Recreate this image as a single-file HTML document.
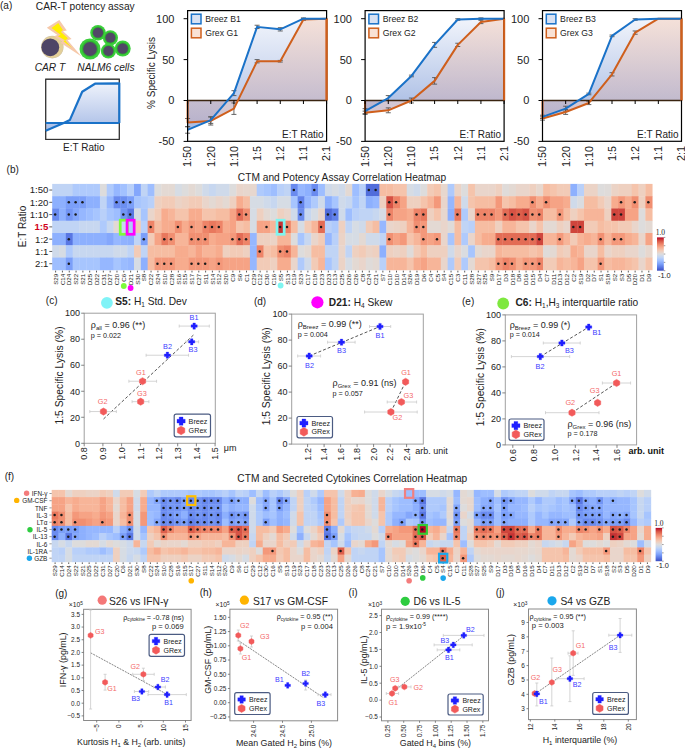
<!DOCTYPE html>
<html><head><meta charset="utf-8"><style>
html,body{margin:0;padding:0;background:#fff;}
svg{display:block;font-family:"Liberation Sans", sans-serif;}
</style></head><body>
<svg width="685" height="748" viewBox="0 0 685 748">
<rect width="685" height="748" fill="#fff"/>
<text x="0" y="9" font-size="10" fill="#222">(a)</text>
<text x="35.8" y="9.8" font-size="10.2" fill="#222">CAR-T potency assay</text>
<circle cx="52.3" cy="47.1" r="11.3" fill="#cfc3a6"/>
<circle cx="52.3" cy="47.1" r="10.8" fill="#e3cf98"/>
<circle cx="50.3" cy="47.3" r="8.9" fill="#4e4566"/>
<polygon points="59.3,20 66.8,30.6 63,31.3 71.6,38.9 67.6,40.2 81.5,56.5 60.5,42.8 62.3,41.6 54,36.3 57.4,35 46.8,27.8" fill="#f6c9aa" stroke="none" stroke-width="1"/>
<polygon points="58.3,23 62.9,29.9 60.9,31.9 67.9,38.3 65.3,40.5 72,47.9 63.5,41.2 65,40.3 58,36.2 60.6,34.8 51.5,27.9" fill="#ffee00" stroke="none" stroke-width="1"/>
<circle cx="90" cy="49" r="10.5" fill="#3ccf3c"/>
<circle cx="90" cy="49" r="8.19" fill="#2fb52f"/>
<circle cx="90" cy="49" r="6.93" fill="#514766"/>
<circle cx="98" cy="32.7" r="7.8" fill="#3ccf3c"/>
<circle cx="98" cy="32.7" r="6.08" fill="#2fb52f"/>
<circle cx="98" cy="32.7" r="5.15" fill="#514766"/>
<circle cx="110.4" cy="37.8" r="7.6" fill="#3ccf3c"/>
<circle cx="110.4" cy="37.8" r="5.93" fill="#2fb52f"/>
<circle cx="110.4" cy="37.8" r="5.02" fill="#514766"/>
<circle cx="108.4" cy="51" r="7.6" fill="#3ccf3c"/>
<circle cx="108.4" cy="51" r="5.93" fill="#2fb52f"/>
<circle cx="108.4" cy="51" r="5.02" fill="#514766"/>
<circle cx="122.7" cy="48.5" r="8" fill="#3ccf3c"/>
<circle cx="122.7" cy="48.5" r="6.24" fill="#2fb52f"/>
<circle cx="122.7" cy="48.5" r="5.28" fill="#514766"/>
<text x="34.7" y="70.8" font-size="10.2" font-style="italic" fill="#222">CAR T</text>
<text x="77.3" y="70.8" font-size="10.2" font-style="italic" fill="#222">NALM6 cells</text>
<defs><linearGradient id="gb" x1="0" y1="0" x2="0" y2="1"><stop offset="0" stop-color="#eef2fb"/><stop offset="1" stop-color="#a9bde6"/></linearGradient><linearGradient id="gB" x1="0" y1="0" x2="0" y2="1"><stop offset="0" stop-color="#f1f4fb"/><stop offset="1" stop-color="#a8bce4"/></linearGradient><linearGradient id="gO" x1="0" y1="0" x2="0" y2="1"><stop offset="0" stop-color="#f6dcd0" stop-opacity="0.8"/><stop offset="1" stop-color="#bdaec2" stop-opacity="0.72"/></linearGradient></defs>
<rect x="45.7" y="79.2" width="73.6" height="60.2" fill="#fff" stroke="#333" stroke-width="1"/>
<polygon points="45.7,130.7 63.7,123 69.8,120.1 82.2,91.7 95,83.7 119.3,83.3 119.3,123 45.7,123" fill="url(#gb)" stroke="none" stroke-width="1"/>
<rect x="45.7" y="79.2" width="73.6" height="60.2" fill="none" stroke="#333" stroke-width="1"/>
<polyline points="45.7,123 119.3,123" fill="none" stroke="#1a72c8" stroke-width="2.2"/>
<polyline points="45.7,130.7 63.7,123 69.8,120.1 82.2,91.7 95,83.7 119.3,83.3 119.3,123" fill="none" stroke="#1a72c8" stroke-width="2.2" stroke-linejoin="round"/>
<text x="83.8" y="150.6" font-size="10" text-anchor="middle" fill="#222">E:T Ratio</text>
<rect x="187.6" y="10.6" width="139" height="130.7" fill="#fff" stroke="none" stroke-width="1"/>
<polygon points="187.6,100.5 187.6,129.95 210.77,120.13 233.93,93.14 257.1,26.88 280.27,29.33 303.43,18.7 326.6,18.7 326.6,100.5" fill="url(#gB)" stroke="none" stroke-width="1"/>
<polygon points="187.6,100.5 187.6,122.59 210.77,120.95 233.93,108.68 257.1,61.24 280.27,61.24 303.43,19.52 326.6,18.7 326.6,100.5" fill="url(#gO)" stroke="none" stroke-width="1"/>
<line x1="187.6" y1="126.68" x2="187.6" y2="133.22" stroke="#555" stroke-width="0.9"/>
<line x1="185.1" y1="126.68" x2="190.1" y2="126.68" stroke="#555" stroke-width="0.9"/>
<line x1="185.1" y1="133.22" x2="190.1" y2="133.22" stroke="#555" stroke-width="0.9"/>
<line x1="210.77" y1="116.86" x2="210.77" y2="123.4" stroke="#555" stroke-width="0.9"/>
<line x1="208.27" y1="116.86" x2="213.27" y2="116.86" stroke="#555" stroke-width="0.9"/>
<line x1="208.27" y1="123.4" x2="213.27" y2="123.4" stroke="#555" stroke-width="0.9"/>
<line x1="233.93" y1="90.68" x2="233.93" y2="95.59" stroke="#555" stroke-width="0.9"/>
<line x1="231.43" y1="90.68" x2="236.43" y2="90.68" stroke="#555" stroke-width="0.9"/>
<line x1="231.43" y1="95.59" x2="236.43" y2="95.59" stroke="#555" stroke-width="0.9"/>
<line x1="257.1" y1="25.24" x2="257.1" y2="28.52" stroke="#555" stroke-width="0.9"/>
<line x1="254.6" y1="25.24" x2="259.6" y2="25.24" stroke="#555" stroke-width="0.9"/>
<line x1="254.6" y1="28.52" x2="259.6" y2="28.52" stroke="#555" stroke-width="0.9"/>
<line x1="280.27" y1="27.7" x2="280.27" y2="30.97" stroke="#555" stroke-width="0.9"/>
<line x1="277.77" y1="27.7" x2="282.77" y2="27.7" stroke="#555" stroke-width="0.9"/>
<line x1="277.77" y1="30.97" x2="282.77" y2="30.97" stroke="#555" stroke-width="0.9"/>
<line x1="303.43" y1="17.88" x2="303.43" y2="19.52" stroke="#555" stroke-width="0.9"/>
<line x1="300.93" y1="17.88" x2="305.93" y2="17.88" stroke="#555" stroke-width="0.9"/>
<line x1="300.93" y1="19.52" x2="305.93" y2="19.52" stroke="#555" stroke-width="0.9"/>
<line x1="187.6" y1="118.5" x2="187.6" y2="126.68" stroke="#555" stroke-width="0.9"/>
<line x1="185.1" y1="118.5" x2="190.1" y2="118.5" stroke="#555" stroke-width="0.9"/>
<line x1="185.1" y1="126.68" x2="190.1" y2="126.68" stroke="#555" stroke-width="0.9"/>
<line x1="210.77" y1="116.86" x2="210.77" y2="125.04" stroke="#555" stroke-width="0.9"/>
<line x1="208.27" y1="116.86" x2="213.27" y2="116.86" stroke="#555" stroke-width="0.9"/>
<line x1="208.27" y1="125.04" x2="213.27" y2="125.04" stroke="#555" stroke-width="0.9"/>
<line x1="233.93" y1="102.95" x2="233.93" y2="114.41" stroke="#555" stroke-width="0.9"/>
<line x1="231.43" y1="102.95" x2="236.43" y2="102.95" stroke="#555" stroke-width="0.9"/>
<line x1="231.43" y1="114.41" x2="236.43" y2="114.41" stroke="#555" stroke-width="0.9"/>
<line x1="257.1" y1="59.6" x2="257.1" y2="62.87" stroke="#555" stroke-width="0.9"/>
<line x1="254.6" y1="59.6" x2="259.6" y2="59.6" stroke="#555" stroke-width="0.9"/>
<line x1="254.6" y1="62.87" x2="259.6" y2="62.87" stroke="#555" stroke-width="0.9"/>
<line x1="280.27" y1="60.42" x2="280.27" y2="62.05" stroke="#555" stroke-width="0.9"/>
<line x1="277.77" y1="60.42" x2="282.77" y2="60.42" stroke="#555" stroke-width="0.9"/>
<line x1="277.77" y1="62.05" x2="282.77" y2="62.05" stroke="#555" stroke-width="0.9"/>
<line x1="303.43" y1="18.7" x2="303.43" y2="20.34" stroke="#555" stroke-width="0.9"/>
<line x1="300.93" y1="18.7" x2="305.93" y2="18.7" stroke="#555" stroke-width="0.9"/>
<line x1="300.93" y1="20.34" x2="305.93" y2="20.34" stroke="#555" stroke-width="0.9"/>
<line x1="187.6" y1="100.5" x2="326.6" y2="100.5" stroke="#3a2410" stroke-width="1.4"/>
<polyline points="187.6,100.5 187.6,122.59 210.77,120.95 233.93,108.68 257.1,61.24 280.27,61.24 303.43,19.52 326.6,18.7 326.6,100.5" fill="none" stroke="#cf5f1c" stroke-width="2" stroke-linejoin="round"/>
<polyline points="187.6,129.95 210.77,120.13 233.93,93.14 257.1,26.88 280.27,29.33 303.43,18.7 326.6,18.7" fill="none" stroke="#1a72c8" stroke-width="2" stroke-linejoin="round"/>
<rect x="187.6" y="10.6" width="139" height="130.7" fill="none" stroke="#000" stroke-width="1.2"/>
<line x1="326.6" y1="18.7" x2="326.6" y2="100.5" stroke="#cf5f1c" stroke-width="2"/>
<line x1="183.6" y1="18.7" x2="187.6" y2="18.7" stroke="#000" stroke-width="1"/>
<text x="174.4" y="22.6" font-size="11" text-anchor="end" fill="#222">100</text>
<line x1="183.6" y1="59.6" x2="187.6" y2="59.6" stroke="#000" stroke-width="1"/>
<text x="174.4" y="63.5" font-size="11" text-anchor="end" fill="#222">50</text>
<line x1="183.6" y1="100.5" x2="187.6" y2="100.5" stroke="#000" stroke-width="1"/>
<text x="174.4" y="104.4" font-size="11" text-anchor="end" fill="#222">0</text>
<line x1="183.6" y1="141.4" x2="187.6" y2="141.4" stroke="#000" stroke-width="1"/>
<text x="174.4" y="145.3" font-size="11" text-anchor="end" fill="#222">-50</text>
<line x1="187.6" y1="100.5" x2="187.6" y2="104" stroke="#000" stroke-width="1"/>
<text x="191.5" y="145.9" font-size="10.8" text-anchor="end" fill="#222" transform="rotate(-90 191.5 145.9)">1:50</text>
<line x1="210.77" y1="100.5" x2="210.77" y2="104" stroke="#000" stroke-width="1"/>
<text x="214.67" y="145.9" font-size="10.8" text-anchor="end" fill="#222" transform="rotate(-90 214.67 145.9)">1:20</text>
<line x1="233.93" y1="100.5" x2="233.93" y2="104" stroke="#000" stroke-width="1"/>
<text x="237.83" y="145.9" font-size="10.8" text-anchor="end" fill="#222" transform="rotate(-90 237.83 145.9)">1:10</text>
<line x1="257.1" y1="100.5" x2="257.1" y2="104" stroke="#000" stroke-width="1"/>
<text x="261" y="145.9" font-size="10.8" text-anchor="end" fill="#222" transform="rotate(-90 261 145.9)">1:5</text>
<line x1="280.27" y1="100.5" x2="280.27" y2="104" stroke="#000" stroke-width="1"/>
<text x="284.17" y="145.9" font-size="10.8" text-anchor="end" fill="#222" transform="rotate(-90 284.17 145.9)">1:2</text>
<line x1="303.43" y1="100.5" x2="303.43" y2="104" stroke="#000" stroke-width="1"/>
<text x="307.33" y="145.9" font-size="10.8" text-anchor="end" fill="#222" transform="rotate(-90 307.33 145.9)">1:1</text>
<line x1="326.6" y1="100.5" x2="326.6" y2="104" stroke="#000" stroke-width="1"/>
<text x="330.5" y="145.9" font-size="10.8" text-anchor="end" fill="#222" transform="rotate(-90 330.5 145.9)">2:1</text>
<text x="323.6" y="137.5" font-size="10" text-anchor="end" fill="#222">E:T Ratio</text>
<rect x="191.4" y="14.2" width="9.6" height="9.6" fill="#d7e1f3" stroke="#1a72c8" stroke-width="1.5"/>
<rect x="191.4" y="28.2" width="9.6" height="9.6" fill="#f9e1d4" stroke="#cf5f1c" stroke-width="1.5"/>
<text x="205.2" y="22.2" font-size="8.7" fill="#222">Breez B1</text>
<text x="205.2" y="36.3" font-size="8.7" fill="#222">Grex G1</text>
<rect x="365.1" y="10.6" width="139" height="130.7" fill="#fff" stroke="none" stroke-width="1"/>
<polygon points="365.1,100.5 365.1,111.13 388.27,98.05 411.43,75.96 434.6,44.88 457.77,19.52 480.93,18.7 504.1,18.7 504.1,100.5" fill="url(#gB)" stroke="none" stroke-width="1"/>
<polygon points="365.1,100.5 365.1,112.77 388.27,110.32 411.43,100.5 434.6,80.87 457.77,44.88 480.93,21.97 504.1,18.7 504.1,100.5" fill="url(#gO)" stroke="none" stroke-width="1"/>
<line x1="365.1" y1="108.68" x2="365.1" y2="113.59" stroke="#555" stroke-width="0.9"/>
<line x1="362.6" y1="108.68" x2="367.6" y2="108.68" stroke="#555" stroke-width="0.9"/>
<line x1="362.6" y1="113.59" x2="367.6" y2="113.59" stroke="#555" stroke-width="0.9"/>
<line x1="388.27" y1="95.59" x2="388.27" y2="100.5" stroke="#555" stroke-width="0.9"/>
<line x1="385.77" y1="95.59" x2="390.77" y2="95.59" stroke="#555" stroke-width="0.9"/>
<line x1="385.77" y1="100.5" x2="390.77" y2="100.5" stroke="#555" stroke-width="0.9"/>
<line x1="411.43" y1="75.14" x2="411.43" y2="76.78" stroke="#555" stroke-width="0.9"/>
<line x1="408.93" y1="75.14" x2="413.93" y2="75.14" stroke="#555" stroke-width="0.9"/>
<line x1="408.93" y1="76.78" x2="413.93" y2="76.78" stroke="#555" stroke-width="0.9"/>
<line x1="434.6" y1="42.42" x2="434.6" y2="47.33" stroke="#555" stroke-width="0.9"/>
<line x1="432.1" y1="42.42" x2="437.1" y2="42.42" stroke="#555" stroke-width="0.9"/>
<line x1="432.1" y1="47.33" x2="437.1" y2="47.33" stroke="#555" stroke-width="0.9"/>
<line x1="457.77" y1="18.7" x2="457.77" y2="20.34" stroke="#555" stroke-width="0.9"/>
<line x1="455.27" y1="18.7" x2="460.27" y2="18.7" stroke="#555" stroke-width="0.9"/>
<line x1="455.27" y1="20.34" x2="460.27" y2="20.34" stroke="#555" stroke-width="0.9"/>
<line x1="480.93" y1="17.88" x2="480.93" y2="19.52" stroke="#555" stroke-width="0.9"/>
<line x1="478.43" y1="17.88" x2="483.43" y2="17.88" stroke="#555" stroke-width="0.9"/>
<line x1="478.43" y1="19.52" x2="483.43" y2="19.52" stroke="#555" stroke-width="0.9"/>
<line x1="365.1" y1="111.13" x2="365.1" y2="114.41" stroke="#555" stroke-width="0.9"/>
<line x1="362.6" y1="111.13" x2="367.6" y2="111.13" stroke="#555" stroke-width="0.9"/>
<line x1="362.6" y1="114.41" x2="367.6" y2="114.41" stroke="#555" stroke-width="0.9"/>
<line x1="388.27" y1="107.86" x2="388.27" y2="112.77" stroke="#555" stroke-width="0.9"/>
<line x1="385.77" y1="107.86" x2="390.77" y2="107.86" stroke="#555" stroke-width="0.9"/>
<line x1="385.77" y1="112.77" x2="390.77" y2="112.77" stroke="#555" stroke-width="0.9"/>
<line x1="411.43" y1="98.05" x2="411.43" y2="102.95" stroke="#555" stroke-width="0.9"/>
<line x1="408.93" y1="98.05" x2="413.93" y2="98.05" stroke="#555" stroke-width="0.9"/>
<line x1="408.93" y1="102.95" x2="413.93" y2="102.95" stroke="#555" stroke-width="0.9"/>
<line x1="434.6" y1="77.6" x2="434.6" y2="84.14" stroke="#555" stroke-width="0.9"/>
<line x1="432.1" y1="77.6" x2="437.1" y2="77.6" stroke="#555" stroke-width="0.9"/>
<line x1="432.1" y1="84.14" x2="437.1" y2="84.14" stroke="#555" stroke-width="0.9"/>
<line x1="457.77" y1="43.24" x2="457.77" y2="46.51" stroke="#555" stroke-width="0.9"/>
<line x1="455.27" y1="43.24" x2="460.27" y2="43.24" stroke="#555" stroke-width="0.9"/>
<line x1="455.27" y1="46.51" x2="460.27" y2="46.51" stroke="#555" stroke-width="0.9"/>
<line x1="480.93" y1="20.34" x2="480.93" y2="23.61" stroke="#555" stroke-width="0.9"/>
<line x1="478.43" y1="20.34" x2="483.43" y2="20.34" stroke="#555" stroke-width="0.9"/>
<line x1="478.43" y1="23.61" x2="483.43" y2="23.61" stroke="#555" stroke-width="0.9"/>
<line x1="365.1" y1="100.5" x2="504.1" y2="100.5" stroke="#3a2410" stroke-width="1.4"/>
<polyline points="365.1,100.5 365.1,112.77 388.27,110.32 411.43,100.5 434.6,80.87 457.77,44.88 480.93,21.97 504.1,18.7 504.1,100.5" fill="none" stroke="#cf5f1c" stroke-width="2" stroke-linejoin="round"/>
<polyline points="365.1,111.13 388.27,98.05 411.43,75.96 434.6,44.88 457.77,19.52 480.93,18.7 504.1,18.7" fill="none" stroke="#1a72c8" stroke-width="2" stroke-linejoin="round"/>
<rect x="365.1" y="10.6" width="139" height="130.7" fill="none" stroke="#000" stroke-width="1.2"/>
<line x1="504.1" y1="18.7" x2="504.1" y2="100.5" stroke="#cf5f1c" stroke-width="2"/>
<line x1="361.1" y1="18.7" x2="365.1" y2="18.7" stroke="#000" stroke-width="1"/>
<text x="351.9" y="22.6" font-size="11" text-anchor="end" fill="#222">100</text>
<line x1="361.1" y1="59.6" x2="365.1" y2="59.6" stroke="#000" stroke-width="1"/>
<text x="351.9" y="63.5" font-size="11" text-anchor="end" fill="#222">50</text>
<line x1="361.1" y1="100.5" x2="365.1" y2="100.5" stroke="#000" stroke-width="1"/>
<text x="351.9" y="104.4" font-size="11" text-anchor="end" fill="#222">0</text>
<line x1="361.1" y1="141.4" x2="365.1" y2="141.4" stroke="#000" stroke-width="1"/>
<text x="351.9" y="145.3" font-size="11" text-anchor="end" fill="#222">-50</text>
<line x1="365.1" y1="100.5" x2="365.1" y2="104" stroke="#000" stroke-width="1"/>
<text x="369" y="145.9" font-size="10.8" text-anchor="end" fill="#222" transform="rotate(-90 369 145.9)">1:50</text>
<line x1="388.27" y1="100.5" x2="388.27" y2="104" stroke="#000" stroke-width="1"/>
<text x="392.17" y="145.9" font-size="10.8" text-anchor="end" fill="#222" transform="rotate(-90 392.17 145.9)">1:20</text>
<line x1="411.43" y1="100.5" x2="411.43" y2="104" stroke="#000" stroke-width="1"/>
<text x="415.33" y="145.9" font-size="10.8" text-anchor="end" fill="#222" transform="rotate(-90 415.33 145.9)">1:10</text>
<line x1="434.6" y1="100.5" x2="434.6" y2="104" stroke="#000" stroke-width="1"/>
<text x="438.5" y="145.9" font-size="10.8" text-anchor="end" fill="#222" transform="rotate(-90 438.5 145.9)">1:5</text>
<line x1="457.77" y1="100.5" x2="457.77" y2="104" stroke="#000" stroke-width="1"/>
<text x="461.67" y="145.9" font-size="10.8" text-anchor="end" fill="#222" transform="rotate(-90 461.67 145.9)">1:2</text>
<line x1="480.93" y1="100.5" x2="480.93" y2="104" stroke="#000" stroke-width="1"/>
<text x="484.83" y="145.9" font-size="10.8" text-anchor="end" fill="#222" transform="rotate(-90 484.83 145.9)">1:1</text>
<line x1="504.1" y1="100.5" x2="504.1" y2="104" stroke="#000" stroke-width="1"/>
<text x="508" y="145.9" font-size="10.8" text-anchor="end" fill="#222" transform="rotate(-90 508 145.9)">2:1</text>
<text x="501.1" y="137.5" font-size="10" text-anchor="end" fill="#222">E:T Ratio</text>
<rect x="368.9" y="14.2" width="9.6" height="9.6" fill="#d7e1f3" stroke="#1a72c8" stroke-width="1.5"/>
<rect x="368.9" y="28.2" width="9.6" height="9.6" fill="#f9e1d4" stroke="#cf5f1c" stroke-width="1.5"/>
<text x="382.7" y="22.2" font-size="8.7" fill="#222">Breez B2</text>
<text x="382.7" y="36.3" font-size="8.7" fill="#222">Grex G2</text>
<rect x="542.5" y="10.6" width="139" height="130.7" fill="#fff" stroke="none" stroke-width="1"/>
<polygon points="542.5,100.5 542.5,116.86 565.67,108.68 588.83,93.96 612,35.88 635.17,19.52 658.33,18.7 681.5,18.7 681.5,100.5" fill="url(#gB)" stroke="none" stroke-width="1"/>
<polygon points="542.5,100.5 542.5,118.5 565.67,111.95 588.83,102.95 612,74.32 635.17,32.61 658.33,18.7 681.5,18.7 681.5,100.5" fill="url(#gO)" stroke="none" stroke-width="1"/>
<line x1="542.5" y1="115.22" x2="542.5" y2="118.5" stroke="#555" stroke-width="0.9"/>
<line x1="540" y1="115.22" x2="545" y2="115.22" stroke="#555" stroke-width="0.9"/>
<line x1="540" y1="118.5" x2="545" y2="118.5" stroke="#555" stroke-width="0.9"/>
<line x1="565.67" y1="106.23" x2="565.67" y2="111.13" stroke="#555" stroke-width="0.9"/>
<line x1="563.17" y1="106.23" x2="568.17" y2="106.23" stroke="#555" stroke-width="0.9"/>
<line x1="563.17" y1="111.13" x2="568.17" y2="111.13" stroke="#555" stroke-width="0.9"/>
<line x1="588.83" y1="93.14" x2="588.83" y2="94.77" stroke="#555" stroke-width="0.9"/>
<line x1="586.33" y1="93.14" x2="591.33" y2="93.14" stroke="#555" stroke-width="0.9"/>
<line x1="586.33" y1="94.77" x2="591.33" y2="94.77" stroke="#555" stroke-width="0.9"/>
<line x1="612" y1="35.06" x2="612" y2="36.7" stroke="#555" stroke-width="0.9"/>
<line x1="609.5" y1="35.06" x2="614.5" y2="35.06" stroke="#555" stroke-width="0.9"/>
<line x1="609.5" y1="36.7" x2="614.5" y2="36.7" stroke="#555" stroke-width="0.9"/>
<line x1="635.17" y1="18.7" x2="635.17" y2="20.34" stroke="#555" stroke-width="0.9"/>
<line x1="632.67" y1="18.7" x2="637.67" y2="18.7" stroke="#555" stroke-width="0.9"/>
<line x1="632.67" y1="20.34" x2="637.67" y2="20.34" stroke="#555" stroke-width="0.9"/>
<line x1="542.5" y1="116.86" x2="542.5" y2="120.13" stroke="#555" stroke-width="0.9"/>
<line x1="540" y1="116.86" x2="545" y2="116.86" stroke="#555" stroke-width="0.9"/>
<line x1="540" y1="120.13" x2="545" y2="120.13" stroke="#555" stroke-width="0.9"/>
<line x1="565.67" y1="109.5" x2="565.67" y2="114.41" stroke="#555" stroke-width="0.9"/>
<line x1="563.17" y1="109.5" x2="568.17" y2="109.5" stroke="#555" stroke-width="0.9"/>
<line x1="563.17" y1="114.41" x2="568.17" y2="114.41" stroke="#555" stroke-width="0.9"/>
<line x1="588.83" y1="101.32" x2="588.83" y2="104.59" stroke="#555" stroke-width="0.9"/>
<line x1="586.33" y1="101.32" x2="591.33" y2="101.32" stroke="#555" stroke-width="0.9"/>
<line x1="586.33" y1="104.59" x2="591.33" y2="104.59" stroke="#555" stroke-width="0.9"/>
<line x1="612" y1="72.69" x2="612" y2="75.96" stroke="#555" stroke-width="0.9"/>
<line x1="609.5" y1="72.69" x2="614.5" y2="72.69" stroke="#555" stroke-width="0.9"/>
<line x1="609.5" y1="75.96" x2="614.5" y2="75.96" stroke="#555" stroke-width="0.9"/>
<line x1="635.17" y1="30.97" x2="635.17" y2="34.24" stroke="#555" stroke-width="0.9"/>
<line x1="632.67" y1="30.97" x2="637.67" y2="30.97" stroke="#555" stroke-width="0.9"/>
<line x1="632.67" y1="34.24" x2="637.67" y2="34.24" stroke="#555" stroke-width="0.9"/>
<line x1="542.5" y1="100.5" x2="681.5" y2="100.5" stroke="#3a2410" stroke-width="1.4"/>
<polyline points="542.5,100.5 542.5,118.5 565.67,111.95 588.83,102.95 612,74.32 635.17,32.61 658.33,18.7 681.5,18.7 681.5,100.5" fill="none" stroke="#cf5f1c" stroke-width="2" stroke-linejoin="round"/>
<polyline points="542.5,116.86 565.67,108.68 588.83,93.96 612,35.88 635.17,19.52 658.33,18.7 681.5,18.7" fill="none" stroke="#1a72c8" stroke-width="2" stroke-linejoin="round"/>
<rect x="542.5" y="10.6" width="139" height="130.7" fill="none" stroke="#000" stroke-width="1.2"/>
<line x1="681.5" y1="18.7" x2="681.5" y2="100.5" stroke="#cf5f1c" stroke-width="2"/>
<line x1="538.5" y1="18.7" x2="542.5" y2="18.7" stroke="#000" stroke-width="1"/>
<text x="529.3" y="22.6" font-size="11" text-anchor="end" fill="#222">100</text>
<line x1="538.5" y1="59.6" x2="542.5" y2="59.6" stroke="#000" stroke-width="1"/>
<text x="529.3" y="63.5" font-size="11" text-anchor="end" fill="#222">50</text>
<line x1="538.5" y1="100.5" x2="542.5" y2="100.5" stroke="#000" stroke-width="1"/>
<text x="529.3" y="104.4" font-size="11" text-anchor="end" fill="#222">0</text>
<line x1="538.5" y1="141.4" x2="542.5" y2="141.4" stroke="#000" stroke-width="1"/>
<text x="529.3" y="145.3" font-size="11" text-anchor="end" fill="#222">-50</text>
<line x1="542.5" y1="100.5" x2="542.5" y2="104" stroke="#000" stroke-width="1"/>
<text x="546.4" y="145.9" font-size="10.8" text-anchor="end" fill="#222" transform="rotate(-90 546.4 145.9)">1:50</text>
<line x1="565.67" y1="100.5" x2="565.67" y2="104" stroke="#000" stroke-width="1"/>
<text x="569.57" y="145.9" font-size="10.8" text-anchor="end" fill="#222" transform="rotate(-90 569.57 145.9)">1:20</text>
<line x1="588.83" y1="100.5" x2="588.83" y2="104" stroke="#000" stroke-width="1"/>
<text x="592.73" y="145.9" font-size="10.8" text-anchor="end" fill="#222" transform="rotate(-90 592.73 145.9)">1:10</text>
<line x1="612" y1="100.5" x2="612" y2="104" stroke="#000" stroke-width="1"/>
<text x="615.9" y="145.9" font-size="10.8" text-anchor="end" fill="#222" transform="rotate(-90 615.9 145.9)">1:5</text>
<line x1="635.17" y1="100.5" x2="635.17" y2="104" stroke="#000" stroke-width="1"/>
<text x="639.07" y="145.9" font-size="10.8" text-anchor="end" fill="#222" transform="rotate(-90 639.07 145.9)">1:2</text>
<line x1="658.33" y1="100.5" x2="658.33" y2="104" stroke="#000" stroke-width="1"/>
<text x="662.23" y="145.9" font-size="10.8" text-anchor="end" fill="#222" transform="rotate(-90 662.23 145.9)">1:1</text>
<line x1="681.5" y1="100.5" x2="681.5" y2="104" stroke="#000" stroke-width="1"/>
<text x="685.4" y="145.9" font-size="10.8" text-anchor="end" fill="#222" transform="rotate(-90 685.4 145.9)">2:1</text>
<text x="678.5" y="137.5" font-size="10" text-anchor="end" fill="#222">E:T Ratio</text>
<rect x="546.3" y="14.2" width="9.6" height="9.6" fill="#d7e1f3" stroke="#1a72c8" stroke-width="1.5"/>
<rect x="546.3" y="28.2" width="9.6" height="9.6" fill="#f9e1d4" stroke="#cf5f1c" stroke-width="1.5"/>
<text x="560.1" y="22.2" font-size="8.7" fill="#222">Breez B3</text>
<text x="560.1" y="36.3" font-size="8.7" fill="#222">Grex G3</text>
<text x="155.3" y="73" font-size="10" text-anchor="middle" fill="#222" transform="rotate(-90 155.3 73)">% Specific Lysis</text>
<rect x="52.2" y="183.9" width="7.17" height="12.63" fill="#c0d4f5" stroke="none" stroke-width="1"/>
<rect x="59.02" y="183.9" width="7.17" height="12.63" fill="#c0d4f5" stroke="none" stroke-width="1"/>
<rect x="65.84" y="183.9" width="7.17" height="12.63" fill="#c0d4f5" stroke="none" stroke-width="1"/>
<rect x="72.65" y="183.9" width="7.17" height="12.63" fill="#afcafc" stroke="none" stroke-width="1"/>
<rect x="79.47" y="183.9" width="7.17" height="12.63" fill="#afcafc" stroke="none" stroke-width="1"/>
<rect x="86.29" y="183.9" width="7.17" height="12.63" fill="#afcafc" stroke="none" stroke-width="1"/>
<rect x="93.11" y="183.9" width="7.17" height="12.63" fill="#afcafc" stroke="none" stroke-width="1"/>
<rect x="99.93" y="183.9" width="7.17" height="12.63" fill="#dddcdc" stroke="none" stroke-width="1"/>
<rect x="106.74" y="183.9" width="7.17" height="12.63" fill="#afcafc" stroke="none" stroke-width="1"/>
<rect x="113.56" y="183.9" width="7.17" height="12.63" fill="#96b7ff" stroke="none" stroke-width="1"/>
<rect x="120.38" y="183.9" width="7.17" height="12.63" fill="#a2c1ff" stroke="none" stroke-width="1"/>
<rect x="127.2" y="183.9" width="7.17" height="12.63" fill="#b9d0f9" stroke="none" stroke-width="1"/>
<rect x="134.02" y="183.9" width="7.17" height="12.63" fill="#84a7fc" stroke="none" stroke-width="1"/>
<rect x="140.83" y="183.9" width="7.17" height="12.63" fill="#c0d4f5" stroke="none" stroke-width="1"/>
<rect x="147.65" y="183.9" width="7.17" height="12.63" fill="#9ebeff" stroke="none" stroke-width="1"/>
<rect x="154.47" y="183.9" width="7.17" height="12.63" fill="#dddcdc" stroke="none" stroke-width="1"/>
<rect x="161.29" y="183.9" width="7.17" height="12.63" fill="#e3d9d3" stroke="none" stroke-width="1"/>
<rect x="168.11" y="183.9" width="7.17" height="12.63" fill="#e3d9d3" stroke="none" stroke-width="1"/>
<rect x="174.92" y="183.9" width="7.17" height="12.63" fill="#d6dce4" stroke="none" stroke-width="1"/>
<rect x="181.74" y="183.9" width="7.17" height="12.63" fill="#dddcdc" stroke="none" stroke-width="1"/>
<rect x="188.56" y="183.9" width="7.17" height="12.63" fill="#e3d9d3" stroke="none" stroke-width="1"/>
<rect x="195.38" y="183.9" width="7.17" height="12.63" fill="#dddcdc" stroke="none" stroke-width="1"/>
<rect x="202.2" y="183.9" width="7.17" height="12.63" fill="#cfdaea" stroke="none" stroke-width="1"/>
<rect x="209.01" y="183.9" width="7.17" height="12.63" fill="#c7d7f0" stroke="none" stroke-width="1"/>
<rect x="215.83" y="183.9" width="7.17" height="12.63" fill="#cfdaea" stroke="none" stroke-width="1"/>
<rect x="222.65" y="183.9" width="7.17" height="12.63" fill="#cfdaea" stroke="none" stroke-width="1"/>
<rect x="229.47" y="183.9" width="7.17" height="12.63" fill="#dddcdc" stroke="none" stroke-width="1"/>
<rect x="236.29" y="183.9" width="7.17" height="12.63" fill="#e9d5cb" stroke="none" stroke-width="1"/>
<rect x="243.1" y="183.9" width="7.17" height="12.63" fill="#e7d7ce" stroke="none" stroke-width="1"/>
<rect x="249.92" y="183.9" width="7.17" height="12.63" fill="#e7d7ce" stroke="none" stroke-width="1"/>
<rect x="256.74" y="183.9" width="7.17" height="12.63" fill="#afcafc" stroke="none" stroke-width="1"/>
<rect x="263.56" y="183.9" width="7.17" height="12.63" fill="#a7c5fe" stroke="none" stroke-width="1"/>
<rect x="270.38" y="183.9" width="7.17" height="12.63" fill="#9ebeff" stroke="none" stroke-width="1"/>
<rect x="277.19" y="183.9" width="7.17" height="12.63" fill="#b9d0f9" stroke="none" stroke-width="1"/>
<rect x="284.01" y="183.9" width="7.17" height="12.63" fill="#c0d4f5" stroke="none" stroke-width="1"/>
<rect x="290.83" y="183.9" width="7.17" height="12.63" fill="#6a8bef" stroke="none" stroke-width="1"/>
<rect x="297.65" y="183.9" width="7.17" height="12.63" fill="#96b7ff" stroke="none" stroke-width="1"/>
<rect x="304.47" y="183.9" width="7.17" height="12.63" fill="#8db0fe" stroke="none" stroke-width="1"/>
<rect x="311.28" y="183.9" width="7.17" height="12.63" fill="#6a8bef" stroke="none" stroke-width="1"/>
<rect x="318.1" y="183.9" width="7.17" height="12.63" fill="#9ebeff" stroke="none" stroke-width="1"/>
<rect x="324.92" y="183.9" width="7.17" height="12.63" fill="#cfdaea" stroke="none" stroke-width="1"/>
<rect x="331.74" y="183.9" width="7.17" height="12.63" fill="#d6dce4" stroke="none" stroke-width="1"/>
<rect x="338.56" y="183.9" width="7.17" height="12.63" fill="#cfdaea" stroke="none" stroke-width="1"/>
<rect x="345.37" y="183.9" width="7.17" height="12.63" fill="#e3d9d3" stroke="none" stroke-width="1"/>
<rect x="352.19" y="183.9" width="7.17" height="12.63" fill="#9ebeff" stroke="none" stroke-width="1"/>
<rect x="359.01" y="183.9" width="7.17" height="12.63" fill="#b9d0f9" stroke="none" stroke-width="1"/>
<rect x="365.83" y="183.9" width="7.17" height="12.63" fill="#516ddb" stroke="none" stroke-width="1"/>
<rect x="372.65" y="183.9" width="7.17" height="12.63" fill="#516ddb" stroke="none" stroke-width="1"/>
<rect x="379.46" y="183.9" width="7.17" height="12.63" fill="#f6bda2" stroke="none" stroke-width="1"/>
<rect x="386.28" y="183.9" width="7.17" height="12.63" fill="#f6bda2" stroke="none" stroke-width="1"/>
<rect x="393.1" y="183.9" width="7.17" height="12.63" fill="#f5c4ac" stroke="none" stroke-width="1"/>
<rect x="399.92" y="183.9" width="7.17" height="12.63" fill="#f5c4ac" stroke="none" stroke-width="1"/>
<rect x="406.74" y="183.9" width="7.17" height="12.63" fill="#d6dce4" stroke="none" stroke-width="1"/>
<rect x="413.55" y="183.9" width="7.17" height="12.63" fill="#cfdaea" stroke="none" stroke-width="1"/>
<rect x="420.37" y="183.9" width="7.17" height="12.63" fill="#dddcdc" stroke="none" stroke-width="1"/>
<rect x="427.19" y="183.9" width="7.17" height="12.63" fill="#f2cbb7" stroke="none" stroke-width="1"/>
<rect x="434.01" y="183.9" width="7.17" height="12.63" fill="#f5c4ac" stroke="none" stroke-width="1"/>
<rect x="440.83" y="183.9" width="7.17" height="12.63" fill="#e7d7ce" stroke="none" stroke-width="1"/>
<rect x="447.64" y="183.9" width="7.17" height="12.63" fill="#afcafc" stroke="none" stroke-width="1"/>
<rect x="454.46" y="183.9" width="7.17" height="12.63" fill="#ebd3c6" stroke="none" stroke-width="1"/>
<rect x="461.28" y="183.9" width="7.17" height="12.63" fill="#dddcdc" stroke="none" stroke-width="1"/>
<rect x="468.1" y="183.9" width="7.17" height="12.63" fill="#f5c4ac" stroke="none" stroke-width="1"/>
<rect x="474.92" y="183.9" width="7.17" height="12.63" fill="#e9d5cb" stroke="none" stroke-width="1"/>
<rect x="481.73" y="183.9" width="7.17" height="12.63" fill="#e9d5cb" stroke="none" stroke-width="1"/>
<rect x="488.55" y="183.9" width="7.17" height="12.63" fill="#e9d5cb" stroke="none" stroke-width="1"/>
<rect x="495.37" y="183.9" width="7.17" height="12.63" fill="#eed0c0" stroke="none" stroke-width="1"/>
<rect x="502.19" y="183.9" width="7.17" height="12.63" fill="#dfdbd9" stroke="none" stroke-width="1"/>
<rect x="509.01" y="183.9" width="7.17" height="12.63" fill="#e3d9d3" stroke="none" stroke-width="1"/>
<rect x="515.82" y="183.9" width="7.17" height="12.63" fill="#e9d5cb" stroke="none" stroke-width="1"/>
<rect x="522.64" y="183.9" width="7.17" height="12.63" fill="#e9d5cb" stroke="none" stroke-width="1"/>
<rect x="529.46" y="183.9" width="7.17" height="12.63" fill="#eed0c0" stroke="none" stroke-width="1"/>
<rect x="536.28" y="183.9" width="7.17" height="12.63" fill="#e7d7ce" stroke="none" stroke-width="1"/>
<rect x="543.1" y="183.9" width="7.17" height="12.63" fill="#f6bda2" stroke="none" stroke-width="1"/>
<rect x="549.91" y="183.9" width="7.17" height="12.63" fill="#f5c4ac" stroke="none" stroke-width="1"/>
<rect x="556.73" y="183.9" width="7.17" height="12.63" fill="#f2cbb7" stroke="none" stroke-width="1"/>
<rect x="563.55" y="183.9" width="7.17" height="12.63" fill="#f2cbb7" stroke="none" stroke-width="1"/>
<rect x="570.37" y="183.9" width="7.17" height="12.63" fill="#8db0fe" stroke="none" stroke-width="1"/>
<rect x="577.19" y="183.9" width="7.17" height="12.63" fill="#b9d0f9" stroke="none" stroke-width="1"/>
<rect x="584" y="183.9" width="7.17" height="12.63" fill="#ebd3c6" stroke="none" stroke-width="1"/>
<rect x="590.82" y="183.9" width="7.17" height="12.63" fill="#ebd3c6" stroke="none" stroke-width="1"/>
<rect x="597.64" y="183.9" width="7.17" height="12.63" fill="#dddcdc" stroke="none" stroke-width="1"/>
<rect x="604.46" y="183.9" width="7.17" height="12.63" fill="#dfdbd9" stroke="none" stroke-width="1"/>
<rect x="611.28" y="183.9" width="7.17" height="12.63" fill="#ebd3c6" stroke="none" stroke-width="1"/>
<rect x="618.09" y="183.9" width="7.17" height="12.63" fill="#eed0c0" stroke="none" stroke-width="1"/>
<rect x="624.91" y="183.9" width="7.17" height="12.63" fill="#eed0c0" stroke="none" stroke-width="1"/>
<rect x="631.73" y="183.9" width="7.17" height="12.63" fill="#f5c4ac" stroke="none" stroke-width="1"/>
<rect x="638.55" y="183.9" width="7.17" height="12.63" fill="#eed0c0" stroke="none" stroke-width="1"/>
<rect x="645.37" y="183.9" width="7.17" height="12.63" fill="#f6bda2" stroke="none" stroke-width="1"/>
<rect x="52.2" y="196.18" width="7.17" height="12.63" fill="#8db0fe" stroke="none" stroke-width="1"/>
<rect x="59.02" y="196.18" width="7.17" height="12.63" fill="#8db0fe" stroke="none" stroke-width="1"/>
<rect x="65.84" y="196.18" width="7.17" height="12.63" fill="#7b9ff9" stroke="none" stroke-width="1"/>
<rect x="72.65" y="196.18" width="7.17" height="12.63" fill="#7b9ff9" stroke="none" stroke-width="1"/>
<rect x="79.47" y="196.18" width="7.17" height="12.63" fill="#7b9ff9" stroke="none" stroke-width="1"/>
<rect x="86.29" y="196.18" width="7.17" height="12.63" fill="#8db0fe" stroke="none" stroke-width="1"/>
<rect x="93.11" y="196.18" width="7.17" height="12.63" fill="#8db0fe" stroke="none" stroke-width="1"/>
<rect x="99.93" y="196.18" width="7.17" height="12.63" fill="#c0d4f5" stroke="none" stroke-width="1"/>
<rect x="106.74" y="196.18" width="7.17" height="12.63" fill="#96b7ff" stroke="none" stroke-width="1"/>
<rect x="113.56" y="196.18" width="7.17" height="12.63" fill="#6a8bef" stroke="none" stroke-width="1"/>
<rect x="120.38" y="196.18" width="7.17" height="12.63" fill="#6c8ff1" stroke="none" stroke-width="1"/>
<rect x="127.2" y="196.18" width="7.17" height="12.63" fill="#7b9ff9" stroke="none" stroke-width="1"/>
<rect x="134.02" y="196.18" width="7.17" height="12.63" fill="#a7c5fe" stroke="none" stroke-width="1"/>
<rect x="140.83" y="196.18" width="7.17" height="12.63" fill="#afcafc" stroke="none" stroke-width="1"/>
<rect x="147.65" y="196.18" width="7.17" height="12.63" fill="#b9d0f9" stroke="none" stroke-width="1"/>
<rect x="154.47" y="196.18" width="7.17" height="12.63" fill="#eed0c0" stroke="none" stroke-width="1"/>
<rect x="161.29" y="196.18" width="7.17" height="12.63" fill="#f2cbb7" stroke="none" stroke-width="1"/>
<rect x="168.11" y="196.18" width="7.17" height="12.63" fill="#f2cbb7" stroke="none" stroke-width="1"/>
<rect x="174.92" y="196.18" width="7.17" height="12.63" fill="#ebd3c6" stroke="none" stroke-width="1"/>
<rect x="181.74" y="196.18" width="7.17" height="12.63" fill="#eed0c0" stroke="none" stroke-width="1"/>
<rect x="188.56" y="196.18" width="7.17" height="12.63" fill="#f2cbb7" stroke="none" stroke-width="1"/>
<rect x="195.38" y="196.18" width="7.17" height="12.63" fill="#f2cbb7" stroke="none" stroke-width="1"/>
<rect x="202.2" y="196.18" width="7.17" height="12.63" fill="#e9d5cb" stroke="none" stroke-width="1"/>
<rect x="209.01" y="196.18" width="7.17" height="12.63" fill="#e3d9d3" stroke="none" stroke-width="1"/>
<rect x="215.83" y="196.18" width="7.17" height="12.63" fill="#e9d5cb" stroke="none" stroke-width="1"/>
<rect x="222.65" y="196.18" width="7.17" height="12.63" fill="#e3d9d3" stroke="none" stroke-width="1"/>
<rect x="229.47" y="196.18" width="7.17" height="12.63" fill="#eed0c0" stroke="none" stroke-width="1"/>
<rect x="236.29" y="196.18" width="7.17" height="12.63" fill="#f7ac8e" stroke="none" stroke-width="1"/>
<rect x="243.1" y="196.18" width="7.17" height="12.63" fill="#f6bda2" stroke="none" stroke-width="1"/>
<rect x="249.92" y="196.18" width="7.17" height="12.63" fill="#d6dce4" stroke="none" stroke-width="1"/>
<rect x="256.74" y="196.18" width="7.17" height="12.63" fill="#d6dce4" stroke="none" stroke-width="1"/>
<rect x="263.56" y="196.18" width="7.17" height="12.63" fill="#cfdaea" stroke="none" stroke-width="1"/>
<rect x="270.38" y="196.18" width="7.17" height="12.63" fill="#c7d7f0" stroke="none" stroke-width="1"/>
<rect x="277.19" y="196.18" width="7.17" height="12.63" fill="#d6dce4" stroke="none" stroke-width="1"/>
<rect x="284.01" y="196.18" width="7.17" height="12.63" fill="#d6dce4" stroke="none" stroke-width="1"/>
<rect x="290.83" y="196.18" width="7.17" height="12.63" fill="#a7c5fe" stroke="none" stroke-width="1"/>
<rect x="297.65" y="196.18" width="7.17" height="12.63" fill="#6282ea" stroke="none" stroke-width="1"/>
<rect x="304.47" y="196.18" width="7.17" height="12.63" fill="#96b7ff" stroke="none" stroke-width="1"/>
<rect x="311.28" y="196.18" width="7.17" height="12.63" fill="#afcafc" stroke="none" stroke-width="1"/>
<rect x="318.1" y="196.18" width="7.17" height="12.63" fill="#cfdaea" stroke="none" stroke-width="1"/>
<rect x="324.92" y="196.18" width="7.17" height="12.63" fill="#8db0fe" stroke="none" stroke-width="1"/>
<rect x="331.74" y="196.18" width="7.17" height="12.63" fill="#a7c5fe" stroke="none" stroke-width="1"/>
<rect x="338.56" y="196.18" width="7.17" height="12.63" fill="#cfdaea" stroke="none" stroke-width="1"/>
<rect x="345.37" y="196.18" width="7.17" height="12.63" fill="#c7d7f0" stroke="none" stroke-width="1"/>
<rect x="352.19" y="196.18" width="7.17" height="12.63" fill="#a7c5fe" stroke="none" stroke-width="1"/>
<rect x="359.01" y="196.18" width="7.17" height="12.63" fill="#c0d4f5" stroke="none" stroke-width="1"/>
<rect x="365.83" y="196.18" width="7.17" height="12.63" fill="#8db0fe" stroke="none" stroke-width="1"/>
<rect x="372.65" y="196.18" width="7.17" height="12.63" fill="#96b7ff" stroke="none" stroke-width="1"/>
<rect x="379.46" y="196.18" width="7.17" height="12.63" fill="#eed0c0" stroke="none" stroke-width="1"/>
<rect x="386.28" y="196.18" width="7.17" height="12.63" fill="#d65244" stroke="none" stroke-width="1"/>
<rect x="393.1" y="196.18" width="7.17" height="12.63" fill="#ee8468" stroke="none" stroke-width="1"/>
<rect x="399.92" y="196.18" width="7.17" height="12.63" fill="#f6a385" stroke="none" stroke-width="1"/>
<rect x="406.74" y="196.18" width="7.17" height="12.63" fill="#eed0c0" stroke="none" stroke-width="1"/>
<rect x="413.55" y="196.18" width="7.17" height="12.63" fill="#eed0c0" stroke="none" stroke-width="1"/>
<rect x="420.37" y="196.18" width="7.17" height="12.63" fill="#f5c4ac" stroke="none" stroke-width="1"/>
<rect x="427.19" y="196.18" width="7.17" height="12.63" fill="#f7b599" stroke="none" stroke-width="1"/>
<rect x="434.01" y="196.18" width="7.17" height="12.63" fill="#f4987a" stroke="none" stroke-width="1"/>
<rect x="440.83" y="196.18" width="7.17" height="12.63" fill="#e9d5cb" stroke="none" stroke-width="1"/>
<rect x="447.64" y="196.18" width="7.17" height="12.63" fill="#96b7ff" stroke="none" stroke-width="1"/>
<rect x="454.46" y="196.18" width="7.17" height="12.63" fill="#f7b599" stroke="none" stroke-width="1"/>
<rect x="461.28" y="196.18" width="7.17" height="12.63" fill="#cfdaea" stroke="none" stroke-width="1"/>
<rect x="468.1" y="196.18" width="7.17" height="12.63" fill="#f5c4ac" stroke="none" stroke-width="1"/>
<rect x="474.92" y="196.18" width="7.17" height="12.63" fill="#f6bda2" stroke="none" stroke-width="1"/>
<rect x="481.73" y="196.18" width="7.17" height="12.63" fill="#f6bda2" stroke="none" stroke-width="1"/>
<rect x="488.55" y="196.18" width="7.17" height="12.63" fill="#f6bda2" stroke="none" stroke-width="1"/>
<rect x="495.37" y="196.18" width="7.17" height="12.63" fill="#f4987a" stroke="none" stroke-width="1"/>
<rect x="502.19" y="196.18" width="7.17" height="12.63" fill="#f5c4ac" stroke="none" stroke-width="1"/>
<rect x="509.01" y="196.18" width="7.17" height="12.63" fill="#f6bda2" stroke="none" stroke-width="1"/>
<rect x="515.82" y="196.18" width="7.17" height="12.63" fill="#f7ac8e" stroke="none" stroke-width="1"/>
<rect x="522.64" y="196.18" width="7.17" height="12.63" fill="#f7ac8e" stroke="none" stroke-width="1"/>
<rect x="529.46" y="196.18" width="7.17" height="12.63" fill="#f18f71" stroke="none" stroke-width="1"/>
<rect x="536.28" y="196.18" width="7.17" height="12.63" fill="#f7ac8e" stroke="none" stroke-width="1"/>
<rect x="543.1" y="196.18" width="7.17" height="12.63" fill="#f18f71" stroke="none" stroke-width="1"/>
<rect x="549.91" y="196.18" width="7.17" height="12.63" fill="#f6a385" stroke="none" stroke-width="1"/>
<rect x="556.73" y="196.18" width="7.17" height="12.63" fill="#f6a385" stroke="none" stroke-width="1"/>
<rect x="563.55" y="196.18" width="7.17" height="12.63" fill="#f7ac8e" stroke="none" stroke-width="1"/>
<rect x="570.37" y="196.18" width="7.17" height="12.63" fill="#cfdaea" stroke="none" stroke-width="1"/>
<rect x="577.19" y="196.18" width="7.17" height="12.63" fill="#dadce0" stroke="none" stroke-width="1"/>
<rect x="584" y="196.18" width="7.17" height="12.63" fill="#f6bda2" stroke="none" stroke-width="1"/>
<rect x="590.82" y="196.18" width="7.17" height="12.63" fill="#f6bda2" stroke="none" stroke-width="1"/>
<rect x="597.64" y="196.18" width="7.17" height="12.63" fill="#f2cbb7" stroke="none" stroke-width="1"/>
<rect x="604.46" y="196.18" width="7.17" height="12.63" fill="#e9d5cb" stroke="none" stroke-width="1"/>
<rect x="611.28" y="196.18" width="7.17" height="12.63" fill="#f7ac8e" stroke="none" stroke-width="1"/>
<rect x="618.09" y="196.18" width="7.17" height="12.63" fill="#f4987a" stroke="none" stroke-width="1"/>
<rect x="624.91" y="196.18" width="7.17" height="12.63" fill="#f7ac8e" stroke="none" stroke-width="1"/>
<rect x="631.73" y="196.18" width="7.17" height="12.63" fill="#f18f71" stroke="none" stroke-width="1"/>
<rect x="638.55" y="196.18" width="7.17" height="12.63" fill="#eed0c0" stroke="none" stroke-width="1"/>
<rect x="645.37" y="196.18" width="7.17" height="12.63" fill="#f18f71" stroke="none" stroke-width="1"/>
<rect x="52.2" y="208.46" width="7.17" height="12.63" fill="#6a8bef" stroke="none" stroke-width="1"/>
<rect x="59.02" y="208.46" width="7.17" height="12.63" fill="#8db0fe" stroke="none" stroke-width="1"/>
<rect x="65.84" y="208.46" width="7.17" height="12.63" fill="#7295f4" stroke="none" stroke-width="1"/>
<rect x="72.65" y="208.46" width="7.17" height="12.63" fill="#84a7fc" stroke="none" stroke-width="1"/>
<rect x="79.47" y="208.46" width="7.17" height="12.63" fill="#96b7ff" stroke="none" stroke-width="1"/>
<rect x="86.29" y="208.46" width="7.17" height="12.63" fill="#9ebeff" stroke="none" stroke-width="1"/>
<rect x="93.11" y="208.46" width="7.17" height="12.63" fill="#a7c5fe" stroke="none" stroke-width="1"/>
<rect x="99.93" y="208.46" width="7.17" height="12.63" fill="#b9d0f9" stroke="none" stroke-width="1"/>
<rect x="106.74" y="208.46" width="7.17" height="12.63" fill="#a7c5fe" stroke="none" stroke-width="1"/>
<rect x="113.56" y="208.46" width="7.17" height="12.63" fill="#9ebeff" stroke="none" stroke-width="1"/>
<rect x="120.38" y="208.46" width="7.17" height="12.63" fill="#7295f4" stroke="none" stroke-width="1"/>
<rect x="127.2" y="208.46" width="7.17" height="12.63" fill="#5977e3" stroke="none" stroke-width="1"/>
<rect x="134.02" y="208.46" width="7.17" height="12.63" fill="#d6dce4" stroke="none" stroke-width="1"/>
<rect x="140.83" y="208.46" width="7.17" height="12.63" fill="#a7c5fe" stroke="none" stroke-width="1"/>
<rect x="147.65" y="208.46" width="7.17" height="12.63" fill="#e9d5cb" stroke="none" stroke-width="1"/>
<rect x="154.47" y="208.46" width="7.17" height="12.63" fill="#f2cbb7" stroke="none" stroke-width="1"/>
<rect x="161.29" y="208.46" width="7.17" height="12.63" fill="#f7ac8e" stroke="none" stroke-width="1"/>
<rect x="168.11" y="208.46" width="7.17" height="12.63" fill="#f7b599" stroke="none" stroke-width="1"/>
<rect x="174.92" y="208.46" width="7.17" height="12.63" fill="#f5c4ac" stroke="none" stroke-width="1"/>
<rect x="181.74" y="208.46" width="7.17" height="12.63" fill="#f5c4ac" stroke="none" stroke-width="1"/>
<rect x="188.56" y="208.46" width="7.17" height="12.63" fill="#f7ac8e" stroke="none" stroke-width="1"/>
<rect x="195.38" y="208.46" width="7.17" height="12.63" fill="#f7ac8e" stroke="none" stroke-width="1"/>
<rect x="202.2" y="208.46" width="7.17" height="12.63" fill="#f5c4ac" stroke="none" stroke-width="1"/>
<rect x="209.01" y="208.46" width="7.17" height="12.63" fill="#f5c4ac" stroke="none" stroke-width="1"/>
<rect x="215.83" y="208.46" width="7.17" height="12.63" fill="#f6bda2" stroke="none" stroke-width="1"/>
<rect x="222.65" y="208.46" width="7.17" height="12.63" fill="#f6bda2" stroke="none" stroke-width="1"/>
<rect x="229.47" y="208.46" width="7.17" height="12.63" fill="#f6a385" stroke="none" stroke-width="1"/>
<rect x="236.29" y="208.46" width="7.17" height="12.63" fill="#e36c55" stroke="none" stroke-width="1"/>
<rect x="243.1" y="208.46" width="7.17" height="12.63" fill="#f18f71" stroke="none" stroke-width="1"/>
<rect x="249.92" y="208.46" width="7.17" height="12.63" fill="#d6dce4" stroke="none" stroke-width="1"/>
<rect x="256.74" y="208.46" width="7.17" height="12.63" fill="#eed0c0" stroke="none" stroke-width="1"/>
<rect x="263.56" y="208.46" width="7.17" height="12.63" fill="#e3d9d3" stroke="none" stroke-width="1"/>
<rect x="270.38" y="208.46" width="7.17" height="12.63" fill="#dddcdc" stroke="none" stroke-width="1"/>
<rect x="277.19" y="208.46" width="7.17" height="12.63" fill="#eed0c0" stroke="none" stroke-width="1"/>
<rect x="284.01" y="208.46" width="7.17" height="12.63" fill="#e9d5cb" stroke="none" stroke-width="1"/>
<rect x="290.83" y="208.46" width="7.17" height="12.63" fill="#cfdaea" stroke="none" stroke-width="1"/>
<rect x="297.65" y="208.46" width="7.17" height="12.63" fill="#6a8bef" stroke="none" stroke-width="1"/>
<rect x="304.47" y="208.46" width="7.17" height="12.63" fill="#c7d7f0" stroke="none" stroke-width="1"/>
<rect x="311.28" y="208.46" width="7.17" height="12.63" fill="#d6dce4" stroke="none" stroke-width="1"/>
<rect x="318.1" y="208.46" width="7.17" height="12.63" fill="#e9d5cb" stroke="none" stroke-width="1"/>
<rect x="324.92" y="208.46" width="7.17" height="12.63" fill="#516ddb" stroke="none" stroke-width="1"/>
<rect x="331.74" y="208.46" width="7.17" height="12.63" fill="#6282ea" stroke="none" stroke-width="1"/>
<rect x="338.56" y="208.46" width="7.17" height="12.63" fill="#cfdaea" stroke="none" stroke-width="1"/>
<rect x="345.37" y="208.46" width="7.17" height="12.63" fill="#9ebeff" stroke="none" stroke-width="1"/>
<rect x="352.19" y="208.46" width="7.17" height="12.63" fill="#b9d0f9" stroke="none" stroke-width="1"/>
<rect x="359.01" y="208.46" width="7.17" height="12.63" fill="#c0d4f5" stroke="none" stroke-width="1"/>
<rect x="365.83" y="208.46" width="7.17" height="12.63" fill="#c0d4f5" stroke="none" stroke-width="1"/>
<rect x="372.65" y="208.46" width="7.17" height="12.63" fill="#c7d7f0" stroke="none" stroke-width="1"/>
<rect x="379.46" y="208.46" width="7.17" height="12.63" fill="#d6dce4" stroke="none" stroke-width="1"/>
<rect x="386.28" y="208.46" width="7.17" height="12.63" fill="#ee8468" stroke="none" stroke-width="1"/>
<rect x="393.1" y="208.46" width="7.17" height="12.63" fill="#f6a385" stroke="none" stroke-width="1"/>
<rect x="399.92" y="208.46" width="7.17" height="12.63" fill="#f6a385" stroke="none" stroke-width="1"/>
<rect x="406.74" y="208.46" width="7.17" height="12.63" fill="#f7ac8e" stroke="none" stroke-width="1"/>
<rect x="413.55" y="208.46" width="7.17" height="12.63" fill="#ee8468" stroke="none" stroke-width="1"/>
<rect x="420.37" y="208.46" width="7.17" height="12.63" fill="#e9785d" stroke="none" stroke-width="1"/>
<rect x="427.19" y="208.46" width="7.17" height="12.63" fill="#eed0c0" stroke="none" stroke-width="1"/>
<rect x="434.01" y="208.46" width="7.17" height="12.63" fill="#f5c4ac" stroke="none" stroke-width="1"/>
<rect x="440.83" y="208.46" width="7.17" height="12.63" fill="#e7d7ce" stroke="none" stroke-width="1"/>
<rect x="447.64" y="208.46" width="7.17" height="12.63" fill="#8db0fe" stroke="none" stroke-width="1"/>
<rect x="454.46" y="208.46" width="7.17" height="12.63" fill="#e9785d" stroke="none" stroke-width="1"/>
<rect x="461.28" y="208.46" width="7.17" height="12.63" fill="#afcafc" stroke="none" stroke-width="1"/>
<rect x="468.1" y="208.46" width="7.17" height="12.63" fill="#e9d5cb" stroke="none" stroke-width="1"/>
<rect x="474.92" y="208.46" width="7.17" height="12.63" fill="#ee8468" stroke="none" stroke-width="1"/>
<rect x="481.73" y="208.46" width="7.17" height="12.63" fill="#ee8468" stroke="none" stroke-width="1"/>
<rect x="488.55" y="208.46" width="7.17" height="12.63" fill="#ee8468" stroke="none" stroke-width="1"/>
<rect x="495.37" y="208.46" width="7.17" height="12.63" fill="#f4987a" stroke="none" stroke-width="1"/>
<rect x="502.19" y="208.46" width="7.17" height="12.63" fill="#e36c55" stroke="none" stroke-width="1"/>
<rect x="509.01" y="208.46" width="7.17" height="12.63" fill="#d65244" stroke="none" stroke-width="1"/>
<rect x="515.82" y="208.46" width="7.17" height="12.63" fill="#dd5f4b" stroke="none" stroke-width="1"/>
<rect x="522.64" y="208.46" width="7.17" height="12.63" fill="#d65244" stroke="none" stroke-width="1"/>
<rect x="529.46" y="208.46" width="7.17" height="12.63" fill="#f18f71" stroke="none" stroke-width="1"/>
<rect x="536.28" y="208.46" width="7.17" height="12.63" fill="#ee8468" stroke="none" stroke-width="1"/>
<rect x="543.1" y="208.46" width="7.17" height="12.63" fill="#f6bda2" stroke="none" stroke-width="1"/>
<rect x="549.91" y="208.46" width="7.17" height="12.63" fill="#f6bda2" stroke="none" stroke-width="1"/>
<rect x="556.73" y="208.46" width="7.17" height="12.63" fill="#f4987a" stroke="none" stroke-width="1"/>
<rect x="563.55" y="208.46" width="7.17" height="12.63" fill="#f6bda2" stroke="none" stroke-width="1"/>
<rect x="570.37" y="208.46" width="7.17" height="12.63" fill="#eed0c0" stroke="none" stroke-width="1"/>
<rect x="577.19" y="208.46" width="7.17" height="12.63" fill="#f5c4ac" stroke="none" stroke-width="1"/>
<rect x="584" y="208.46" width="7.17" height="12.63" fill="#f7b599" stroke="none" stroke-width="1"/>
<rect x="590.82" y="208.46" width="7.17" height="12.63" fill="#f7b599" stroke="none" stroke-width="1"/>
<rect x="597.64" y="208.46" width="7.17" height="12.63" fill="#f7b599" stroke="none" stroke-width="1"/>
<rect x="604.46" y="208.46" width="7.17" height="12.63" fill="#eed0c0" stroke="none" stroke-width="1"/>
<rect x="611.28" y="208.46" width="7.17" height="12.63" fill="#cf453c" stroke="none" stroke-width="1"/>
<rect x="618.09" y="208.46" width="7.17" height="12.63" fill="#cf453c" stroke="none" stroke-width="1"/>
<rect x="624.91" y="208.46" width="7.17" height="12.63" fill="#f6a385" stroke="none" stroke-width="1"/>
<rect x="631.73" y="208.46" width="7.17" height="12.63" fill="#f6a385" stroke="none" stroke-width="1"/>
<rect x="638.55" y="208.46" width="7.17" height="12.63" fill="#dddcdc" stroke="none" stroke-width="1"/>
<rect x="645.37" y="208.46" width="7.17" height="12.63" fill="#f6bda2" stroke="none" stroke-width="1"/>
<rect x="52.2" y="220.74" width="7.17" height="12.63" fill="#c0d4f5" stroke="none" stroke-width="1"/>
<rect x="59.02" y="220.74" width="7.17" height="12.63" fill="#c0d4f5" stroke="none" stroke-width="1"/>
<rect x="65.84" y="220.74" width="7.17" height="12.63" fill="#c0d4f5" stroke="none" stroke-width="1"/>
<rect x="72.65" y="220.74" width="7.17" height="12.63" fill="#c0d4f5" stroke="none" stroke-width="1"/>
<rect x="79.47" y="220.74" width="7.17" height="12.63" fill="#c7d7f0" stroke="none" stroke-width="1"/>
<rect x="86.29" y="220.74" width="7.17" height="12.63" fill="#c7d7f0" stroke="none" stroke-width="1"/>
<rect x="93.11" y="220.74" width="7.17" height="12.63" fill="#c7d7f0" stroke="none" stroke-width="1"/>
<rect x="99.93" y="220.74" width="7.17" height="12.63" fill="#afcafc" stroke="none" stroke-width="1"/>
<rect x="106.74" y="220.74" width="7.17" height="12.63" fill="#c7d7f0" stroke="none" stroke-width="1"/>
<rect x="113.56" y="220.74" width="7.17" height="12.63" fill="#e3d9d3" stroke="none" stroke-width="1"/>
<rect x="120.38" y="220.74" width="7.17" height="12.63" fill="#c7d7f0" stroke="none" stroke-width="1"/>
<rect x="127.2" y="220.74" width="7.17" height="12.63" fill="#afcafc" stroke="none" stroke-width="1"/>
<rect x="134.02" y="220.74" width="7.17" height="12.63" fill="#f2cbb7" stroke="none" stroke-width="1"/>
<rect x="140.83" y="220.74" width="7.17" height="12.63" fill="#b9d0f9" stroke="none" stroke-width="1"/>
<rect x="147.65" y="220.74" width="7.17" height="12.63" fill="#ee8468" stroke="none" stroke-width="1"/>
<rect x="154.47" y="220.74" width="7.17" height="12.63" fill="#f6bda2" stroke="none" stroke-width="1"/>
<rect x="161.29" y="220.74" width="7.17" height="12.63" fill="#f7ac8e" stroke="none" stroke-width="1"/>
<rect x="168.11" y="220.74" width="7.17" height="12.63" fill="#f7ac8e" stroke="none" stroke-width="1"/>
<rect x="174.92" y="220.74" width="7.17" height="12.63" fill="#f18f71" stroke="none" stroke-width="1"/>
<rect x="181.74" y="220.74" width="7.17" height="12.63" fill="#f7ac8e" stroke="none" stroke-width="1"/>
<rect x="188.56" y="220.74" width="7.17" height="12.63" fill="#f4987a" stroke="none" stroke-width="1"/>
<rect x="195.38" y="220.74" width="7.17" height="12.63" fill="#f6a385" stroke="none" stroke-width="1"/>
<rect x="202.2" y="220.74" width="7.17" height="12.63" fill="#ee8468" stroke="none" stroke-width="1"/>
<rect x="209.01" y="220.74" width="7.17" height="12.63" fill="#e9785d" stroke="none" stroke-width="1"/>
<rect x="215.83" y="220.74" width="7.17" height="12.63" fill="#ee8468" stroke="none" stroke-width="1"/>
<rect x="222.65" y="220.74" width="7.17" height="12.63" fill="#f7ac8e" stroke="none" stroke-width="1"/>
<rect x="229.47" y="220.74" width="7.17" height="12.63" fill="#f6a385" stroke="none" stroke-width="1"/>
<rect x="236.29" y="220.74" width="7.17" height="12.63" fill="#f5c4ac" stroke="none" stroke-width="1"/>
<rect x="243.1" y="220.74" width="7.17" height="12.63" fill="#f6bda2" stroke="none" stroke-width="1"/>
<rect x="249.92" y="220.74" width="7.17" height="12.63" fill="#d6dce4" stroke="none" stroke-width="1"/>
<rect x="256.74" y="220.74" width="7.17" height="12.63" fill="#f6a385" stroke="none" stroke-width="1"/>
<rect x="263.56" y="220.74" width="7.17" height="12.63" fill="#f6a385" stroke="none" stroke-width="1"/>
<rect x="270.38" y="220.74" width="7.17" height="12.63" fill="#f7b599" stroke="none" stroke-width="1"/>
<rect x="277.19" y="220.74" width="7.17" height="12.63" fill="#c53334" stroke="none" stroke-width="1"/>
<rect x="284.01" y="220.74" width="7.17" height="12.63" fill="#ee8468" stroke="none" stroke-width="1"/>
<rect x="290.83" y="220.74" width="7.17" height="12.63" fill="#f6bda2" stroke="none" stroke-width="1"/>
<rect x="297.65" y="220.74" width="7.17" height="12.63" fill="#d6dce4" stroke="none" stroke-width="1"/>
<rect x="304.47" y="220.74" width="7.17" height="12.63" fill="#f2cbb7" stroke="none" stroke-width="1"/>
<rect x="311.28" y="220.74" width="7.17" height="12.63" fill="#f7b599" stroke="none" stroke-width="1"/>
<rect x="318.1" y="220.74" width="7.17" height="12.63" fill="#e36c55" stroke="none" stroke-width="1"/>
<rect x="324.92" y="220.74" width="7.17" height="12.63" fill="#b9d0f9" stroke="none" stroke-width="1"/>
<rect x="331.74" y="220.74" width="7.17" height="12.63" fill="#afcafc" stroke="none" stroke-width="1"/>
<rect x="338.56" y="220.74" width="7.17" height="12.63" fill="#eed0c0" stroke="none" stroke-width="1"/>
<rect x="345.37" y="220.74" width="7.17" height="12.63" fill="#c0d4f5" stroke="none" stroke-width="1"/>
<rect x="352.19" y="220.74" width="7.17" height="12.63" fill="#d6dce4" stroke="none" stroke-width="1"/>
<rect x="359.01" y="220.74" width="7.17" height="12.63" fill="#cfdaea" stroke="none" stroke-width="1"/>
<rect x="365.83" y="220.74" width="7.17" height="12.63" fill="#f2cbb7" stroke="none" stroke-width="1"/>
<rect x="372.65" y="220.74" width="7.17" height="12.63" fill="#f6bda2" stroke="none" stroke-width="1"/>
<rect x="379.46" y="220.74" width="7.17" height="12.63" fill="#96b7ff" stroke="none" stroke-width="1"/>
<rect x="386.28" y="220.74" width="7.17" height="12.63" fill="#e9d5cb" stroke="none" stroke-width="1"/>
<rect x="393.1" y="220.74" width="7.17" height="12.63" fill="#ebd3c6" stroke="none" stroke-width="1"/>
<rect x="399.92" y="220.74" width="7.17" height="12.63" fill="#eed0c0" stroke="none" stroke-width="1"/>
<rect x="406.74" y="220.74" width="7.17" height="12.63" fill="#f7b599" stroke="none" stroke-width="1"/>
<rect x="413.55" y="220.74" width="7.17" height="12.63" fill="#f18f71" stroke="none" stroke-width="1"/>
<rect x="420.37" y="220.74" width="7.17" height="12.63" fill="#f4987a" stroke="none" stroke-width="1"/>
<rect x="427.19" y="220.74" width="7.17" height="12.63" fill="#e3d9d3" stroke="none" stroke-width="1"/>
<rect x="434.01" y="220.74" width="7.17" height="12.63" fill="#e3d9d3" stroke="none" stroke-width="1"/>
<rect x="440.83" y="220.74" width="7.17" height="12.63" fill="#e9d5cb" stroke="none" stroke-width="1"/>
<rect x="447.64" y="220.74" width="7.17" height="12.63" fill="#dfdbd9" stroke="none" stroke-width="1"/>
<rect x="454.46" y="220.74" width="7.17" height="12.63" fill="#f6bda2" stroke="none" stroke-width="1"/>
<rect x="461.28" y="220.74" width="7.17" height="12.63" fill="#c0d4f5" stroke="none" stroke-width="1"/>
<rect x="468.1" y="220.74" width="7.17" height="12.63" fill="#b9d0f9" stroke="none" stroke-width="1"/>
<rect x="474.92" y="220.74" width="7.17" height="12.63" fill="#f6bda2" stroke="none" stroke-width="1"/>
<rect x="481.73" y="220.74" width="7.17" height="12.63" fill="#f6bda2" stroke="none" stroke-width="1"/>
<rect x="488.55" y="220.74" width="7.17" height="12.63" fill="#f6bda2" stroke="none" stroke-width="1"/>
<rect x="495.37" y="220.74" width="7.17" height="12.63" fill="#eed0c0" stroke="none" stroke-width="1"/>
<rect x="502.19" y="220.74" width="7.17" height="12.63" fill="#f7b599" stroke="none" stroke-width="1"/>
<rect x="509.01" y="220.74" width="7.17" height="12.63" fill="#f7b599" stroke="none" stroke-width="1"/>
<rect x="515.82" y="220.74" width="7.17" height="12.63" fill="#f5c4ac" stroke="none" stroke-width="1"/>
<rect x="522.64" y="220.74" width="7.17" height="12.63" fill="#f5c4ac" stroke="none" stroke-width="1"/>
<rect x="529.46" y="220.74" width="7.17" height="12.63" fill="#e9d5cb" stroke="none" stroke-width="1"/>
<rect x="536.28" y="220.74" width="7.17" height="12.63" fill="#f5c4ac" stroke="none" stroke-width="1"/>
<rect x="543.1" y="220.74" width="7.17" height="12.63" fill="#e3d9d3" stroke="none" stroke-width="1"/>
<rect x="549.91" y="220.74" width="7.17" height="12.63" fill="#e3d9d3" stroke="none" stroke-width="1"/>
<rect x="556.73" y="220.74" width="7.17" height="12.63" fill="#eed0c0" stroke="none" stroke-width="1"/>
<rect x="563.55" y="220.74" width="7.17" height="12.63" fill="#e9d5cb" stroke="none" stroke-width="1"/>
<rect x="570.37" y="220.74" width="7.17" height="12.63" fill="#cf453c" stroke="none" stroke-width="1"/>
<rect x="577.19" y="220.74" width="7.17" height="12.63" fill="#cf453c" stroke="none" stroke-width="1"/>
<rect x="584" y="220.74" width="7.17" height="12.63" fill="#f2cbb7" stroke="none" stroke-width="1"/>
<rect x="590.82" y="220.74" width="7.17" height="12.63" fill="#f2cbb7" stroke="none" stroke-width="1"/>
<rect x="597.64" y="220.74" width="7.17" height="12.63" fill="#f6bda2" stroke="none" stroke-width="1"/>
<rect x="604.46" y="220.74" width="7.17" height="12.63" fill="#f5c4ac" stroke="none" stroke-width="1"/>
<rect x="611.28" y="220.74" width="7.17" height="12.63" fill="#f5c4ac" stroke="none" stroke-width="1"/>
<rect x="618.09" y="220.74" width="7.17" height="12.63" fill="#f2cbb7" stroke="none" stroke-width="1"/>
<rect x="624.91" y="220.74" width="7.17" height="12.63" fill="#f2cbb7" stroke="none" stroke-width="1"/>
<rect x="631.73" y="220.74" width="7.17" height="12.63" fill="#e9d5cb" stroke="none" stroke-width="1"/>
<rect x="638.55" y="220.74" width="7.17" height="12.63" fill="#dddcdc" stroke="none" stroke-width="1"/>
<rect x="645.37" y="220.74" width="7.17" height="12.63" fill="#e3d9d3" stroke="none" stroke-width="1"/>
<rect x="52.2" y="233.02" width="7.17" height="12.63" fill="#8db0fe" stroke="none" stroke-width="1"/>
<rect x="59.02" y="233.02" width="7.17" height="12.63" fill="#8db0fe" stroke="none" stroke-width="1"/>
<rect x="65.84" y="233.02" width="7.17" height="12.63" fill="#5977e3" stroke="none" stroke-width="1"/>
<rect x="72.65" y="233.02" width="7.17" height="12.63" fill="#8db0fe" stroke="none" stroke-width="1"/>
<rect x="79.47" y="233.02" width="7.17" height="12.63" fill="#8db0fe" stroke="none" stroke-width="1"/>
<rect x="86.29" y="233.02" width="7.17" height="12.63" fill="#8db0fe" stroke="none" stroke-width="1"/>
<rect x="93.11" y="233.02" width="7.17" height="12.63" fill="#8db0fe" stroke="none" stroke-width="1"/>
<rect x="99.93" y="233.02" width="7.17" height="12.63" fill="#8db0fe" stroke="none" stroke-width="1"/>
<rect x="106.74" y="233.02" width="7.17" height="12.63" fill="#84a7fc" stroke="none" stroke-width="1"/>
<rect x="113.56" y="233.02" width="7.17" height="12.63" fill="#96b7ff" stroke="none" stroke-width="1"/>
<rect x="120.38" y="233.02" width="7.17" height="12.63" fill="#90b2fe" stroke="none" stroke-width="1"/>
<rect x="127.2" y="233.02" width="7.17" height="12.63" fill="#8db0fe" stroke="none" stroke-width="1"/>
<rect x="134.02" y="233.02" width="7.17" height="12.63" fill="#c0d4f5" stroke="none" stroke-width="1"/>
<rect x="140.83" y="233.02" width="7.17" height="12.63" fill="#7b9ff9" stroke="none" stroke-width="1"/>
<rect x="147.65" y="233.02" width="7.17" height="12.63" fill="#f2cbb7" stroke="none" stroke-width="1"/>
<rect x="154.47" y="233.02" width="7.17" height="12.63" fill="#f6a385" stroke="none" stroke-width="1"/>
<rect x="161.29" y="233.02" width="7.17" height="12.63" fill="#e9785d" stroke="none" stroke-width="1"/>
<rect x="168.11" y="233.02" width="7.17" height="12.63" fill="#f18f71" stroke="none" stroke-width="1"/>
<rect x="174.92" y="233.02" width="7.17" height="12.63" fill="#f7b599" stroke="none" stroke-width="1"/>
<rect x="181.74" y="233.02" width="7.17" height="12.63" fill="#f7b599" stroke="none" stroke-width="1"/>
<rect x="188.56" y="233.02" width="7.17" height="12.63" fill="#f18f71" stroke="none" stroke-width="1"/>
<rect x="195.38" y="233.02" width="7.17" height="12.63" fill="#f18f71" stroke="none" stroke-width="1"/>
<rect x="202.2" y="233.02" width="7.17" height="12.63" fill="#f18f71" stroke="none" stroke-width="1"/>
<rect x="209.01" y="233.02" width="7.17" height="12.63" fill="#f7ac8e" stroke="none" stroke-width="1"/>
<rect x="215.83" y="233.02" width="7.17" height="12.63" fill="#f6a385" stroke="none" stroke-width="1"/>
<rect x="222.65" y="233.02" width="7.17" height="12.63" fill="#f6a385" stroke="none" stroke-width="1"/>
<rect x="229.47" y="233.02" width="7.17" height="12.63" fill="#f4987a" stroke="none" stroke-width="1"/>
<rect x="236.29" y="233.02" width="7.17" height="12.63" fill="#e36c55" stroke="none" stroke-width="1"/>
<rect x="243.1" y="233.02" width="7.17" height="12.63" fill="#ee8468" stroke="none" stroke-width="1"/>
<rect x="249.92" y="233.02" width="7.17" height="12.63" fill="#96b7ff" stroke="none" stroke-width="1"/>
<rect x="256.74" y="233.02" width="7.17" height="12.63" fill="#eed0c0" stroke="none" stroke-width="1"/>
<rect x="263.56" y="233.02" width="7.17" height="12.63" fill="#eed0c0" stroke="none" stroke-width="1"/>
<rect x="270.38" y="233.02" width="7.17" height="12.63" fill="#ebd3c6" stroke="none" stroke-width="1"/>
<rect x="277.19" y="233.02" width="7.17" height="12.63" fill="#f7b599" stroke="none" stroke-width="1"/>
<rect x="284.01" y="233.02" width="7.17" height="12.63" fill="#f7b599" stroke="none" stroke-width="1"/>
<rect x="290.83" y="233.02" width="7.17" height="12.63" fill="#dddcdc" stroke="none" stroke-width="1"/>
<rect x="297.65" y="233.02" width="7.17" height="12.63" fill="#a7c5fe" stroke="none" stroke-width="1"/>
<rect x="304.47" y="233.02" width="7.17" height="12.63" fill="#c7d7f0" stroke="none" stroke-width="1"/>
<rect x="311.28" y="233.02" width="7.17" height="12.63" fill="#e9d5cb" stroke="none" stroke-width="1"/>
<rect x="318.1" y="233.02" width="7.17" height="12.63" fill="#f2cbb7" stroke="none" stroke-width="1"/>
<rect x="324.92" y="233.02" width="7.17" height="12.63" fill="#96b7ff" stroke="none" stroke-width="1"/>
<rect x="331.74" y="233.02" width="7.17" height="12.63" fill="#b9d0f9" stroke="none" stroke-width="1"/>
<rect x="338.56" y="233.02" width="7.17" height="12.63" fill="#ebd3c6" stroke="none" stroke-width="1"/>
<rect x="345.37" y="233.02" width="7.17" height="12.63" fill="#d6dce4" stroke="none" stroke-width="1"/>
<rect x="352.19" y="233.02" width="7.17" height="12.63" fill="#d6dce4" stroke="none" stroke-width="1"/>
<rect x="359.01" y="233.02" width="7.17" height="12.63" fill="#e3d9d3" stroke="none" stroke-width="1"/>
<rect x="365.83" y="233.02" width="7.17" height="12.63" fill="#cfdaea" stroke="none" stroke-width="1"/>
<rect x="372.65" y="233.02" width="7.17" height="12.63" fill="#cfdaea" stroke="none" stroke-width="1"/>
<rect x="379.46" y="233.02" width="7.17" height="12.63" fill="#c0d4f5" stroke="none" stroke-width="1"/>
<rect x="386.28" y="233.02" width="7.17" height="12.63" fill="#f18f71" stroke="none" stroke-width="1"/>
<rect x="393.1" y="233.02" width="7.17" height="12.63" fill="#f6a385" stroke="none" stroke-width="1"/>
<rect x="399.92" y="233.02" width="7.17" height="12.63" fill="#f4987a" stroke="none" stroke-width="1"/>
<rect x="406.74" y="233.02" width="7.17" height="12.63" fill="#f5c4ac" stroke="none" stroke-width="1"/>
<rect x="413.55" y="233.02" width="7.17" height="12.63" fill="#f7b599" stroke="none" stroke-width="1"/>
<rect x="420.37" y="233.02" width="7.17" height="12.63" fill="#f4987a" stroke="none" stroke-width="1"/>
<rect x="427.19" y="233.02" width="7.17" height="12.63" fill="#f6a385" stroke="none" stroke-width="1"/>
<rect x="434.01" y="233.02" width="7.17" height="12.63" fill="#f4987a" stroke="none" stroke-width="1"/>
<rect x="440.83" y="233.02" width="7.17" height="12.63" fill="#e9d5cb" stroke="none" stroke-width="1"/>
<rect x="447.64" y="233.02" width="7.17" height="12.63" fill="#a7c5fe" stroke="none" stroke-width="1"/>
<rect x="454.46" y="233.02" width="7.17" height="12.63" fill="#f6bda2" stroke="none" stroke-width="1"/>
<rect x="461.28" y="233.02" width="7.17" height="12.63" fill="#afcafc" stroke="none" stroke-width="1"/>
<rect x="468.1" y="233.02" width="7.17" height="12.63" fill="#e9d5cb" stroke="none" stroke-width="1"/>
<rect x="474.92" y="233.02" width="7.17" height="12.63" fill="#f6bda2" stroke="none" stroke-width="1"/>
<rect x="481.73" y="233.02" width="7.17" height="12.63" fill="#f7ac8e" stroke="none" stroke-width="1"/>
<rect x="488.55" y="233.02" width="7.17" height="12.63" fill="#f7ac8e" stroke="none" stroke-width="1"/>
<rect x="495.37" y="233.02" width="7.17" height="12.63" fill="#e36c55" stroke="none" stroke-width="1"/>
<rect x="502.19" y="233.02" width="7.17" height="12.63" fill="#e36c55" stroke="none" stroke-width="1"/>
<rect x="509.01" y="233.02" width="7.17" height="12.63" fill="#e36c55" stroke="none" stroke-width="1"/>
<rect x="515.82" y="233.02" width="7.17" height="12.63" fill="#e36c55" stroke="none" stroke-width="1"/>
<rect x="522.64" y="233.02" width="7.17" height="12.63" fill="#e36c55" stroke="none" stroke-width="1"/>
<rect x="529.46" y="233.02" width="7.17" height="12.63" fill="#e36c55" stroke="none" stroke-width="1"/>
<rect x="536.28" y="233.02" width="7.17" height="12.63" fill="#cf453c" stroke="none" stroke-width="1"/>
<rect x="543.1" y="233.02" width="7.17" height="12.63" fill="#f7b599" stroke="none" stroke-width="1"/>
<rect x="549.91" y="233.02" width="7.17" height="12.63" fill="#f7b599" stroke="none" stroke-width="1"/>
<rect x="556.73" y="233.02" width="7.17" height="12.63" fill="#f4987a" stroke="none" stroke-width="1"/>
<rect x="563.55" y="233.02" width="7.17" height="12.63" fill="#f7b599" stroke="none" stroke-width="1"/>
<rect x="570.37" y="233.02" width="7.17" height="12.63" fill="#f2cbb7" stroke="none" stroke-width="1"/>
<rect x="577.19" y="233.02" width="7.17" height="12.63" fill="#f7b599" stroke="none" stroke-width="1"/>
<rect x="584" y="233.02" width="7.17" height="12.63" fill="#f7ac8e" stroke="none" stroke-width="1"/>
<rect x="590.82" y="233.02" width="7.17" height="12.63" fill="#f7b599" stroke="none" stroke-width="1"/>
<rect x="597.64" y="233.02" width="7.17" height="12.63" fill="#f18f71" stroke="none" stroke-width="1"/>
<rect x="604.46" y="233.02" width="7.17" height="12.63" fill="#f7b599" stroke="none" stroke-width="1"/>
<rect x="611.28" y="233.02" width="7.17" height="12.63" fill="#f4987a" stroke="none" stroke-width="1"/>
<rect x="618.09" y="233.02" width="7.17" height="12.63" fill="#f4987a" stroke="none" stroke-width="1"/>
<rect x="624.91" y="233.02" width="7.17" height="12.63" fill="#f7ac8e" stroke="none" stroke-width="1"/>
<rect x="631.73" y="233.02" width="7.17" height="12.63" fill="#f7b599" stroke="none" stroke-width="1"/>
<rect x="638.55" y="233.02" width="7.17" height="12.63" fill="#e9d5cb" stroke="none" stroke-width="1"/>
<rect x="645.37" y="233.02" width="7.17" height="12.63" fill="#f6a385" stroke="none" stroke-width="1"/>
<rect x="52.2" y="245.3" width="7.17" height="12.63" fill="#cfdaea" stroke="none" stroke-width="1"/>
<rect x="59.02" y="245.3" width="7.17" height="12.63" fill="#d6dce4" stroke="none" stroke-width="1"/>
<rect x="65.84" y="245.3" width="7.17" height="12.63" fill="#afcafc" stroke="none" stroke-width="1"/>
<rect x="72.65" y="245.3" width="7.17" height="12.63" fill="#c7d7f0" stroke="none" stroke-width="1"/>
<rect x="79.47" y="245.3" width="7.17" height="12.63" fill="#c7d7f0" stroke="none" stroke-width="1"/>
<rect x="86.29" y="245.3" width="7.17" height="12.63" fill="#c7d7f0" stroke="none" stroke-width="1"/>
<rect x="93.11" y="245.3" width="7.17" height="12.63" fill="#c7d7f0" stroke="none" stroke-width="1"/>
<rect x="99.93" y="245.3" width="7.17" height="12.63" fill="#c7d7f0" stroke="none" stroke-width="1"/>
<rect x="106.74" y="245.3" width="7.17" height="12.63" fill="#c7d7f0" stroke="none" stroke-width="1"/>
<rect x="113.56" y="245.3" width="7.17" height="12.63" fill="#cfdaea" stroke="none" stroke-width="1"/>
<rect x="120.38" y="245.3" width="7.17" height="12.63" fill="#cfdaea" stroke="none" stroke-width="1"/>
<rect x="127.2" y="245.3" width="7.17" height="12.63" fill="#c0d4f5" stroke="none" stroke-width="1"/>
<rect x="134.02" y="245.3" width="7.17" height="12.63" fill="#f2cbb7" stroke="none" stroke-width="1"/>
<rect x="140.83" y="245.3" width="7.17" height="12.63" fill="#c0d4f5" stroke="none" stroke-width="1"/>
<rect x="147.65" y="245.3" width="7.17" height="12.63" fill="#f6bda2" stroke="none" stroke-width="1"/>
<rect x="154.47" y="245.3" width="7.17" height="12.63" fill="#f6bda2" stroke="none" stroke-width="1"/>
<rect x="161.29" y="245.3" width="7.17" height="12.63" fill="#f6bda2" stroke="none" stroke-width="1"/>
<rect x="168.11" y="245.3" width="7.17" height="12.63" fill="#f6bda2" stroke="none" stroke-width="1"/>
<rect x="174.92" y="245.3" width="7.17" height="12.63" fill="#f7ac8e" stroke="none" stroke-width="1"/>
<rect x="181.74" y="245.3" width="7.17" height="12.63" fill="#f7ac8e" stroke="none" stroke-width="1"/>
<rect x="188.56" y="245.3" width="7.17" height="12.63" fill="#f7b599" stroke="none" stroke-width="1"/>
<rect x="195.38" y="245.3" width="7.17" height="12.63" fill="#f6a385" stroke="none" stroke-width="1"/>
<rect x="202.2" y="245.3" width="7.17" height="12.63" fill="#f7b599" stroke="none" stroke-width="1"/>
<rect x="209.01" y="245.3" width="7.17" height="12.63" fill="#f7b599" stroke="none" stroke-width="1"/>
<rect x="215.83" y="245.3" width="7.17" height="12.63" fill="#f7ac8e" stroke="none" stroke-width="1"/>
<rect x="222.65" y="245.3" width="7.17" height="12.63" fill="#eed0c0" stroke="none" stroke-width="1"/>
<rect x="229.47" y="245.3" width="7.17" height="12.63" fill="#f2cbb7" stroke="none" stroke-width="1"/>
<rect x="236.29" y="245.3" width="7.17" height="12.63" fill="#f2cbb7" stroke="none" stroke-width="1"/>
<rect x="243.1" y="245.3" width="7.17" height="12.63" fill="#eed0c0" stroke="none" stroke-width="1"/>
<rect x="249.92" y="245.3" width="7.17" height="12.63" fill="#96b7ff" stroke="none" stroke-width="1"/>
<rect x="256.74" y="245.3" width="7.17" height="12.63" fill="#ee8468" stroke="none" stroke-width="1"/>
<rect x="263.56" y="245.3" width="7.17" height="12.63" fill="#f5c4ac" stroke="none" stroke-width="1"/>
<rect x="270.38" y="245.3" width="7.17" height="12.63" fill="#f6bda2" stroke="none" stroke-width="1"/>
<rect x="277.19" y="245.3" width="7.17" height="12.63" fill="#f18f71" stroke="none" stroke-width="1"/>
<rect x="284.01" y="245.3" width="7.17" height="12.63" fill="#ee8468" stroke="none" stroke-width="1"/>
<rect x="290.83" y="245.3" width="7.17" height="12.63" fill="#f7b599" stroke="none" stroke-width="1"/>
<rect x="297.65" y="245.3" width="7.17" height="12.63" fill="#dddcdc" stroke="none" stroke-width="1"/>
<rect x="304.47" y="245.3" width="7.17" height="12.63" fill="#e3d9d3" stroke="none" stroke-width="1"/>
<rect x="311.28" y="245.3" width="7.17" height="12.63" fill="#f6bda2" stroke="none" stroke-width="1"/>
<rect x="318.1" y="245.3" width="7.17" height="12.63" fill="#f6bda2" stroke="none" stroke-width="1"/>
<rect x="324.92" y="245.3" width="7.17" height="12.63" fill="#c0d4f5" stroke="none" stroke-width="1"/>
<rect x="331.74" y="245.3" width="7.17" height="12.63" fill="#c0d4f5" stroke="none" stroke-width="1"/>
<rect x="338.56" y="245.3" width="7.17" height="12.63" fill="#e9d5cb" stroke="none" stroke-width="1"/>
<rect x="345.37" y="245.3" width="7.17" height="12.63" fill="#c0d4f5" stroke="none" stroke-width="1"/>
<rect x="352.19" y="245.3" width="7.17" height="12.63" fill="#eed0c0" stroke="none" stroke-width="1"/>
<rect x="359.01" y="245.3" width="7.17" height="12.63" fill="#f2cbb7" stroke="none" stroke-width="1"/>
<rect x="365.83" y="245.3" width="7.17" height="12.63" fill="#ebd3c6" stroke="none" stroke-width="1"/>
<rect x="372.65" y="245.3" width="7.17" height="12.63" fill="#eed0c0" stroke="none" stroke-width="1"/>
<rect x="379.46" y="245.3" width="7.17" height="12.63" fill="#8db0fe" stroke="none" stroke-width="1"/>
<rect x="386.28" y="245.3" width="7.17" height="12.63" fill="#eed0c0" stroke="none" stroke-width="1"/>
<rect x="393.1" y="245.3" width="7.17" height="12.63" fill="#ebd3c6" stroke="none" stroke-width="1"/>
<rect x="399.92" y="245.3" width="7.17" height="12.63" fill="#eed0c0" stroke="none" stroke-width="1"/>
<rect x="406.74" y="245.3" width="7.17" height="12.63" fill="#dfdbd9" stroke="none" stroke-width="1"/>
<rect x="413.55" y="245.3" width="7.17" height="12.63" fill="#f2cbb7" stroke="none" stroke-width="1"/>
<rect x="420.37" y="245.3" width="7.17" height="12.63" fill="#f6bda2" stroke="none" stroke-width="1"/>
<rect x="427.19" y="245.3" width="7.17" height="12.63" fill="#eed0c0" stroke="none" stroke-width="1"/>
<rect x="434.01" y="245.3" width="7.17" height="12.63" fill="#eed0c0" stroke="none" stroke-width="1"/>
<rect x="440.83" y="245.3" width="7.17" height="12.63" fill="#eed0c0" stroke="none" stroke-width="1"/>
<rect x="447.64" y="245.3" width="7.17" height="12.63" fill="#cfdaea" stroke="none" stroke-width="1"/>
<rect x="454.46" y="245.3" width="7.17" height="12.63" fill="#e9d5cb" stroke="none" stroke-width="1"/>
<rect x="461.28" y="245.3" width="7.17" height="12.63" fill="#dadce0" stroke="none" stroke-width="1"/>
<rect x="468.1" y="245.3" width="7.17" height="12.63" fill="#a7c5fe" stroke="none" stroke-width="1"/>
<rect x="474.92" y="245.3" width="7.17" height="12.63" fill="#e3d9d3" stroke="none" stroke-width="1"/>
<rect x="481.73" y="245.3" width="7.17" height="12.63" fill="#e9d5cb" stroke="none" stroke-width="1"/>
<rect x="488.55" y="245.3" width="7.17" height="12.63" fill="#e9d5cb" stroke="none" stroke-width="1"/>
<rect x="495.37" y="245.3" width="7.17" height="12.63" fill="#f7b599" stroke="none" stroke-width="1"/>
<rect x="502.19" y="245.3" width="7.17" height="12.63" fill="#f6bda2" stroke="none" stroke-width="1"/>
<rect x="509.01" y="245.3" width="7.17" height="12.63" fill="#f6bda2" stroke="none" stroke-width="1"/>
<rect x="515.82" y="245.3" width="7.17" height="12.63" fill="#f6bda2" stroke="none" stroke-width="1"/>
<rect x="522.64" y="245.3" width="7.17" height="12.63" fill="#f6bda2" stroke="none" stroke-width="1"/>
<rect x="529.46" y="245.3" width="7.17" height="12.63" fill="#f5c4ac" stroke="none" stroke-width="1"/>
<rect x="536.28" y="245.3" width="7.17" height="12.63" fill="#f6bda2" stroke="none" stroke-width="1"/>
<rect x="543.1" y="245.3" width="7.17" height="12.63" fill="#dfdbd9" stroke="none" stroke-width="1"/>
<rect x="549.91" y="245.3" width="7.17" height="12.63" fill="#e3d9d3" stroke="none" stroke-width="1"/>
<rect x="556.73" y="245.3" width="7.17" height="12.63" fill="#f2cbb7" stroke="none" stroke-width="1"/>
<rect x="563.55" y="245.3" width="7.17" height="12.63" fill="#eed0c0" stroke="none" stroke-width="1"/>
<rect x="570.37" y="245.3" width="7.17" height="12.63" fill="#f7ac8e" stroke="none" stroke-width="1"/>
<rect x="577.19" y="245.3" width="7.17" height="12.63" fill="#f7b599" stroke="none" stroke-width="1"/>
<rect x="584" y="245.3" width="7.17" height="12.63" fill="#e9d5cb" stroke="none" stroke-width="1"/>
<rect x="590.82" y="245.3" width="7.17" height="12.63" fill="#e9d5cb" stroke="none" stroke-width="1"/>
<rect x="597.64" y="245.3" width="7.17" height="12.63" fill="#f6bda2" stroke="none" stroke-width="1"/>
<rect x="604.46" y="245.3" width="7.17" height="12.63" fill="#e9d5cb" stroke="none" stroke-width="1"/>
<rect x="611.28" y="245.3" width="7.17" height="12.63" fill="#eed0c0" stroke="none" stroke-width="1"/>
<rect x="618.09" y="245.3" width="7.17" height="12.63" fill="#eed0c0" stroke="none" stroke-width="1"/>
<rect x="624.91" y="245.3" width="7.17" height="12.63" fill="#e9d5cb" stroke="none" stroke-width="1"/>
<rect x="631.73" y="245.3" width="7.17" height="12.63" fill="#e9d5cb" stroke="none" stroke-width="1"/>
<rect x="638.55" y="245.3" width="7.17" height="12.63" fill="#dddcdc" stroke="none" stroke-width="1"/>
<rect x="645.37" y="245.3" width="7.17" height="12.63" fill="#e7d7ce" stroke="none" stroke-width="1"/>
<rect x="52.2" y="257.58" width="7.17" height="12.63" fill="#9ebeff" stroke="none" stroke-width="1"/>
<rect x="59.02" y="257.58" width="7.17" height="12.63" fill="#9ebeff" stroke="none" stroke-width="1"/>
<rect x="65.84" y="257.58" width="7.17" height="12.63" fill="#7b9ff9" stroke="none" stroke-width="1"/>
<rect x="72.65" y="257.58" width="7.17" height="12.63" fill="#a7c5fe" stroke="none" stroke-width="1"/>
<rect x="79.47" y="257.58" width="7.17" height="12.63" fill="#a7c5fe" stroke="none" stroke-width="1"/>
<rect x="86.29" y="257.58" width="7.17" height="12.63" fill="#a7c5fe" stroke="none" stroke-width="1"/>
<rect x="93.11" y="257.58" width="7.17" height="12.63" fill="#a7c5fe" stroke="none" stroke-width="1"/>
<rect x="99.93" y="257.58" width="7.17" height="12.63" fill="#96b7ff" stroke="none" stroke-width="1"/>
<rect x="106.74" y="257.58" width="7.17" height="12.63" fill="#96b7ff" stroke="none" stroke-width="1"/>
<rect x="113.56" y="257.58" width="7.17" height="12.63" fill="#a7c5fe" stroke="none" stroke-width="1"/>
<rect x="120.38" y="257.58" width="7.17" height="12.63" fill="#9bbcff" stroke="none" stroke-width="1"/>
<rect x="127.2" y="257.58" width="7.17" height="12.63" fill="#96b7ff" stroke="none" stroke-width="1"/>
<rect x="134.02" y="257.58" width="7.17" height="12.63" fill="#d6dce4" stroke="none" stroke-width="1"/>
<rect x="140.83" y="257.58" width="7.17" height="12.63" fill="#8db0fe" stroke="none" stroke-width="1"/>
<rect x="147.65" y="257.58" width="7.17" height="12.63" fill="#f6bda2" stroke="none" stroke-width="1"/>
<rect x="154.47" y="257.58" width="7.17" height="12.63" fill="#f4987a" stroke="none" stroke-width="1"/>
<rect x="161.29" y="257.58" width="7.17" height="12.63" fill="#f4987a" stroke="none" stroke-width="1"/>
<rect x="168.11" y="257.58" width="7.17" height="12.63" fill="#f4987a" stroke="none" stroke-width="1"/>
<rect x="174.92" y="257.58" width="7.17" height="12.63" fill="#f7ac8e" stroke="none" stroke-width="1"/>
<rect x="181.74" y="257.58" width="7.17" height="12.63" fill="#f7ac8e" stroke="none" stroke-width="1"/>
<rect x="188.56" y="257.58" width="7.17" height="12.63" fill="#f4987a" stroke="none" stroke-width="1"/>
<rect x="195.38" y="257.58" width="7.17" height="12.63" fill="#f4987a" stroke="none" stroke-width="1"/>
<rect x="202.2" y="257.58" width="7.17" height="12.63" fill="#f4987a" stroke="none" stroke-width="1"/>
<rect x="209.01" y="257.58" width="7.17" height="12.63" fill="#f6a385" stroke="none" stroke-width="1"/>
<rect x="215.83" y="257.58" width="7.17" height="12.63" fill="#f4987a" stroke="none" stroke-width="1"/>
<rect x="222.65" y="257.58" width="7.17" height="12.63" fill="#f6a385" stroke="none" stroke-width="1"/>
<rect x="229.47" y="257.58" width="7.17" height="12.63" fill="#f6a385" stroke="none" stroke-width="1"/>
<rect x="236.29" y="257.58" width="7.17" height="12.63" fill="#f6a385" stroke="none" stroke-width="1"/>
<rect x="243.1" y="257.58" width="7.17" height="12.63" fill="#f6a385" stroke="none" stroke-width="1"/>
<rect x="249.92" y="257.58" width="7.17" height="12.63" fill="#96b7ff" stroke="none" stroke-width="1"/>
<rect x="256.74" y="257.58" width="7.17" height="12.63" fill="#f2cbb7" stroke="none" stroke-width="1"/>
<rect x="263.56" y="257.58" width="7.17" height="12.63" fill="#f2cbb7" stroke="none" stroke-width="1"/>
<rect x="270.38" y="257.58" width="7.17" height="12.63" fill="#eed0c0" stroke="none" stroke-width="1"/>
<rect x="277.19" y="257.58" width="7.17" height="12.63" fill="#f7ac8e" stroke="none" stroke-width="1"/>
<rect x="284.01" y="257.58" width="7.17" height="12.63" fill="#f7ac8e" stroke="none" stroke-width="1"/>
<rect x="290.83" y="257.58" width="7.17" height="12.63" fill="#e9d5cb" stroke="none" stroke-width="1"/>
<rect x="297.65" y="257.58" width="7.17" height="12.63" fill="#afcafc" stroke="none" stroke-width="1"/>
<rect x="304.47" y="257.58" width="7.17" height="12.63" fill="#cfdaea" stroke="none" stroke-width="1"/>
<rect x="311.28" y="257.58" width="7.17" height="12.63" fill="#f2cbb7" stroke="none" stroke-width="1"/>
<rect x="318.1" y="257.58" width="7.17" height="12.63" fill="#f7b599" stroke="none" stroke-width="1"/>
<rect x="324.92" y="257.58" width="7.17" height="12.63" fill="#a7c5fe" stroke="none" stroke-width="1"/>
<rect x="331.74" y="257.58" width="7.17" height="12.63" fill="#c0d4f5" stroke="none" stroke-width="1"/>
<rect x="338.56" y="257.58" width="7.17" height="12.63" fill="#ebd3c6" stroke="none" stroke-width="1"/>
<rect x="345.37" y="257.58" width="7.17" height="12.63" fill="#d6dce4" stroke="none" stroke-width="1"/>
<rect x="352.19" y="257.58" width="7.17" height="12.63" fill="#e3d9d3" stroke="none" stroke-width="1"/>
<rect x="359.01" y="257.58" width="7.17" height="12.63" fill="#e9d5cb" stroke="none" stroke-width="1"/>
<rect x="365.83" y="257.58" width="7.17" height="12.63" fill="#dfdbd9" stroke="none" stroke-width="1"/>
<rect x="372.65" y="257.58" width="7.17" height="12.63" fill="#e3d9d3" stroke="none" stroke-width="1"/>
<rect x="379.46" y="257.58" width="7.17" height="12.63" fill="#b9d0f9" stroke="none" stroke-width="1"/>
<rect x="386.28" y="257.58" width="7.17" height="12.63" fill="#f7b599" stroke="none" stroke-width="1"/>
<rect x="393.1" y="257.58" width="7.17" height="12.63" fill="#f7b599" stroke="none" stroke-width="1"/>
<rect x="399.92" y="257.58" width="7.17" height="12.63" fill="#f7b599" stroke="none" stroke-width="1"/>
<rect x="406.74" y="257.58" width="7.17" height="12.63" fill="#f5c4ac" stroke="none" stroke-width="1"/>
<rect x="413.55" y="257.58" width="7.17" height="12.63" fill="#f7ac8e" stroke="none" stroke-width="1"/>
<rect x="420.37" y="257.58" width="7.17" height="12.63" fill="#f6a385" stroke="none" stroke-width="1"/>
<rect x="427.19" y="257.58" width="7.17" height="12.63" fill="#f7b599" stroke="none" stroke-width="1"/>
<rect x="434.01" y="257.58" width="7.17" height="12.63" fill="#f7b599" stroke="none" stroke-width="1"/>
<rect x="440.83" y="257.58" width="7.17" height="12.63" fill="#e9d5cb" stroke="none" stroke-width="1"/>
<rect x="447.64" y="257.58" width="7.17" height="12.63" fill="#afcafc" stroke="none" stroke-width="1"/>
<rect x="454.46" y="257.58" width="7.17" height="12.63" fill="#f2cbb7" stroke="none" stroke-width="1"/>
<rect x="461.28" y="257.58" width="7.17" height="12.63" fill="#afcafc" stroke="none" stroke-width="1"/>
<rect x="468.1" y="257.58" width="7.17" height="12.63" fill="#e3d9d3" stroke="none" stroke-width="1"/>
<rect x="474.92" y="257.58" width="7.17" height="12.63" fill="#f5c4ac" stroke="none" stroke-width="1"/>
<rect x="481.73" y="257.58" width="7.17" height="12.63" fill="#f5c4ac" stroke="none" stroke-width="1"/>
<rect x="488.55" y="257.58" width="7.17" height="12.63" fill="#f6bda2" stroke="none" stroke-width="1"/>
<rect x="495.37" y="257.58" width="7.17" height="12.63" fill="#f4987a" stroke="none" stroke-width="1"/>
<rect x="502.19" y="257.58" width="7.17" height="12.63" fill="#ee8468" stroke="none" stroke-width="1"/>
<rect x="509.01" y="257.58" width="7.17" height="12.63" fill="#f18f71" stroke="none" stroke-width="1"/>
<rect x="515.82" y="257.58" width="7.17" height="12.63" fill="#f7ac8e" stroke="none" stroke-width="1"/>
<rect x="522.64" y="257.58" width="7.17" height="12.63" fill="#f4987a" stroke="none" stroke-width="1"/>
<rect x="529.46" y="257.58" width="7.17" height="12.63" fill="#f4987a" stroke="none" stroke-width="1"/>
<rect x="536.28" y="257.58" width="7.17" height="12.63" fill="#ee8468" stroke="none" stroke-width="1"/>
<rect x="543.1" y="257.58" width="7.17" height="12.63" fill="#f2cbb7" stroke="none" stroke-width="1"/>
<rect x="549.91" y="257.58" width="7.17" height="12.63" fill="#f2cbb7" stroke="none" stroke-width="1"/>
<rect x="556.73" y="257.58" width="7.17" height="12.63" fill="#f7b599" stroke="none" stroke-width="1"/>
<rect x="563.55" y="257.58" width="7.17" height="12.63" fill="#f6bda2" stroke="none" stroke-width="1"/>
<rect x="570.37" y="257.58" width="7.17" height="12.63" fill="#f7b599" stroke="none" stroke-width="1"/>
<rect x="577.19" y="257.58" width="7.17" height="12.63" fill="#f6a385" stroke="none" stroke-width="1"/>
<rect x="584" y="257.58" width="7.17" height="12.63" fill="#f5c4ac" stroke="none" stroke-width="1"/>
<rect x="590.82" y="257.58" width="7.17" height="12.63" fill="#f5c4ac" stroke="none" stroke-width="1"/>
<rect x="597.64" y="257.58" width="7.17" height="12.63" fill="#f4987a" stroke="none" stroke-width="1"/>
<rect x="604.46" y="257.58" width="7.17" height="12.63" fill="#f6bda2" stroke="none" stroke-width="1"/>
<rect x="611.28" y="257.58" width="7.17" height="12.63" fill="#f7b599" stroke="none" stroke-width="1"/>
<rect x="618.09" y="257.58" width="7.17" height="12.63" fill="#f7b599" stroke="none" stroke-width="1"/>
<rect x="624.91" y="257.58" width="7.17" height="12.63" fill="#f6bda2" stroke="none" stroke-width="1"/>
<rect x="631.73" y="257.58" width="7.17" height="12.63" fill="#f5c4ac" stroke="none" stroke-width="1"/>
<rect x="638.55" y="257.58" width="7.17" height="12.63" fill="#e9d5cb" stroke="none" stroke-width="1"/>
<rect x="645.37" y="257.58" width="7.17" height="12.63" fill="#f5c4ac" stroke="none" stroke-width="1"/>
<circle cx="293.79" cy="190.04" r="1.25" fill="#1a1a1a"/>
<circle cx="314.24" cy="190.04" r="1.25" fill="#1a1a1a"/>
<circle cx="368.79" cy="190.04" r="1.25" fill="#1a1a1a"/>
<circle cx="375.6" cy="190.04" r="1.25" fill="#1a1a1a"/>
<circle cx="68.8" cy="202.32" r="1.25" fill="#1a1a1a"/>
<circle cx="75.61" cy="202.32" r="1.25" fill="#1a1a1a"/>
<circle cx="82.43" cy="202.32" r="1.25" fill="#1a1a1a"/>
<circle cx="116.52" cy="202.32" r="1.25" fill="#1a1a1a"/>
<circle cx="123.34" cy="202.32" r="1.25" fill="#1a1a1a"/>
<circle cx="130.16" cy="202.32" r="1.25" fill="#1a1a1a"/>
<circle cx="300.61" cy="202.32" r="1.25" fill="#1a1a1a"/>
<circle cx="389.24" cy="202.32" r="1.25" fill="#1a1a1a"/>
<circle cx="396.06" cy="202.32" r="1.25" fill="#1a1a1a"/>
<circle cx="532.42" cy="202.32" r="1.25" fill="#1a1a1a"/>
<circle cx="546.05" cy="202.32" r="1.25" fill="#1a1a1a"/>
<circle cx="621.05" cy="202.32" r="1.25" fill="#1a1a1a"/>
<circle cx="634.69" cy="202.32" r="1.25" fill="#1a1a1a"/>
<circle cx="648.32" cy="202.32" r="1.25" fill="#1a1a1a"/>
<circle cx="55.16" cy="214.6" r="1.25" fill="#1a1a1a"/>
<circle cx="68.8" cy="214.6" r="1.25" fill="#1a1a1a"/>
<circle cx="75.61" cy="214.6" r="1.25" fill="#1a1a1a"/>
<circle cx="123.34" cy="214.6" r="1.25" fill="#1a1a1a"/>
<circle cx="130.16" cy="214.6" r="1.25" fill="#1a1a1a"/>
<circle cx="239.25" cy="214.6" r="1.25" fill="#1a1a1a"/>
<circle cx="246.06" cy="214.6" r="1.25" fill="#1a1a1a"/>
<circle cx="300.61" cy="214.6" r="1.25" fill="#1a1a1a"/>
<circle cx="327.88" cy="214.6" r="1.25" fill="#1a1a1a"/>
<circle cx="334.7" cy="214.6" r="1.25" fill="#1a1a1a"/>
<circle cx="389.24" cy="214.6" r="1.25" fill="#1a1a1a"/>
<circle cx="416.51" cy="214.6" r="1.25" fill="#1a1a1a"/>
<circle cx="423.33" cy="214.6" r="1.25" fill="#1a1a1a"/>
<circle cx="457.42" cy="214.6" r="1.25" fill="#1a1a1a"/>
<circle cx="477.88" cy="214.6" r="1.25" fill="#1a1a1a"/>
<circle cx="484.69" cy="214.6" r="1.25" fill="#1a1a1a"/>
<circle cx="491.51" cy="214.6" r="1.25" fill="#1a1a1a"/>
<circle cx="505.15" cy="214.6" r="1.25" fill="#1a1a1a"/>
<circle cx="511.96" cy="214.6" r="1.25" fill="#1a1a1a"/>
<circle cx="518.78" cy="214.6" r="1.25" fill="#1a1a1a"/>
<circle cx="525.6" cy="214.6" r="1.25" fill="#1a1a1a"/>
<circle cx="532.42" cy="214.6" r="1.25" fill="#1a1a1a"/>
<circle cx="539.24" cy="214.6" r="1.25" fill="#1a1a1a"/>
<circle cx="559.69" cy="214.6" r="1.25" fill="#1a1a1a"/>
<circle cx="614.24" cy="214.6" r="1.25" fill="#1a1a1a"/>
<circle cx="621.05" cy="214.6" r="1.25" fill="#1a1a1a"/>
<circle cx="150.61" cy="226.88" r="1.25" fill="#1a1a1a"/>
<circle cx="177.88" cy="226.88" r="1.25" fill="#1a1a1a"/>
<circle cx="191.52" cy="226.88" r="1.25" fill="#1a1a1a"/>
<circle cx="205.16" cy="226.88" r="1.25" fill="#1a1a1a"/>
<circle cx="211.97" cy="226.88" r="1.25" fill="#1a1a1a"/>
<circle cx="218.79" cy="226.88" r="1.25" fill="#1a1a1a"/>
<circle cx="266.52" cy="226.88" r="1.25" fill="#1a1a1a"/>
<circle cx="280.15" cy="226.88" r="1.25" fill="#1a1a1a"/>
<circle cx="286.97" cy="226.88" r="1.25" fill="#1a1a1a"/>
<circle cx="321.06" cy="226.88" r="1.25" fill="#1a1a1a"/>
<circle cx="416.51" cy="226.88" r="1.25" fill="#1a1a1a"/>
<circle cx="423.33" cy="226.88" r="1.25" fill="#1a1a1a"/>
<circle cx="573.33" cy="226.88" r="1.25" fill="#1a1a1a"/>
<circle cx="580.14" cy="226.88" r="1.25" fill="#1a1a1a"/>
<circle cx="68.8" cy="239.16" r="1.25" fill="#1a1a1a"/>
<circle cx="143.79" cy="239.16" r="1.25" fill="#1a1a1a"/>
<circle cx="164.25" cy="239.16" r="1.25" fill="#1a1a1a"/>
<circle cx="171.06" cy="239.16" r="1.25" fill="#1a1a1a"/>
<circle cx="191.52" cy="239.16" r="1.25" fill="#1a1a1a"/>
<circle cx="198.34" cy="239.16" r="1.25" fill="#1a1a1a"/>
<circle cx="205.16" cy="239.16" r="1.25" fill="#1a1a1a"/>
<circle cx="232.43" cy="239.16" r="1.25" fill="#1a1a1a"/>
<circle cx="239.25" cy="239.16" r="1.25" fill="#1a1a1a"/>
<circle cx="246.06" cy="239.16" r="1.25" fill="#1a1a1a"/>
<circle cx="389.24" cy="239.16" r="1.25" fill="#1a1a1a"/>
<circle cx="423.33" cy="239.16" r="1.25" fill="#1a1a1a"/>
<circle cx="436.97" cy="239.16" r="1.25" fill="#1a1a1a"/>
<circle cx="498.33" cy="239.16" r="1.25" fill="#1a1a1a"/>
<circle cx="505.15" cy="239.16" r="1.25" fill="#1a1a1a"/>
<circle cx="511.96" cy="239.16" r="1.25" fill="#1a1a1a"/>
<circle cx="518.78" cy="239.16" r="1.25" fill="#1a1a1a"/>
<circle cx="525.6" cy="239.16" r="1.25" fill="#1a1a1a"/>
<circle cx="532.42" cy="239.16" r="1.25" fill="#1a1a1a"/>
<circle cx="539.24" cy="239.16" r="1.25" fill="#1a1a1a"/>
<circle cx="559.69" cy="239.16" r="1.25" fill="#1a1a1a"/>
<circle cx="600.6" cy="239.16" r="1.25" fill="#1a1a1a"/>
<circle cx="614.24" cy="239.16" r="1.25" fill="#1a1a1a"/>
<circle cx="621.05" cy="239.16" r="1.25" fill="#1a1a1a"/>
<circle cx="259.7" cy="251.44" r="1.25" fill="#1a1a1a"/>
<circle cx="280.15" cy="251.44" r="1.25" fill="#1a1a1a"/>
<circle cx="286.97" cy="251.44" r="1.25" fill="#1a1a1a"/>
<circle cx="68.8" cy="263.72" r="1.25" fill="#1a1a1a"/>
<circle cx="157.43" cy="263.72" r="1.25" fill="#1a1a1a"/>
<circle cx="164.25" cy="263.72" r="1.25" fill="#1a1a1a"/>
<circle cx="171.06" cy="263.72" r="1.25" fill="#1a1a1a"/>
<circle cx="191.52" cy="263.72" r="1.25" fill="#1a1a1a"/>
<circle cx="198.34" cy="263.72" r="1.25" fill="#1a1a1a"/>
<circle cx="205.16" cy="263.72" r="1.25" fill="#1a1a1a"/>
<circle cx="218.79" cy="263.72" r="1.25" fill="#1a1a1a"/>
<circle cx="498.33" cy="263.72" r="1.25" fill="#1a1a1a"/>
<circle cx="505.15" cy="263.72" r="1.25" fill="#1a1a1a"/>
<circle cx="511.96" cy="263.72" r="1.25" fill="#1a1a1a"/>
<circle cx="525.6" cy="263.72" r="1.25" fill="#1a1a1a"/>
<circle cx="532.42" cy="263.72" r="1.25" fill="#1a1a1a"/>
<circle cx="539.24" cy="263.72" r="1.25" fill="#1a1a1a"/>
<circle cx="600.6" cy="263.72" r="1.25" fill="#1a1a1a"/>
<text x="6.6" y="173" font-size="10" fill="#222">(b)</text>
<text x="342" y="181" font-size="10.2" text-anchor="middle" fill="#222">CTM and Potency Assay Correlation Heatmap</text>
<line x1="49.3" y1="190.04" x2="52.2" y2="190.04" stroke="#333" stroke-width="0.8"/>
<text x="48.4" y="193.44" font-size="9.6" text-anchor="end" fill="#222">1:50</text>
<line x1="49.3" y1="202.32" x2="52.2" y2="202.32" stroke="#333" stroke-width="0.8"/>
<text x="48.4" y="205.72" font-size="9.6" text-anchor="end" fill="#222">1:20</text>
<line x1="49.3" y1="214.6" x2="52.2" y2="214.6" stroke="#333" stroke-width="0.8"/>
<text x="48.4" y="218" font-size="9.6" text-anchor="end" fill="#222">1:10</text>
<line x1="49.3" y1="226.88" x2="52.2" y2="226.88" stroke="#333" stroke-width="0.8"/>
<text x="48.4" y="230.28" font-size="9.6" text-anchor="end" font-weight="bold" fill="#d0021b">1:5</text>
<line x1="49.3" y1="239.16" x2="52.2" y2="239.16" stroke="#333" stroke-width="0.8"/>
<text x="48.4" y="242.56" font-size="9.6" text-anchor="end" fill="#222">1:2</text>
<line x1="49.3" y1="251.44" x2="52.2" y2="251.44" stroke="#333" stroke-width="0.8"/>
<text x="48.4" y="254.84" font-size="9.6" text-anchor="end" fill="#222">1:1</text>
<line x1="49.3" y1="263.72" x2="52.2" y2="263.72" stroke="#333" stroke-width="0.8"/>
<text x="48.4" y="267.12" font-size="9.6" text-anchor="end" fill="#222">2:1</text>
<text x="26.2" y="226.5" font-size="10" text-anchor="middle" fill="#222" transform="rotate(-90 26.2 226.5)">E:T Ratio</text>
<line x1="55.61" y1="270.66" x2="55.61" y2="272.46" stroke="#333" stroke-width="0.8"/>
<text x="57.81" y="273.76" font-size="6.2" text-anchor="end" fill="#222" transform="rotate(-90 57.81 273.76)">S29</text>
<line x1="62.43" y1="270.66" x2="62.43" y2="272.46" stroke="#333" stroke-width="0.8"/>
<text x="64.63" y="273.76" font-size="6.2" text-anchor="end" fill="#222" transform="rotate(-90 64.63 273.76)">C14</text>
<line x1="69.25" y1="270.66" x2="69.25" y2="272.46" stroke="#333" stroke-width="0.8"/>
<text x="71.45" y="273.76" font-size="6.2" text-anchor="end" fill="#222" transform="rotate(-90 71.45 273.76)">D24</text>
<line x1="76.06" y1="270.66" x2="76.06" y2="272.46" stroke="#333" stroke-width="0.8"/>
<text x="78.26" y="273.76" font-size="6.2" text-anchor="end" fill="#222" transform="rotate(-90 78.26 273.76)">S22</text>
<line x1="82.88" y1="270.66" x2="82.88" y2="272.46" stroke="#333" stroke-width="0.8"/>
<text x="85.08" y="273.76" font-size="6.2" text-anchor="end" fill="#222" transform="rotate(-90 85.08 273.76)">S21</text>
<line x1="89.7" y1="270.66" x2="89.7" y2="272.46" stroke="#333" stroke-width="0.8"/>
<text x="91.9" y="273.76" font-size="6.2" text-anchor="end" fill="#222" transform="rotate(-90 91.9 273.76)">D25</text>
<line x1="96.52" y1="270.66" x2="96.52" y2="272.46" stroke="#333" stroke-width="0.8"/>
<text x="98.72" y="273.76" font-size="6.2" text-anchor="end" fill="#222" transform="rotate(-90 98.72 273.76)">D22</text>
<line x1="103.34" y1="270.66" x2="103.34" y2="272.46" stroke="#333" stroke-width="0.8"/>
<text x="105.54" y="273.76" font-size="6.2" text-anchor="end" fill="#222" transform="rotate(-90 105.54 273.76)">C31</text>
<line x1="110.15" y1="270.66" x2="110.15" y2="272.46" stroke="#333" stroke-width="0.8"/>
<text x="112.35" y="273.76" font-size="6.2" text-anchor="end" fill="#222" transform="rotate(-90 112.35 273.76)">D27</text>
<line x1="116.97" y1="270.66" x2="116.97" y2="272.46" stroke="#333" stroke-width="0.8"/>
<text x="119.17" y="273.76" font-size="6.2" text-anchor="end" fill="#222" transform="rotate(-90 119.17 273.76)">C20</text>
<line x1="123.79" y1="270.66" x2="123.79" y2="272.46" stroke="#333" stroke-width="0.8"/>
<text x="125.99" y="273.76" font-size="6.2" text-anchor="end" fill="#222" transform="rotate(-90 125.99 273.76)">C6</text>
<line x1="130.61" y1="270.66" x2="130.61" y2="272.46" stroke="#333" stroke-width="0.8"/>
<text x="132.81" y="273.76" font-size="6.2" text-anchor="end" fill="#222" transform="rotate(-90 132.81 273.76)">D21</text>
<line x1="137.43" y1="270.66" x2="137.43" y2="272.46" stroke="#333" stroke-width="0.8"/>
<text x="139.62" y="273.76" font-size="6.2" text-anchor="end" fill="#222" transform="rotate(-90 139.62 273.76)">S30</text>
<line x1="144.24" y1="270.66" x2="144.24" y2="272.46" stroke="#333" stroke-width="0.8"/>
<text x="146.44" y="273.76" font-size="6.2" text-anchor="end" fill="#222" transform="rotate(-90 146.44 273.76)">S8</text>
<line x1="151.06" y1="270.66" x2="151.06" y2="272.46" stroke="#333" stroke-width="0.8"/>
<text x="153.26" y="273.76" font-size="6.2" text-anchor="end" fill="#222" transform="rotate(-90 153.26 273.76)">C22</text>
<line x1="157.88" y1="270.66" x2="157.88" y2="272.46" stroke="#333" stroke-width="0.8"/>
<text x="160.08" y="273.76" font-size="6.2" text-anchor="end" fill="#222" transform="rotate(-90 160.08 273.76)">S24</text>
<line x1="164.7" y1="270.66" x2="164.7" y2="272.46" stroke="#333" stroke-width="0.8"/>
<text x="166.9" y="273.76" font-size="6.2" text-anchor="end" fill="#222" transform="rotate(-90 166.9 273.76)">S10</text>
<line x1="171.51" y1="270.66" x2="171.51" y2="272.46" stroke="#333" stroke-width="0.8"/>
<text x="173.71" y="273.76" font-size="6.2" text-anchor="end" fill="#222" transform="rotate(-90 173.71 273.76)">C28</text>
<line x1="178.33" y1="270.66" x2="178.33" y2="272.46" stroke="#333" stroke-width="0.8"/>
<text x="180.53" y="273.76" font-size="6.2" text-anchor="end" fill="#222" transform="rotate(-90 180.53 273.76)">S16</text>
<line x1="185.15" y1="270.66" x2="185.15" y2="272.46" stroke="#333" stroke-width="0.8"/>
<text x="187.35" y="273.76" font-size="6.2" text-anchor="end" fill="#222" transform="rotate(-90 187.35 273.76)">S15</text>
<line x1="191.97" y1="270.66" x2="191.97" y2="272.46" stroke="#333" stroke-width="0.8"/>
<text x="194.17" y="273.76" font-size="6.2" text-anchor="end" fill="#222" transform="rotate(-90 194.17 273.76)">S17</text>
<line x1="198.79" y1="270.66" x2="198.79" y2="272.46" stroke="#333" stroke-width="0.8"/>
<text x="200.99" y="273.76" font-size="6.2" text-anchor="end" fill="#222" transform="rotate(-90 200.99 273.76)">C27</text>
<line x1="205.61" y1="270.66" x2="205.61" y2="272.46" stroke="#333" stroke-width="0.8"/>
<text x="207.81" y="273.76" font-size="6.2" text-anchor="end" fill="#222" transform="rotate(-90 207.81 273.76)">S11</text>
<line x1="212.42" y1="270.66" x2="212.42" y2="272.46" stroke="#333" stroke-width="0.8"/>
<text x="214.62" y="273.76" font-size="6.2" text-anchor="end" fill="#222" transform="rotate(-90 214.62 273.76)">S14</text>
<line x1="219.24" y1="270.66" x2="219.24" y2="272.46" stroke="#333" stroke-width="0.8"/>
<text x="221.44" y="273.76" font-size="6.2" text-anchor="end" fill="#222" transform="rotate(-90 221.44 273.76)">S12</text>
<line x1="226.06" y1="270.66" x2="226.06" y2="272.46" stroke="#333" stroke-width="0.8"/>
<text x="228.26" y="273.76" font-size="6.2" text-anchor="end" fill="#222" transform="rotate(-90 228.26 273.76)">S20</text>
<line x1="232.88" y1="270.66" x2="232.88" y2="272.46" stroke="#333" stroke-width="0.8"/>
<text x="235.08" y="273.76" font-size="6.2" text-anchor="end" fill="#222" transform="rotate(-90 235.08 273.76)">C9</text>
<line x1="239.69" y1="270.66" x2="239.69" y2="272.46" stroke="#333" stroke-width="0.8"/>
<text x="241.89" y="273.76" font-size="6.2" text-anchor="end" fill="#222" transform="rotate(-90 241.89 273.76)">S6</text>
<line x1="246.51" y1="270.66" x2="246.51" y2="272.46" stroke="#333" stroke-width="0.8"/>
<text x="248.71" y="273.76" font-size="6.2" text-anchor="end" fill="#222" transform="rotate(-90 248.71 273.76)">C1</text>
<line x1="253.33" y1="270.66" x2="253.33" y2="272.46" stroke="#333" stroke-width="0.8"/>
<text x="255.53" y="273.76" font-size="6.2" text-anchor="end" fill="#222" transform="rotate(-90 255.53 273.76)">C29</text>
<line x1="260.15" y1="270.66" x2="260.15" y2="272.46" stroke="#333" stroke-width="0.8"/>
<text x="262.35" y="273.76" font-size="6.2" text-anchor="end" fill="#222" transform="rotate(-90 262.35 273.76)">C12</text>
<line x1="266.97" y1="270.66" x2="266.97" y2="272.46" stroke="#333" stroke-width="0.8"/>
<text x="269.17" y="273.76" font-size="6.2" text-anchor="end" fill="#222" transform="rotate(-90 269.17 273.76)">C30</text>
<line x1="273.78" y1="270.66" x2="273.78" y2="272.46" stroke="#333" stroke-width="0.8"/>
<text x="275.98" y="273.76" font-size="6.2" text-anchor="end" fill="#222" transform="rotate(-90 275.98 273.76)">C16</text>
<line x1="280.6" y1="270.66" x2="280.6" y2="272.46" stroke="#333" stroke-width="0.8"/>
<text x="282.8" y="273.76" font-size="6.2" text-anchor="end" fill="#222" transform="rotate(-90 282.8 273.76)">S5</text>
<line x1="287.42" y1="270.66" x2="287.42" y2="272.46" stroke="#333" stroke-width="0.8"/>
<text x="289.62" y="273.76" font-size="6.2" text-anchor="end" fill="#222" transform="rotate(-90 289.62 273.76)">S13</text>
<line x1="294.24" y1="270.66" x2="294.24" y2="272.46" stroke="#333" stroke-width="0.8"/>
<text x="296.44" y="273.76" font-size="6.2" text-anchor="end" fill="#222" transform="rotate(-90 296.44 273.76)">C19</text>
<line x1="301.06" y1="270.66" x2="301.06" y2="272.46" stroke="#333" stroke-width="0.8"/>
<text x="303.26" y="273.76" font-size="6.2" text-anchor="end" fill="#222" transform="rotate(-90 303.26 273.76)">S23</text>
<line x1="307.88" y1="270.66" x2="307.88" y2="272.46" stroke="#333" stroke-width="0.8"/>
<text x="310.07" y="273.76" font-size="6.2" text-anchor="end" fill="#222" transform="rotate(-90 310.07 273.76)">C17</text>
<line x1="314.69" y1="270.66" x2="314.69" y2="272.46" stroke="#333" stroke-width="0.8"/>
<text x="316.89" y="273.76" font-size="6.2" text-anchor="end" fill="#222" transform="rotate(-90 316.89 273.76)">C18</text>
<line x1="321.51" y1="270.66" x2="321.51" y2="272.46" stroke="#333" stroke-width="0.8"/>
<text x="323.71" y="273.76" font-size="6.2" text-anchor="end" fill="#222" transform="rotate(-90 323.71 273.76)">C23</text>
<line x1="328.33" y1="270.66" x2="328.33" y2="272.46" stroke="#333" stroke-width="0.8"/>
<text x="330.53" y="273.76" font-size="6.2" text-anchor="end" fill="#222" transform="rotate(-90 330.53 273.76)">D23</text>
<line x1="335.15" y1="270.66" x2="335.15" y2="272.46" stroke="#333" stroke-width="0.8"/>
<text x="337.35" y="273.76" font-size="6.2" text-anchor="end" fill="#222" transform="rotate(-90 337.35 273.76)">C13</text>
<line x1="341.96" y1="270.66" x2="341.96" y2="272.46" stroke="#333" stroke-width="0.8"/>
<text x="344.16" y="273.76" font-size="6.2" text-anchor="end" fill="#222" transform="rotate(-90 344.16 273.76)">C25</text>
<line x1="348.78" y1="270.66" x2="348.78" y2="272.46" stroke="#333" stroke-width="0.8"/>
<text x="350.98" y="273.76" font-size="6.2" text-anchor="end" fill="#222" transform="rotate(-90 350.98 273.76)">D26</text>
<line x1="355.6" y1="270.66" x2="355.6" y2="272.46" stroke="#333" stroke-width="0.8"/>
<text x="357.8" y="273.76" font-size="6.2" text-anchor="end" fill="#222" transform="rotate(-90 357.8 273.76)">C26</text>
<line x1="362.42" y1="270.66" x2="362.42" y2="272.46" stroke="#333" stroke-width="0.8"/>
<text x="364.62" y="273.76" font-size="6.2" text-anchor="end" fill="#222" transform="rotate(-90 364.62 273.76)">C8</text>
<line x1="369.24" y1="270.66" x2="369.24" y2="272.46" stroke="#333" stroke-width="0.8"/>
<text x="371.44" y="273.76" font-size="6.2" text-anchor="end" fill="#222" transform="rotate(-90 371.44 273.76)">C24</text>
<line x1="376.05" y1="270.66" x2="376.05" y2="272.46" stroke="#333" stroke-width="0.8"/>
<text x="378.25" y="273.76" font-size="6.2" text-anchor="end" fill="#222" transform="rotate(-90 378.25 273.76)">C21</text>
<line x1="382.87" y1="270.66" x2="382.87" y2="272.46" stroke="#333" stroke-width="0.8"/>
<text x="385.07" y="273.76" font-size="6.2" text-anchor="end" fill="#222" transform="rotate(-90 385.07 273.76)">S7</text>
<line x1="389.69" y1="270.66" x2="389.69" y2="272.46" stroke="#333" stroke-width="0.8"/>
<text x="391.89" y="273.76" font-size="6.2" text-anchor="end" fill="#222" transform="rotate(-90 391.89 273.76)">C10</text>
<line x1="396.51" y1="270.66" x2="396.51" y2="272.46" stroke="#333" stroke-width="0.8"/>
<text x="398.71" y="273.76" font-size="6.2" text-anchor="end" fill="#222" transform="rotate(-90 398.71 273.76)">D10</text>
<line x1="403.33" y1="270.66" x2="403.33" y2="272.46" stroke="#333" stroke-width="0.8"/>
<text x="405.53" y="273.76" font-size="6.2" text-anchor="end" fill="#222" transform="rotate(-90 405.53 273.76)">D14</text>
<line x1="410.14" y1="270.66" x2="410.14" y2="272.46" stroke="#333" stroke-width="0.8"/>
<text x="412.34" y="273.76" font-size="6.2" text-anchor="end" fill="#222" transform="rotate(-90 412.34 273.76)">S26</text>
<line x1="416.96" y1="270.66" x2="416.96" y2="272.46" stroke="#333" stroke-width="0.8"/>
<text x="419.16" y="273.76" font-size="6.2" text-anchor="end" fill="#222" transform="rotate(-90 419.16 273.76)">D19</text>
<line x1="423.78" y1="270.66" x2="423.78" y2="272.46" stroke="#333" stroke-width="0.8"/>
<text x="425.98" y="273.76" font-size="6.2" text-anchor="end" fill="#222" transform="rotate(-90 425.98 273.76)">D6</text>
<line x1="430.6" y1="270.66" x2="430.6" y2="272.46" stroke="#333" stroke-width="0.8"/>
<text x="432.8" y="273.76" font-size="6.2" text-anchor="end" fill="#222" transform="rotate(-90 432.8 273.76)">C4</text>
<line x1="437.42" y1="270.66" x2="437.42" y2="272.46" stroke="#333" stroke-width="0.8"/>
<text x="439.62" y="273.76" font-size="6.2" text-anchor="end" fill="#222" transform="rotate(-90 439.62 273.76)">C5</text>
<line x1="444.23" y1="270.66" x2="444.23" y2="272.46" stroke="#333" stroke-width="0.8"/>
<text x="446.43" y="273.76" font-size="6.2" text-anchor="end" fill="#222" transform="rotate(-90 446.43 273.76)">S4</text>
<line x1="451.05" y1="270.66" x2="451.05" y2="272.46" stroke="#333" stroke-width="0.8"/>
<text x="453.25" y="273.76" font-size="6.2" text-anchor="end" fill="#222" transform="rotate(-90 453.25 273.76)">C15</text>
<line x1="457.87" y1="270.66" x2="457.87" y2="272.46" stroke="#333" stroke-width="0.8"/>
<text x="460.07" y="273.76" font-size="6.2" text-anchor="end" fill="#222" transform="rotate(-90 460.07 273.76)">C3</text>
<line x1="464.69" y1="270.66" x2="464.69" y2="272.46" stroke="#333" stroke-width="0.8"/>
<text x="466.89" y="273.76" font-size="6.2" text-anchor="end" fill="#222" transform="rotate(-90 466.89 273.76)">C11</text>
<line x1="471.51" y1="270.66" x2="471.51" y2="272.46" stroke="#333" stroke-width="0.8"/>
<text x="473.71" y="273.76" font-size="6.2" text-anchor="end" fill="#222" transform="rotate(-90 473.71 273.76)">S28</text>
<line x1="478.32" y1="270.66" x2="478.32" y2="272.46" stroke="#333" stroke-width="0.8"/>
<text x="480.52" y="273.76" font-size="6.2" text-anchor="end" fill="#222" transform="rotate(-90 480.52 273.76)">S27</text>
<line x1="485.14" y1="270.66" x2="485.14" y2="272.46" stroke="#333" stroke-width="0.8"/>
<text x="487.34" y="273.76" font-size="6.2" text-anchor="end" fill="#222" transform="rotate(-90 487.34 273.76)">S25</text>
<line x1="491.96" y1="270.66" x2="491.96" y2="272.46" stroke="#333" stroke-width="0.8"/>
<text x="494.16" y="273.76" font-size="6.2" text-anchor="end" fill="#222" transform="rotate(-90 494.16 273.76)">S9</text>
<line x1="498.78" y1="270.66" x2="498.78" y2="272.46" stroke="#333" stroke-width="0.8"/>
<text x="500.98" y="273.76" font-size="6.2" text-anchor="end" fill="#222" transform="rotate(-90 500.98 273.76)">D17</text>
<line x1="505.6" y1="270.66" x2="505.6" y2="272.46" stroke="#333" stroke-width="0.8"/>
<text x="507.8" y="273.76" font-size="6.2" text-anchor="end" fill="#222" transform="rotate(-90 507.8 273.76)">D3</text>
<line x1="512.41" y1="270.66" x2="512.41" y2="272.46" stroke="#333" stroke-width="0.8"/>
<text x="514.62" y="273.76" font-size="6.2" text-anchor="end" fill="#222" transform="rotate(-90 514.62 273.76)">D18</text>
<line x1="519.23" y1="270.66" x2="519.23" y2="272.46" stroke="#333" stroke-width="0.8"/>
<text x="521.43" y="273.76" font-size="6.2" text-anchor="end" fill="#222" transform="rotate(-90 521.43 273.76)">D8</text>
<line x1="526.05" y1="270.66" x2="526.05" y2="272.46" stroke="#333" stroke-width="0.8"/>
<text x="528.25" y="273.76" font-size="6.2" text-anchor="end" fill="#222" transform="rotate(-90 528.25 273.76)">D16</text>
<line x1="532.87" y1="270.66" x2="532.87" y2="272.46" stroke="#333" stroke-width="0.8"/>
<text x="535.07" y="273.76" font-size="6.2" text-anchor="end" fill="#222" transform="rotate(-90 535.07 273.76)">D15</text>
<line x1="539.69" y1="270.66" x2="539.69" y2="272.46" stroke="#333" stroke-width="0.8"/>
<text x="541.89" y="273.76" font-size="6.2" text-anchor="end" fill="#222" transform="rotate(-90 541.89 273.76)">D4</text>
<line x1="546.5" y1="270.66" x2="546.5" y2="272.46" stroke="#333" stroke-width="0.8"/>
<text x="548.71" y="273.76" font-size="6.2" text-anchor="end" fill="#222" transform="rotate(-90 548.71 273.76)">C7</text>
<line x1="553.32" y1="270.66" x2="553.32" y2="272.46" stroke="#333" stroke-width="0.8"/>
<text x="555.52" y="273.76" font-size="6.2" text-anchor="end" fill="#222" transform="rotate(-90 555.52 273.76)">D11</text>
<line x1="560.14" y1="270.66" x2="560.14" y2="272.46" stroke="#333" stroke-width="0.8"/>
<text x="562.34" y="273.76" font-size="6.2" text-anchor="end" fill="#222" transform="rotate(-90 562.34 273.76)">D13</text>
<line x1="566.96" y1="270.66" x2="566.96" y2="272.46" stroke="#333" stroke-width="0.8"/>
<text x="569.16" y="273.76" font-size="6.2" text-anchor="end" fill="#222" transform="rotate(-90 569.16 273.76)">D12</text>
<line x1="573.78" y1="270.66" x2="573.78" y2="272.46" stroke="#333" stroke-width="0.8"/>
<text x="575.98" y="273.76" font-size="6.2" text-anchor="end" fill="#222" transform="rotate(-90 575.98 273.76)">C2</text>
<line x1="580.6" y1="270.66" x2="580.6" y2="272.46" stroke="#333" stroke-width="0.8"/>
<text x="582.8" y="273.76" font-size="6.2" text-anchor="end" fill="#222" transform="rotate(-90 582.8 273.76)">S19</text>
<line x1="587.41" y1="270.66" x2="587.41" y2="272.46" stroke="#333" stroke-width="0.8"/>
<text x="589.61" y="273.76" font-size="6.2" text-anchor="end" fill="#222" transform="rotate(-90 589.61 273.76)">D2</text>
<line x1="594.23" y1="270.66" x2="594.23" y2="272.46" stroke="#333" stroke-width="0.8"/>
<text x="596.43" y="273.76" font-size="6.2" text-anchor="end" fill="#222" transform="rotate(-90 596.43 273.76)">D7</text>
<line x1="601.05" y1="270.66" x2="601.05" y2="272.46" stroke="#333" stroke-width="0.8"/>
<text x="603.25" y="273.76" font-size="6.2" text-anchor="end" fill="#222" transform="rotate(-90 603.25 273.76)">S1</text>
<line x1="607.87" y1="270.66" x2="607.87" y2="272.46" stroke="#333" stroke-width="0.8"/>
<text x="610.07" y="273.76" font-size="6.2" text-anchor="end" fill="#222" transform="rotate(-90 610.07 273.76)">S18</text>
<line x1="614.69" y1="270.66" x2="614.69" y2="272.46" stroke="#333" stroke-width="0.8"/>
<text x="616.89" y="273.76" font-size="6.2" text-anchor="end" fill="#222" transform="rotate(-90 616.89 273.76)">S2</text>
<line x1="621.5" y1="270.66" x2="621.5" y2="272.46" stroke="#333" stroke-width="0.8"/>
<text x="623.7" y="273.76" font-size="6.2" text-anchor="end" fill="#222" transform="rotate(-90 623.7 273.76)">S3</text>
<line x1="628.32" y1="270.66" x2="628.32" y2="272.46" stroke="#333" stroke-width="0.8"/>
<text x="630.52" y="273.76" font-size="6.2" text-anchor="end" fill="#222" transform="rotate(-90 630.52 273.76)">D5</text>
<line x1="635.14" y1="270.66" x2="635.14" y2="272.46" stroke="#333" stroke-width="0.8"/>
<text x="637.34" y="273.76" font-size="6.2" text-anchor="end" fill="#222" transform="rotate(-90 637.34 273.76)">D20</text>
<line x1="641.96" y1="270.66" x2="641.96" y2="272.46" stroke="#333" stroke-width="0.8"/>
<text x="644.16" y="273.76" font-size="6.2" text-anchor="end" fill="#222" transform="rotate(-90 644.16 273.76)">D1</text>
<line x1="648.77" y1="270.66" x2="648.77" y2="272.46" stroke="#333" stroke-width="0.8"/>
<text x="650.98" y="273.76" font-size="6.2" text-anchor="end" fill="#222" transform="rotate(-90 650.98 273.76)">D9</text>
<rect x="120.23" y="220.19" width="7.12" height="14.08" fill="none" stroke="#7cfc3c" stroke-width="2.7"/>
<rect x="127.05" y="220.19" width="7.12" height="14.08" fill="none" stroke="#ff00ff" stroke-width="2.7"/>
<rect x="277.04" y="220.19" width="7.12" height="14.08" fill="none" stroke="#7ff5f0" stroke-width="2.7"/>
<circle cx="123.79" cy="286" r="2.9" fill="#7cfc3c"/>
<circle cx="130.61" cy="288" r="2.9" fill="#ff00ff"/>
<circle cx="280.6" cy="285.5" r="2.9" fill="#7ff5f0"/>
<defs><linearGradient id="cb237" x1="0" y1="0" x2="0" y2="1">
<stop offset="0" stop-color="#b40426"/>
<stop offset="0.1" stop-color="#d65244"/>
<stop offset="0.2" stop-color="#ee8468"/>
<stop offset="0.3" stop-color="#f7ac8e"/>
<stop offset="0.4" stop-color="#f2cbb7"/>
<stop offset="0.5" stop-color="#dddcdc"/>
<stop offset="0.6" stop-color="#c0d4f5"/>
<stop offset="0.7" stop-color="#9ebeff"/>
<stop offset="0.8" stop-color="#7b9ff9"/>
<stop offset="0.9" stop-color="#5977e3"/>
<stop offset="1" stop-color="#3b4cc0"/>
</linearGradient></defs>
<rect x="657" y="237.4" width="6.8" height="33.3" fill="url(#cb237)" stroke="none" stroke-width="1"/>
<line x1="663.8" y1="237.4" x2="665.3" y2="237.4" stroke="#555" stroke-width="0.6"/>
<line x1="663.8" y1="245.72" x2="665.3" y2="245.72" stroke="#555" stroke-width="0.6"/>
<line x1="663.8" y1="254.05" x2="665.3" y2="254.05" stroke="#555" stroke-width="0.6"/>
<line x1="663.8" y1="262.38" x2="665.3" y2="262.38" stroke="#555" stroke-width="0.6"/>
<line x1="663.8" y1="270.7" x2="665.3" y2="270.7" stroke="#555" stroke-width="0.6"/>
<text x="660.4" y="235.2" font-size="7.5" text-anchor="middle" fill="#222" font-family="Liberation Serif">1.0</text>
<text x="664.3" y="277.9" font-size="7.4" text-anchor="middle" fill="#222">-1.0</text>
<rect x="51.7" y="489.9" width="7.16" height="7.54" fill="#f5c4ac" stroke="none" stroke-width="1"/>
<rect x="58.51" y="489.9" width="7.16" height="7.54" fill="#f5c4ac" stroke="none" stroke-width="1"/>
<rect x="65.32" y="489.9" width="7.16" height="7.54" fill="#e3d9d3" stroke="none" stroke-width="1"/>
<rect x="72.12" y="489.9" width="7.16" height="7.54" fill="#eed0c0" stroke="none" stroke-width="1"/>
<rect x="78.93" y="489.9" width="7.16" height="7.54" fill="#eed0c0" stroke="none" stroke-width="1"/>
<rect x="85.74" y="489.9" width="7.16" height="7.54" fill="#ebd3c6" stroke="none" stroke-width="1"/>
<rect x="92.55" y="489.9" width="7.16" height="7.54" fill="#ebd3c6" stroke="none" stroke-width="1"/>
<rect x="99.36" y="489.9" width="7.16" height="7.54" fill="#f2cbb7" stroke="none" stroke-width="1"/>
<rect x="106.16" y="489.9" width="7.16" height="7.54" fill="#eed0c0" stroke="none" stroke-width="1"/>
<rect x="112.97" y="489.9" width="7.16" height="7.54" fill="#cfdaea" stroke="none" stroke-width="1"/>
<rect x="119.78" y="489.9" width="7.16" height="7.54" fill="#f2cbb7" stroke="none" stroke-width="1"/>
<rect x="126.59" y="489.9" width="7.16" height="7.54" fill="#f2cbb7" stroke="none" stroke-width="1"/>
<rect x="133.4" y="489.9" width="7.16" height="7.54" fill="#d6dce4" stroke="none" stroke-width="1"/>
<rect x="140.2" y="489.9" width="7.16" height="7.54" fill="#f2cbb7" stroke="none" stroke-width="1"/>
<rect x="147.01" y="489.9" width="7.16" height="7.54" fill="#afcafc" stroke="none" stroke-width="1"/>
<rect x="153.82" y="489.9" width="7.16" height="7.54" fill="#c0d4f5" stroke="none" stroke-width="1"/>
<rect x="160.63" y="489.9" width="7.16" height="7.54" fill="#afcafc" stroke="none" stroke-width="1"/>
<rect x="167.44" y="489.9" width="7.16" height="7.54" fill="#afcafc" stroke="none" stroke-width="1"/>
<rect x="174.24" y="489.9" width="7.16" height="7.54" fill="#afcafc" stroke="none" stroke-width="1"/>
<rect x="181.05" y="489.9" width="7.16" height="7.54" fill="#afcafc" stroke="none" stroke-width="1"/>
<rect x="187.86" y="489.9" width="7.16" height="7.54" fill="#a7c5fe" stroke="none" stroke-width="1"/>
<rect x="194.67" y="489.9" width="7.16" height="7.54" fill="#afcafc" stroke="none" stroke-width="1"/>
<rect x="201.48" y="489.9" width="7.16" height="7.54" fill="#a7c5fe" stroke="none" stroke-width="1"/>
<rect x="208.28" y="489.9" width="7.16" height="7.54" fill="#a7c5fe" stroke="none" stroke-width="1"/>
<rect x="215.09" y="489.9" width="7.16" height="7.54" fill="#afcafc" stroke="none" stroke-width="1"/>
<rect x="221.9" y="489.9" width="7.16" height="7.54" fill="#b9d0f9" stroke="none" stroke-width="1"/>
<rect x="228.71" y="489.9" width="7.16" height="7.54" fill="#a7c5fe" stroke="none" stroke-width="1"/>
<rect x="235.52" y="489.9" width="7.16" height="7.54" fill="#c0d4f5" stroke="none" stroke-width="1"/>
<rect x="242.32" y="489.9" width="7.16" height="7.54" fill="#b9d0f9" stroke="none" stroke-width="1"/>
<rect x="249.13" y="489.9" width="7.16" height="7.54" fill="#9ebeff" stroke="none" stroke-width="1"/>
<rect x="255.94" y="489.9" width="7.16" height="7.54" fill="#c7d7f0" stroke="none" stroke-width="1"/>
<rect x="262.75" y="489.9" width="7.16" height="7.54" fill="#9ebeff" stroke="none" stroke-width="1"/>
<rect x="269.56" y="489.9" width="7.16" height="7.54" fill="#b9d0f9" stroke="none" stroke-width="1"/>
<rect x="276.36" y="489.9" width="7.16" height="7.54" fill="#adc9fd" stroke="none" stroke-width="1"/>
<rect x="283.17" y="489.9" width="7.16" height="7.54" fill="#c0d4f5" stroke="none" stroke-width="1"/>
<rect x="289.98" y="489.9" width="7.16" height="7.54" fill="#dddcdc" stroke="none" stroke-width="1"/>
<rect x="296.79" y="489.9" width="7.16" height="7.54" fill="#eed0c0" stroke="none" stroke-width="1"/>
<rect x="303.6" y="489.9" width="7.16" height="7.54" fill="#b9d0f9" stroke="none" stroke-width="1"/>
<rect x="310.4" y="489.9" width="7.16" height="7.54" fill="#cfdaea" stroke="none" stroke-width="1"/>
<rect x="317.21" y="489.9" width="7.16" height="7.54" fill="#afcafc" stroke="none" stroke-width="1"/>
<rect x="324.02" y="489.9" width="7.16" height="7.54" fill="#f5c4ac" stroke="none" stroke-width="1"/>
<rect x="330.83" y="489.9" width="7.16" height="7.54" fill="#f5c4ac" stroke="none" stroke-width="1"/>
<rect x="337.64" y="489.9" width="7.16" height="7.54" fill="#cfdaea" stroke="none" stroke-width="1"/>
<rect x="344.44" y="489.9" width="7.16" height="7.54" fill="#eed0c0" stroke="none" stroke-width="1"/>
<rect x="351.25" y="489.9" width="7.16" height="7.54" fill="#f7b194" stroke="none" stroke-width="1"/>
<rect x="358.06" y="489.9" width="7.16" height="7.54" fill="#f7ac8e" stroke="none" stroke-width="1"/>
<rect x="364.87" y="489.9" width="7.16" height="7.54" fill="#dddcdc" stroke="none" stroke-width="1"/>
<rect x="371.68" y="489.9" width="7.16" height="7.54" fill="#cfdaea" stroke="none" stroke-width="1"/>
<rect x="378.48" y="489.9" width="7.16" height="7.54" fill="#e9d5cb" stroke="none" stroke-width="1"/>
<rect x="385.29" y="489.9" width="7.16" height="7.54" fill="#d6dce4" stroke="none" stroke-width="1"/>
<rect x="392.1" y="489.9" width="7.16" height="7.54" fill="#c7d7f0" stroke="none" stroke-width="1"/>
<rect x="398.91" y="489.9" width="7.16" height="7.54" fill="#c0d4f5" stroke="none" stroke-width="1"/>
<rect x="405.72" y="489.9" width="7.16" height="7.54" fill="#9ebeff" stroke="none" stroke-width="1"/>
<rect x="412.52" y="489.9" width="7.16" height="7.54" fill="#9ebeff" stroke="none" stroke-width="1"/>
<rect x="419.33" y="489.9" width="7.16" height="7.54" fill="#9ebeff" stroke="none" stroke-width="1"/>
<rect x="426.14" y="489.9" width="7.16" height="7.54" fill="#d6dce4" stroke="none" stroke-width="1"/>
<rect x="432.95" y="489.9" width="7.16" height="7.54" fill="#d6dce4" stroke="none" stroke-width="1"/>
<rect x="439.76" y="489.9" width="7.16" height="7.54" fill="#cfdaea" stroke="none" stroke-width="1"/>
<rect x="446.56" y="489.9" width="7.16" height="7.54" fill="#d6dce4" stroke="none" stroke-width="1"/>
<rect x="453.37" y="489.9" width="7.16" height="7.54" fill="#96b7ff" stroke="none" stroke-width="1"/>
<rect x="460.18" y="489.9" width="7.16" height="7.54" fill="#e3d9d3" stroke="none" stroke-width="1"/>
<rect x="466.99" y="489.9" width="7.16" height="7.54" fill="#dddcdc" stroke="none" stroke-width="1"/>
<rect x="473.8" y="489.9" width="7.16" height="7.54" fill="#96b7ff" stroke="none" stroke-width="1"/>
<rect x="480.6" y="489.9" width="7.16" height="7.54" fill="#9ebeff" stroke="none" stroke-width="1"/>
<rect x="487.41" y="489.9" width="7.16" height="7.54" fill="#9ebeff" stroke="none" stroke-width="1"/>
<rect x="494.22" y="489.9" width="7.16" height="7.54" fill="#d6dce4" stroke="none" stroke-width="1"/>
<rect x="501.03" y="489.9" width="7.16" height="7.54" fill="#afcafc" stroke="none" stroke-width="1"/>
<rect x="507.84" y="489.9" width="7.16" height="7.54" fill="#b9d0f9" stroke="none" stroke-width="1"/>
<rect x="514.64" y="489.9" width="7.16" height="7.54" fill="#c0d4f5" stroke="none" stroke-width="1"/>
<rect x="521.45" y="489.9" width="7.16" height="7.54" fill="#c0d4f5" stroke="none" stroke-width="1"/>
<rect x="528.26" y="489.9" width="7.16" height="7.54" fill="#dddcdc" stroke="none" stroke-width="1"/>
<rect x="535.07" y="489.9" width="7.16" height="7.54" fill="#cfdaea" stroke="none" stroke-width="1"/>
<rect x="541.88" y="489.9" width="7.16" height="7.54" fill="#cfdaea" stroke="none" stroke-width="1"/>
<rect x="548.68" y="489.9" width="7.16" height="7.54" fill="#c0d4f5" stroke="none" stroke-width="1"/>
<rect x="555.49" y="489.9" width="7.16" height="7.54" fill="#c7d7f0" stroke="none" stroke-width="1"/>
<rect x="562.3" y="489.9" width="7.16" height="7.54" fill="#c7d7f0" stroke="none" stroke-width="1"/>
<rect x="569.11" y="489.9" width="7.16" height="7.54" fill="#a7c5fe" stroke="none" stroke-width="1"/>
<rect x="575.92" y="489.9" width="7.16" height="7.54" fill="#9ebeff" stroke="none" stroke-width="1"/>
<rect x="582.72" y="489.9" width="7.16" height="7.54" fill="#afcafc" stroke="none" stroke-width="1"/>
<rect x="589.53" y="489.9" width="7.16" height="7.54" fill="#afcafc" stroke="none" stroke-width="1"/>
<rect x="596.34" y="489.9" width="7.16" height="7.54" fill="#b9d0f9" stroke="none" stroke-width="1"/>
<rect x="603.15" y="489.9" width="7.16" height="7.54" fill="#b9d0f9" stroke="none" stroke-width="1"/>
<rect x="609.96" y="489.9" width="7.16" height="7.54" fill="#b9d0f9" stroke="none" stroke-width="1"/>
<rect x="616.76" y="489.9" width="7.16" height="7.54" fill="#c0d4f5" stroke="none" stroke-width="1"/>
<rect x="623.57" y="489.9" width="7.16" height="7.54" fill="#b9d0f9" stroke="none" stroke-width="1"/>
<rect x="630.38" y="489.9" width="7.16" height="7.54" fill="#c0d4f5" stroke="none" stroke-width="1"/>
<rect x="637.19" y="489.9" width="7.16" height="7.54" fill="#dddcdc" stroke="none" stroke-width="1"/>
<rect x="644" y="489.9" width="7.16" height="7.54" fill="#cfdaea" stroke="none" stroke-width="1"/>
<rect x="51.7" y="497.09" width="7.16" height="7.54" fill="#f6a385" stroke="none" stroke-width="1"/>
<rect x="58.51" y="497.09" width="7.16" height="7.54" fill="#f6a385" stroke="none" stroke-width="1"/>
<rect x="65.32" y="497.09" width="7.16" height="7.54" fill="#f7b599" stroke="none" stroke-width="1"/>
<rect x="72.12" y="497.09" width="7.16" height="7.54" fill="#f7ac8e" stroke="none" stroke-width="1"/>
<rect x="78.93" y="497.09" width="7.16" height="7.54" fill="#f7b599" stroke="none" stroke-width="1"/>
<rect x="85.74" y="497.09" width="7.16" height="7.54" fill="#f7b599" stroke="none" stroke-width="1"/>
<rect x="92.55" y="497.09" width="7.16" height="7.54" fill="#f7b599" stroke="none" stroke-width="1"/>
<rect x="99.36" y="497.09" width="7.16" height="7.54" fill="#f6a385" stroke="none" stroke-width="1"/>
<rect x="106.16" y="497.09" width="7.16" height="7.54" fill="#f7b599" stroke="none" stroke-width="1"/>
<rect x="112.97" y="497.09" width="7.16" height="7.54" fill="#e9d5cb" stroke="none" stroke-width="1"/>
<rect x="119.78" y="497.09" width="7.16" height="7.54" fill="#f6bda2" stroke="none" stroke-width="1"/>
<rect x="126.59" y="497.09" width="7.16" height="7.54" fill="#f6a385" stroke="none" stroke-width="1"/>
<rect x="133.4" y="497.09" width="7.16" height="7.54" fill="#cfdaea" stroke="none" stroke-width="1"/>
<rect x="140.2" y="497.09" width="7.16" height="7.54" fill="#f7ac8e" stroke="none" stroke-width="1"/>
<rect x="147.01" y="497.09" width="7.16" height="7.54" fill="#96b7ff" stroke="none" stroke-width="1"/>
<rect x="153.82" y="497.09" width="7.16" height="7.54" fill="#84a7fc" stroke="none" stroke-width="1"/>
<rect x="160.63" y="497.09" width="7.16" height="7.54" fill="#6a8bef" stroke="none" stroke-width="1"/>
<rect x="167.44" y="497.09" width="7.16" height="7.54" fill="#7295f4" stroke="none" stroke-width="1"/>
<rect x="174.24" y="497.09" width="7.16" height="7.54" fill="#6a8bef" stroke="none" stroke-width="1"/>
<rect x="181.05" y="497.09" width="7.16" height="7.54" fill="#7b9ff9" stroke="none" stroke-width="1"/>
<rect x="187.86" y="497.09" width="7.16" height="7.54" fill="#6a8bef" stroke="none" stroke-width="1"/>
<rect x="194.67" y="497.09" width="7.16" height="7.54" fill="#7295f4" stroke="none" stroke-width="1"/>
<rect x="201.48" y="497.09" width="7.16" height="7.54" fill="#6687ed" stroke="none" stroke-width="1"/>
<rect x="208.28" y="497.09" width="7.16" height="7.54" fill="#6a8bef" stroke="none" stroke-width="1"/>
<rect x="215.09" y="497.09" width="7.16" height="7.54" fill="#6a8bef" stroke="none" stroke-width="1"/>
<rect x="221.9" y="497.09" width="7.16" height="7.54" fill="#8db0fe" stroke="none" stroke-width="1"/>
<rect x="228.71" y="497.09" width="7.16" height="7.54" fill="#7b9ff9" stroke="none" stroke-width="1"/>
<rect x="235.52" y="497.09" width="7.16" height="7.54" fill="#8db0fe" stroke="none" stroke-width="1"/>
<rect x="242.32" y="497.09" width="7.16" height="7.54" fill="#8db0fe" stroke="none" stroke-width="1"/>
<rect x="249.13" y="497.09" width="7.16" height="7.54" fill="#dddcdc" stroke="none" stroke-width="1"/>
<rect x="255.94" y="497.09" width="7.16" height="7.54" fill="#9ebeff" stroke="none" stroke-width="1"/>
<rect x="262.75" y="497.09" width="7.16" height="7.54" fill="#84a7fc" stroke="none" stroke-width="1"/>
<rect x="269.56" y="497.09" width="7.16" height="7.54" fill="#a7c5fe" stroke="none" stroke-width="1"/>
<rect x="276.36" y="497.09" width="7.16" height="7.54" fill="#6687ed" stroke="none" stroke-width="1"/>
<rect x="283.17" y="497.09" width="7.16" height="7.54" fill="#84a7fc" stroke="none" stroke-width="1"/>
<rect x="289.98" y="497.09" width="7.16" height="7.54" fill="#c0d4f5" stroke="none" stroke-width="1"/>
<rect x="296.79" y="497.09" width="7.16" height="7.54" fill="#eed0c0" stroke="none" stroke-width="1"/>
<rect x="303.6" y="497.09" width="7.16" height="7.54" fill="#c0d4f5" stroke="none" stroke-width="1"/>
<rect x="310.4" y="497.09" width="7.16" height="7.54" fill="#afcafc" stroke="none" stroke-width="1"/>
<rect x="317.21" y="497.09" width="7.16" height="7.54" fill="#96b7ff" stroke="none" stroke-width="1"/>
<rect x="324.02" y="497.09" width="7.16" height="7.54" fill="#f6a385" stroke="none" stroke-width="1"/>
<rect x="330.83" y="497.09" width="7.16" height="7.54" fill="#f6bda2" stroke="none" stroke-width="1"/>
<rect x="337.64" y="497.09" width="7.16" height="7.54" fill="#c0d4f5" stroke="none" stroke-width="1"/>
<rect x="344.44" y="497.09" width="7.16" height="7.54" fill="#eed0c0" stroke="none" stroke-width="1"/>
<rect x="351.25" y="497.09" width="7.16" height="7.54" fill="#e7d7ce" stroke="none" stroke-width="1"/>
<rect x="358.06" y="497.09" width="7.16" height="7.54" fill="#e9d5cb" stroke="none" stroke-width="1"/>
<rect x="364.87" y="497.09" width="7.16" height="7.54" fill="#dddcdc" stroke="none" stroke-width="1"/>
<rect x="371.68" y="497.09" width="7.16" height="7.54" fill="#cfdaea" stroke="none" stroke-width="1"/>
<rect x="378.48" y="497.09" width="7.16" height="7.54" fill="#f7b599" stroke="none" stroke-width="1"/>
<rect x="385.29" y="497.09" width="7.16" height="7.54" fill="#b9d0f9" stroke="none" stroke-width="1"/>
<rect x="392.1" y="497.09" width="7.16" height="7.54" fill="#a7c5fe" stroke="none" stroke-width="1"/>
<rect x="398.91" y="497.09" width="7.16" height="7.54" fill="#9ebeff" stroke="none" stroke-width="1"/>
<rect x="405.72" y="497.09" width="7.16" height="7.54" fill="#9ebeff" stroke="none" stroke-width="1"/>
<rect x="412.52" y="497.09" width="7.16" height="7.54" fill="#84a7fc" stroke="none" stroke-width="1"/>
<rect x="419.33" y="497.09" width="7.16" height="7.54" fill="#5977e3" stroke="none" stroke-width="1"/>
<rect x="426.14" y="497.09" width="7.16" height="7.54" fill="#afcafc" stroke="none" stroke-width="1"/>
<rect x="432.95" y="497.09" width="7.16" height="7.54" fill="#afcafc" stroke="none" stroke-width="1"/>
<rect x="439.76" y="497.09" width="7.16" height="7.54" fill="#afcafc" stroke="none" stroke-width="1"/>
<rect x="446.56" y="497.09" width="7.16" height="7.54" fill="#e3d9d3" stroke="none" stroke-width="1"/>
<rect x="453.37" y="497.09" width="7.16" height="7.54" fill="#9ebeff" stroke="none" stroke-width="1"/>
<rect x="460.18" y="497.09" width="7.16" height="7.54" fill="#e3d9d3" stroke="none" stroke-width="1"/>
<rect x="466.99" y="497.09" width="7.16" height="7.54" fill="#e7d7ce" stroke="none" stroke-width="1"/>
<rect x="473.8" y="497.09" width="7.16" height="7.54" fill="#9ebeff" stroke="none" stroke-width="1"/>
<rect x="480.6" y="497.09" width="7.16" height="7.54" fill="#8db0fe" stroke="none" stroke-width="1"/>
<rect x="487.41" y="497.09" width="7.16" height="7.54" fill="#84a7fc" stroke="none" stroke-width="1"/>
<rect x="494.22" y="497.09" width="7.16" height="7.54" fill="#9ebeff" stroke="none" stroke-width="1"/>
<rect x="501.03" y="497.09" width="7.16" height="7.54" fill="#7295f4" stroke="none" stroke-width="1"/>
<rect x="507.84" y="497.09" width="7.16" height="7.54" fill="#84a7fc" stroke="none" stroke-width="1"/>
<rect x="514.64" y="497.09" width="7.16" height="7.54" fill="#96b7ff" stroke="none" stroke-width="1"/>
<rect x="521.45" y="497.09" width="7.16" height="7.54" fill="#96b7ff" stroke="none" stroke-width="1"/>
<rect x="528.26" y="497.09" width="7.16" height="7.54" fill="#afcafc" stroke="none" stroke-width="1"/>
<rect x="535.07" y="497.09" width="7.16" height="7.54" fill="#96b7ff" stroke="none" stroke-width="1"/>
<rect x="541.88" y="497.09" width="7.16" height="7.54" fill="#afcafc" stroke="none" stroke-width="1"/>
<rect x="548.68" y="497.09" width="7.16" height="7.54" fill="#afcafc" stroke="none" stroke-width="1"/>
<rect x="555.49" y="497.09" width="7.16" height="7.54" fill="#9ebeff" stroke="none" stroke-width="1"/>
<rect x="562.3" y="497.09" width="7.16" height="7.54" fill="#a7c5fe" stroke="none" stroke-width="1"/>
<rect x="569.11" y="497.09" width="7.16" height="7.54" fill="#84a7fc" stroke="none" stroke-width="1"/>
<rect x="575.92" y="497.09" width="7.16" height="7.54" fill="#5977e3" stroke="none" stroke-width="1"/>
<rect x="582.72" y="497.09" width="7.16" height="7.54" fill="#84a7fc" stroke="none" stroke-width="1"/>
<rect x="589.53" y="497.09" width="7.16" height="7.54" fill="#8db0fe" stroke="none" stroke-width="1"/>
<rect x="596.34" y="497.09" width="7.16" height="7.54" fill="#7295f4" stroke="none" stroke-width="1"/>
<rect x="603.15" y="497.09" width="7.16" height="7.54" fill="#96b7ff" stroke="none" stroke-width="1"/>
<rect x="609.96" y="497.09" width="7.16" height="7.54" fill="#8db0fe" stroke="none" stroke-width="1"/>
<rect x="616.76" y="497.09" width="7.16" height="7.54" fill="#96b7ff" stroke="none" stroke-width="1"/>
<rect x="623.57" y="497.09" width="7.16" height="7.54" fill="#96b7ff" stroke="none" stroke-width="1"/>
<rect x="630.38" y="497.09" width="7.16" height="7.54" fill="#a7c5fe" stroke="none" stroke-width="1"/>
<rect x="637.19" y="497.09" width="7.16" height="7.54" fill="#c7d7f0" stroke="none" stroke-width="1"/>
<rect x="644" y="497.09" width="7.16" height="7.54" fill="#b9d0f9" stroke="none" stroke-width="1"/>
<rect x="51.7" y="504.28" width="7.16" height="7.54" fill="#f6a385" stroke="none" stroke-width="1"/>
<rect x="58.51" y="504.28" width="7.16" height="7.54" fill="#f6a385" stroke="none" stroke-width="1"/>
<rect x="65.32" y="504.28" width="7.16" height="7.54" fill="#f5c4ac" stroke="none" stroke-width="1"/>
<rect x="72.12" y="504.28" width="7.16" height="7.54" fill="#f7ac8e" stroke="none" stroke-width="1"/>
<rect x="78.93" y="504.28" width="7.16" height="7.54" fill="#f7b599" stroke="none" stroke-width="1"/>
<rect x="85.74" y="504.28" width="7.16" height="7.54" fill="#f7b599" stroke="none" stroke-width="1"/>
<rect x="92.55" y="504.28" width="7.16" height="7.54" fill="#f7b599" stroke="none" stroke-width="1"/>
<rect x="99.36" y="504.28" width="7.16" height="7.54" fill="#f6a385" stroke="none" stroke-width="1"/>
<rect x="106.16" y="504.28" width="7.16" height="7.54" fill="#f7b599" stroke="none" stroke-width="1"/>
<rect x="112.97" y="504.28" width="7.16" height="7.54" fill="#e3d9d3" stroke="none" stroke-width="1"/>
<rect x="119.78" y="504.28" width="7.16" height="7.54" fill="#f6bda2" stroke="none" stroke-width="1"/>
<rect x="126.59" y="504.28" width="7.16" height="7.54" fill="#f6a385" stroke="none" stroke-width="1"/>
<rect x="133.4" y="504.28" width="7.16" height="7.54" fill="#cfdaea" stroke="none" stroke-width="1"/>
<rect x="140.2" y="504.28" width="7.16" height="7.54" fill="#f7ac8e" stroke="none" stroke-width="1"/>
<rect x="147.01" y="504.28" width="7.16" height="7.54" fill="#96b7ff" stroke="none" stroke-width="1"/>
<rect x="153.82" y="504.28" width="7.16" height="7.54" fill="#96b7ff" stroke="none" stroke-width="1"/>
<rect x="160.63" y="504.28" width="7.16" height="7.54" fill="#6a8bef" stroke="none" stroke-width="1"/>
<rect x="167.44" y="504.28" width="7.16" height="7.54" fill="#7295f4" stroke="none" stroke-width="1"/>
<rect x="174.24" y="504.28" width="7.16" height="7.54" fill="#7295f4" stroke="none" stroke-width="1"/>
<rect x="181.05" y="504.28" width="7.16" height="7.54" fill="#7b9ff9" stroke="none" stroke-width="1"/>
<rect x="187.86" y="504.28" width="7.16" height="7.54" fill="#6a8bef" stroke="none" stroke-width="1"/>
<rect x="194.67" y="504.28" width="7.16" height="7.54" fill="#7295f4" stroke="none" stroke-width="1"/>
<rect x="201.48" y="504.28" width="7.16" height="7.54" fill="#6a8bef" stroke="none" stroke-width="1"/>
<rect x="208.28" y="504.28" width="7.16" height="7.54" fill="#7295f4" stroke="none" stroke-width="1"/>
<rect x="215.09" y="504.28" width="7.16" height="7.54" fill="#7295f4" stroke="none" stroke-width="1"/>
<rect x="221.9" y="504.28" width="7.16" height="7.54" fill="#9ebeff" stroke="none" stroke-width="1"/>
<rect x="228.71" y="504.28" width="7.16" height="7.54" fill="#8db0fe" stroke="none" stroke-width="1"/>
<rect x="235.52" y="504.28" width="7.16" height="7.54" fill="#96b7ff" stroke="none" stroke-width="1"/>
<rect x="242.32" y="504.28" width="7.16" height="7.54" fill="#96b7ff" stroke="none" stroke-width="1"/>
<rect x="249.13" y="504.28" width="7.16" height="7.54" fill="#cfdaea" stroke="none" stroke-width="1"/>
<rect x="255.94" y="504.28" width="7.16" height="7.54" fill="#a7c5fe" stroke="none" stroke-width="1"/>
<rect x="262.75" y="504.28" width="7.16" height="7.54" fill="#84a7fc" stroke="none" stroke-width="1"/>
<rect x="269.56" y="504.28" width="7.16" height="7.54" fill="#a7c5fe" stroke="none" stroke-width="1"/>
<rect x="276.36" y="504.28" width="7.16" height="7.54" fill="#7b9ff9" stroke="none" stroke-width="1"/>
<rect x="283.17" y="504.28" width="7.16" height="7.54" fill="#96b7ff" stroke="none" stroke-width="1"/>
<rect x="289.98" y="504.28" width="7.16" height="7.54" fill="#c0d4f5" stroke="none" stroke-width="1"/>
<rect x="296.79" y="504.28" width="7.16" height="7.54" fill="#eed0c0" stroke="none" stroke-width="1"/>
<rect x="303.6" y="504.28" width="7.16" height="7.54" fill="#c0d4f5" stroke="none" stroke-width="1"/>
<rect x="310.4" y="504.28" width="7.16" height="7.54" fill="#b9d0f9" stroke="none" stroke-width="1"/>
<rect x="317.21" y="504.28" width="7.16" height="7.54" fill="#9ebeff" stroke="none" stroke-width="1"/>
<rect x="324.02" y="504.28" width="7.16" height="7.54" fill="#f6a385" stroke="none" stroke-width="1"/>
<rect x="330.83" y="504.28" width="7.16" height="7.54" fill="#f6bda2" stroke="none" stroke-width="1"/>
<rect x="337.64" y="504.28" width="7.16" height="7.54" fill="#c0d4f5" stroke="none" stroke-width="1"/>
<rect x="344.44" y="504.28" width="7.16" height="7.54" fill="#eed0c0" stroke="none" stroke-width="1"/>
<rect x="351.25" y="504.28" width="7.16" height="7.54" fill="#f3c8b2" stroke="none" stroke-width="1"/>
<rect x="358.06" y="504.28" width="7.16" height="7.54" fill="#f5c4ac" stroke="none" stroke-width="1"/>
<rect x="364.87" y="504.28" width="7.16" height="7.54" fill="#e3d9d3" stroke="none" stroke-width="1"/>
<rect x="371.68" y="504.28" width="7.16" height="7.54" fill="#cfdaea" stroke="none" stroke-width="1"/>
<rect x="378.48" y="504.28" width="7.16" height="7.54" fill="#f7b599" stroke="none" stroke-width="1"/>
<rect x="385.29" y="504.28" width="7.16" height="7.54" fill="#b9d0f9" stroke="none" stroke-width="1"/>
<rect x="392.1" y="504.28" width="7.16" height="7.54" fill="#a7c5fe" stroke="none" stroke-width="1"/>
<rect x="398.91" y="504.28" width="7.16" height="7.54" fill="#9ebeff" stroke="none" stroke-width="1"/>
<rect x="405.72" y="504.28" width="7.16" height="7.54" fill="#9ebeff" stroke="none" stroke-width="1"/>
<rect x="412.52" y="504.28" width="7.16" height="7.54" fill="#8db0fe" stroke="none" stroke-width="1"/>
<rect x="419.33" y="504.28" width="7.16" height="7.54" fill="#6a8bef" stroke="none" stroke-width="1"/>
<rect x="426.14" y="504.28" width="7.16" height="7.54" fill="#afcafc" stroke="none" stroke-width="1"/>
<rect x="432.95" y="504.28" width="7.16" height="7.54" fill="#afcafc" stroke="none" stroke-width="1"/>
<rect x="439.76" y="504.28" width="7.16" height="7.54" fill="#a7c5fe" stroke="none" stroke-width="1"/>
<rect x="446.56" y="504.28" width="7.16" height="7.54" fill="#e3d9d3" stroke="none" stroke-width="1"/>
<rect x="453.37" y="504.28" width="7.16" height="7.54" fill="#84a7fc" stroke="none" stroke-width="1"/>
<rect x="460.18" y="504.28" width="7.16" height="7.54" fill="#dddcdc" stroke="none" stroke-width="1"/>
<rect x="466.99" y="504.28" width="7.16" height="7.54" fill="#e7d7ce" stroke="none" stroke-width="1"/>
<rect x="473.8" y="504.28" width="7.16" height="7.54" fill="#9ebeff" stroke="none" stroke-width="1"/>
<rect x="480.6" y="504.28" width="7.16" height="7.54" fill="#84a7fc" stroke="none" stroke-width="1"/>
<rect x="487.41" y="504.28" width="7.16" height="7.54" fill="#84a7fc" stroke="none" stroke-width="1"/>
<rect x="494.22" y="504.28" width="7.16" height="7.54" fill="#a7c5fe" stroke="none" stroke-width="1"/>
<rect x="501.03" y="504.28" width="7.16" height="7.54" fill="#7b9ff9" stroke="none" stroke-width="1"/>
<rect x="507.84" y="504.28" width="7.16" height="7.54" fill="#96b7ff" stroke="none" stroke-width="1"/>
<rect x="514.64" y="504.28" width="7.16" height="7.54" fill="#96b7ff" stroke="none" stroke-width="1"/>
<rect x="521.45" y="504.28" width="7.16" height="7.54" fill="#9ebeff" stroke="none" stroke-width="1"/>
<rect x="528.26" y="504.28" width="7.16" height="7.54" fill="#b9d0f9" stroke="none" stroke-width="1"/>
<rect x="535.07" y="504.28" width="7.16" height="7.54" fill="#a7c5fe" stroke="none" stroke-width="1"/>
<rect x="541.88" y="504.28" width="7.16" height="7.54" fill="#afcafc" stroke="none" stroke-width="1"/>
<rect x="548.68" y="504.28" width="7.16" height="7.54" fill="#a7c5fe" stroke="none" stroke-width="1"/>
<rect x="555.49" y="504.28" width="7.16" height="7.54" fill="#9ebeff" stroke="none" stroke-width="1"/>
<rect x="562.3" y="504.28" width="7.16" height="7.54" fill="#a7c5fe" stroke="none" stroke-width="1"/>
<rect x="569.11" y="504.28" width="7.16" height="7.54" fill="#9ebeff" stroke="none" stroke-width="1"/>
<rect x="575.92" y="504.28" width="7.16" height="7.54" fill="#6a8bef" stroke="none" stroke-width="1"/>
<rect x="582.72" y="504.28" width="7.16" height="7.54" fill="#7b9ff9" stroke="none" stroke-width="1"/>
<rect x="589.53" y="504.28" width="7.16" height="7.54" fill="#84a7fc" stroke="none" stroke-width="1"/>
<rect x="596.34" y="504.28" width="7.16" height="7.54" fill="#84a7fc" stroke="none" stroke-width="1"/>
<rect x="603.15" y="504.28" width="7.16" height="7.54" fill="#96b7ff" stroke="none" stroke-width="1"/>
<rect x="609.96" y="504.28" width="7.16" height="7.54" fill="#96b7ff" stroke="none" stroke-width="1"/>
<rect x="616.76" y="504.28" width="7.16" height="7.54" fill="#96b7ff" stroke="none" stroke-width="1"/>
<rect x="623.57" y="504.28" width="7.16" height="7.54" fill="#96b7ff" stroke="none" stroke-width="1"/>
<rect x="630.38" y="504.28" width="7.16" height="7.54" fill="#a7c5fe" stroke="none" stroke-width="1"/>
<rect x="637.19" y="504.28" width="7.16" height="7.54" fill="#c7d7f0" stroke="none" stroke-width="1"/>
<rect x="644" y="504.28" width="7.16" height="7.54" fill="#b9d0f9" stroke="none" stroke-width="1"/>
<rect x="51.7" y="511.47" width="7.16" height="7.54" fill="#e9785d" stroke="none" stroke-width="1"/>
<rect x="58.51" y="511.47" width="7.16" height="7.54" fill="#f18f71" stroke="none" stroke-width="1"/>
<rect x="65.32" y="511.47" width="7.16" height="7.54" fill="#f6bda2" stroke="none" stroke-width="1"/>
<rect x="72.12" y="511.47" width="7.16" height="7.54" fill="#f4987a" stroke="none" stroke-width="1"/>
<rect x="78.93" y="511.47" width="7.16" height="7.54" fill="#f6a385" stroke="none" stroke-width="1"/>
<rect x="85.74" y="511.47" width="7.16" height="7.54" fill="#f6a385" stroke="none" stroke-width="1"/>
<rect x="92.55" y="511.47" width="7.16" height="7.54" fill="#f7ac8e" stroke="none" stroke-width="1"/>
<rect x="99.36" y="511.47" width="7.16" height="7.54" fill="#f4987a" stroke="none" stroke-width="1"/>
<rect x="106.16" y="511.47" width="7.16" height="7.54" fill="#f6a385" stroke="none" stroke-width="1"/>
<rect x="112.97" y="511.47" width="7.16" height="7.54" fill="#e9d5cb" stroke="none" stroke-width="1"/>
<rect x="119.78" y="511.47" width="7.16" height="7.54" fill="#f7b599" stroke="none" stroke-width="1"/>
<rect x="126.59" y="511.47" width="7.16" height="7.54" fill="#f18f71" stroke="none" stroke-width="1"/>
<rect x="133.4" y="511.47" width="7.16" height="7.54" fill="#d6dce4" stroke="none" stroke-width="1"/>
<rect x="140.2" y="511.47" width="7.16" height="7.54" fill="#f4987a" stroke="none" stroke-width="1"/>
<rect x="147.01" y="511.47" width="7.16" height="7.54" fill="#9ebeff" stroke="none" stroke-width="1"/>
<rect x="153.82" y="511.47" width="7.16" height="7.54" fill="#96b7ff" stroke="none" stroke-width="1"/>
<rect x="160.63" y="511.47" width="7.16" height="7.54" fill="#6a8bef" stroke="none" stroke-width="1"/>
<rect x="167.44" y="511.47" width="7.16" height="7.54" fill="#7295f4" stroke="none" stroke-width="1"/>
<rect x="174.24" y="511.47" width="7.16" height="7.54" fill="#7b9ff9" stroke="none" stroke-width="1"/>
<rect x="181.05" y="511.47" width="7.16" height="7.54" fill="#8db0fe" stroke="none" stroke-width="1"/>
<rect x="187.86" y="511.47" width="7.16" height="7.54" fill="#6a8bef" stroke="none" stroke-width="1"/>
<rect x="194.67" y="511.47" width="7.16" height="7.54" fill="#7295f4" stroke="none" stroke-width="1"/>
<rect x="201.48" y="511.47" width="7.16" height="7.54" fill="#6a8bef" stroke="none" stroke-width="1"/>
<rect x="208.28" y="511.47" width="7.16" height="7.54" fill="#7295f4" stroke="none" stroke-width="1"/>
<rect x="215.09" y="511.47" width="7.16" height="7.54" fill="#6a8bef" stroke="none" stroke-width="1"/>
<rect x="221.9" y="511.47" width="7.16" height="7.54" fill="#8db0fe" stroke="none" stroke-width="1"/>
<rect x="228.71" y="511.47" width="7.16" height="7.54" fill="#7295f4" stroke="none" stroke-width="1"/>
<rect x="235.52" y="511.47" width="7.16" height="7.54" fill="#7b9ff9" stroke="none" stroke-width="1"/>
<rect x="242.32" y="511.47" width="7.16" height="7.54" fill="#7295f4" stroke="none" stroke-width="1"/>
<rect x="249.13" y="511.47" width="7.16" height="7.54" fill="#cfdaea" stroke="none" stroke-width="1"/>
<rect x="255.94" y="511.47" width="7.16" height="7.54" fill="#afcafc" stroke="none" stroke-width="1"/>
<rect x="262.75" y="511.47" width="7.16" height="7.54" fill="#9ebeff" stroke="none" stroke-width="1"/>
<rect x="269.56" y="511.47" width="7.16" height="7.54" fill="#a7c5fe" stroke="none" stroke-width="1"/>
<rect x="276.36" y="511.47" width="7.16" height="7.54" fill="#90b2fe" stroke="none" stroke-width="1"/>
<rect x="283.17" y="511.47" width="7.16" height="7.54" fill="#9ebeff" stroke="none" stroke-width="1"/>
<rect x="289.98" y="511.47" width="7.16" height="7.54" fill="#cfdaea" stroke="none" stroke-width="1"/>
<rect x="296.79" y="511.47" width="7.16" height="7.54" fill="#f5c4ac" stroke="none" stroke-width="1"/>
<rect x="303.6" y="511.47" width="7.16" height="7.54" fill="#c0d4f5" stroke="none" stroke-width="1"/>
<rect x="310.4" y="511.47" width="7.16" height="7.54" fill="#c0d4f5" stroke="none" stroke-width="1"/>
<rect x="317.21" y="511.47" width="7.16" height="7.54" fill="#a7c5fe" stroke="none" stroke-width="1"/>
<rect x="324.02" y="511.47" width="7.16" height="7.54" fill="#f18f71" stroke="none" stroke-width="1"/>
<rect x="330.83" y="511.47" width="7.16" height="7.54" fill="#f6bda2" stroke="none" stroke-width="1"/>
<rect x="337.64" y="511.47" width="7.16" height="7.54" fill="#c0d4f5" stroke="none" stroke-width="1"/>
<rect x="344.44" y="511.47" width="7.16" height="7.54" fill="#eed0c0" stroke="none" stroke-width="1"/>
<rect x="351.25" y="511.47" width="7.16" height="7.54" fill="#f5c4ac" stroke="none" stroke-width="1"/>
<rect x="358.06" y="511.47" width="7.16" height="7.54" fill="#f5c4ac" stroke="none" stroke-width="1"/>
<rect x="364.87" y="511.47" width="7.16" height="7.54" fill="#e3d9d3" stroke="none" stroke-width="1"/>
<rect x="371.68" y="511.47" width="7.16" height="7.54" fill="#cfdaea" stroke="none" stroke-width="1"/>
<rect x="378.48" y="511.47" width="7.16" height="7.54" fill="#f5c4ac" stroke="none" stroke-width="1"/>
<rect x="385.29" y="511.47" width="7.16" height="7.54" fill="#afcafc" stroke="none" stroke-width="1"/>
<rect x="392.1" y="511.47" width="7.16" height="7.54" fill="#96b7ff" stroke="none" stroke-width="1"/>
<rect x="398.91" y="511.47" width="7.16" height="7.54" fill="#96b7ff" stroke="none" stroke-width="1"/>
<rect x="405.72" y="511.47" width="7.16" height="7.54" fill="#84a7fc" stroke="none" stroke-width="1"/>
<rect x="412.52" y="511.47" width="7.16" height="7.54" fill="#8db0fe" stroke="none" stroke-width="1"/>
<rect x="419.33" y="511.47" width="7.16" height="7.54" fill="#5977e3" stroke="none" stroke-width="1"/>
<rect x="426.14" y="511.47" width="7.16" height="7.54" fill="#a7c5fe" stroke="none" stroke-width="1"/>
<rect x="432.95" y="511.47" width="7.16" height="7.54" fill="#9ebeff" stroke="none" stroke-width="1"/>
<rect x="439.76" y="511.47" width="7.16" height="7.54" fill="#afcafc" stroke="none" stroke-width="1"/>
<rect x="446.56" y="511.47" width="7.16" height="7.54" fill="#e3d9d3" stroke="none" stroke-width="1"/>
<rect x="453.37" y="511.47" width="7.16" height="7.54" fill="#7295f4" stroke="none" stroke-width="1"/>
<rect x="460.18" y="511.47" width="7.16" height="7.54" fill="#e9d5cb" stroke="none" stroke-width="1"/>
<rect x="466.99" y="511.47" width="7.16" height="7.54" fill="#d6dce4" stroke="none" stroke-width="1"/>
<rect x="473.8" y="511.47" width="7.16" height="7.54" fill="#7b9ff9" stroke="none" stroke-width="1"/>
<rect x="480.6" y="511.47" width="7.16" height="7.54" fill="#6a8bef" stroke="none" stroke-width="1"/>
<rect x="487.41" y="511.47" width="7.16" height="7.54" fill="#6a8bef" stroke="none" stroke-width="1"/>
<rect x="494.22" y="511.47" width="7.16" height="7.54" fill="#9ebeff" stroke="none" stroke-width="1"/>
<rect x="501.03" y="511.47" width="7.16" height="7.54" fill="#7b9ff9" stroke="none" stroke-width="1"/>
<rect x="507.84" y="511.47" width="7.16" height="7.54" fill="#84a7fc" stroke="none" stroke-width="1"/>
<rect x="514.64" y="511.47" width="7.16" height="7.54" fill="#96b7ff" stroke="none" stroke-width="1"/>
<rect x="521.45" y="511.47" width="7.16" height="7.54" fill="#96b7ff" stroke="none" stroke-width="1"/>
<rect x="528.26" y="511.47" width="7.16" height="7.54" fill="#afcafc" stroke="none" stroke-width="1"/>
<rect x="535.07" y="511.47" width="7.16" height="7.54" fill="#96b7ff" stroke="none" stroke-width="1"/>
<rect x="541.88" y="511.47" width="7.16" height="7.54" fill="#a7c5fe" stroke="none" stroke-width="1"/>
<rect x="548.68" y="511.47" width="7.16" height="7.54" fill="#96b7ff" stroke="none" stroke-width="1"/>
<rect x="555.49" y="511.47" width="7.16" height="7.54" fill="#96b7ff" stroke="none" stroke-width="1"/>
<rect x="562.3" y="511.47" width="7.16" height="7.54" fill="#9ebeff" stroke="none" stroke-width="1"/>
<rect x="569.11" y="511.47" width="7.16" height="7.54" fill="#9ebeff" stroke="none" stroke-width="1"/>
<rect x="575.92" y="511.47" width="7.16" height="7.54" fill="#7295f4" stroke="none" stroke-width="1"/>
<rect x="582.72" y="511.47" width="7.16" height="7.54" fill="#7b9ff9" stroke="none" stroke-width="1"/>
<rect x="589.53" y="511.47" width="7.16" height="7.54" fill="#7b9ff9" stroke="none" stroke-width="1"/>
<rect x="596.34" y="511.47" width="7.16" height="7.54" fill="#7b9ff9" stroke="none" stroke-width="1"/>
<rect x="603.15" y="511.47" width="7.16" height="7.54" fill="#96b7ff" stroke="none" stroke-width="1"/>
<rect x="609.96" y="511.47" width="7.16" height="7.54" fill="#84a7fc" stroke="none" stroke-width="1"/>
<rect x="616.76" y="511.47" width="7.16" height="7.54" fill="#8db0fe" stroke="none" stroke-width="1"/>
<rect x="623.57" y="511.47" width="7.16" height="7.54" fill="#84a7fc" stroke="none" stroke-width="1"/>
<rect x="630.38" y="511.47" width="7.16" height="7.54" fill="#a7c5fe" stroke="none" stroke-width="1"/>
<rect x="637.19" y="511.47" width="7.16" height="7.54" fill="#c7d7f0" stroke="none" stroke-width="1"/>
<rect x="644" y="511.47" width="7.16" height="7.54" fill="#a7c5fe" stroke="none" stroke-width="1"/>
<rect x="51.7" y="518.66" width="7.16" height="7.54" fill="#ee8468" stroke="none" stroke-width="1"/>
<rect x="58.51" y="518.66" width="7.16" height="7.54" fill="#f18f71" stroke="none" stroke-width="1"/>
<rect x="65.32" y="518.66" width="7.16" height="7.54" fill="#f6bda2" stroke="none" stroke-width="1"/>
<rect x="72.12" y="518.66" width="7.16" height="7.54" fill="#f18f71" stroke="none" stroke-width="1"/>
<rect x="78.93" y="518.66" width="7.16" height="7.54" fill="#f18f71" stroke="none" stroke-width="1"/>
<rect x="85.74" y="518.66" width="7.16" height="7.54" fill="#f4987a" stroke="none" stroke-width="1"/>
<rect x="92.55" y="518.66" width="7.16" height="7.54" fill="#f6a385" stroke="none" stroke-width="1"/>
<rect x="99.36" y="518.66" width="7.16" height="7.54" fill="#f18f71" stroke="none" stroke-width="1"/>
<rect x="106.16" y="518.66" width="7.16" height="7.54" fill="#f4987a" stroke="none" stroke-width="1"/>
<rect x="112.97" y="518.66" width="7.16" height="7.54" fill="#e9d5cb" stroke="none" stroke-width="1"/>
<rect x="119.78" y="518.66" width="7.16" height="7.54" fill="#f6bda2" stroke="none" stroke-width="1"/>
<rect x="126.59" y="518.66" width="7.16" height="7.54" fill="#f18f71" stroke="none" stroke-width="1"/>
<rect x="133.4" y="518.66" width="7.16" height="7.54" fill="#d6dce4" stroke="none" stroke-width="1"/>
<rect x="140.2" y="518.66" width="7.16" height="7.54" fill="#f4987a" stroke="none" stroke-width="1"/>
<rect x="147.01" y="518.66" width="7.16" height="7.54" fill="#9ebeff" stroke="none" stroke-width="1"/>
<rect x="153.82" y="518.66" width="7.16" height="7.54" fill="#84a7fc" stroke="none" stroke-width="1"/>
<rect x="160.63" y="518.66" width="7.16" height="7.54" fill="#6a8bef" stroke="none" stroke-width="1"/>
<rect x="167.44" y="518.66" width="7.16" height="7.54" fill="#6a8bef" stroke="none" stroke-width="1"/>
<rect x="174.24" y="518.66" width="7.16" height="7.54" fill="#7295f4" stroke="none" stroke-width="1"/>
<rect x="181.05" y="518.66" width="7.16" height="7.54" fill="#7b9ff9" stroke="none" stroke-width="1"/>
<rect x="187.86" y="518.66" width="7.16" height="7.54" fill="#6282ea" stroke="none" stroke-width="1"/>
<rect x="194.67" y="518.66" width="7.16" height="7.54" fill="#6a8bef" stroke="none" stroke-width="1"/>
<rect x="201.48" y="518.66" width="7.16" height="7.54" fill="#6a8bef" stroke="none" stroke-width="1"/>
<rect x="208.28" y="518.66" width="7.16" height="7.54" fill="#7295f4" stroke="none" stroke-width="1"/>
<rect x="215.09" y="518.66" width="7.16" height="7.54" fill="#6a8bef" stroke="none" stroke-width="1"/>
<rect x="221.9" y="518.66" width="7.16" height="7.54" fill="#9ebeff" stroke="none" stroke-width="1"/>
<rect x="228.71" y="518.66" width="7.16" height="7.54" fill="#7b9ff9" stroke="none" stroke-width="1"/>
<rect x="235.52" y="518.66" width="7.16" height="7.54" fill="#84a7fc" stroke="none" stroke-width="1"/>
<rect x="242.32" y="518.66" width="7.16" height="7.54" fill="#7b9ff9" stroke="none" stroke-width="1"/>
<rect x="249.13" y="518.66" width="7.16" height="7.54" fill="#cfdaea" stroke="none" stroke-width="1"/>
<rect x="255.94" y="518.66" width="7.16" height="7.54" fill="#afcafc" stroke="none" stroke-width="1"/>
<rect x="262.75" y="518.66" width="7.16" height="7.54" fill="#7b9ff9" stroke="none" stroke-width="1"/>
<rect x="269.56" y="518.66" width="7.16" height="7.54" fill="#9ebeff" stroke="none" stroke-width="1"/>
<rect x="276.36" y="518.66" width="7.16" height="7.54" fill="#8db0fe" stroke="none" stroke-width="1"/>
<rect x="283.17" y="518.66" width="7.16" height="7.54" fill="#96b7ff" stroke="none" stroke-width="1"/>
<rect x="289.98" y="518.66" width="7.16" height="7.54" fill="#cfdaea" stroke="none" stroke-width="1"/>
<rect x="296.79" y="518.66" width="7.16" height="7.54" fill="#f5c4ac" stroke="none" stroke-width="1"/>
<rect x="303.6" y="518.66" width="7.16" height="7.54" fill="#c0d4f5" stroke="none" stroke-width="1"/>
<rect x="310.4" y="518.66" width="7.16" height="7.54" fill="#c0d4f5" stroke="none" stroke-width="1"/>
<rect x="317.21" y="518.66" width="7.16" height="7.54" fill="#afcafc" stroke="none" stroke-width="1"/>
<rect x="324.02" y="518.66" width="7.16" height="7.54" fill="#f18f71" stroke="none" stroke-width="1"/>
<rect x="330.83" y="518.66" width="7.16" height="7.54" fill="#f5c4ac" stroke="none" stroke-width="1"/>
<rect x="337.64" y="518.66" width="7.16" height="7.54" fill="#afcafc" stroke="none" stroke-width="1"/>
<rect x="344.44" y="518.66" width="7.16" height="7.54" fill="#ebd3c6" stroke="none" stroke-width="1"/>
<rect x="351.25" y="518.66" width="7.16" height="7.54" fill="#f5c4ac" stroke="none" stroke-width="1"/>
<rect x="358.06" y="518.66" width="7.16" height="7.54" fill="#f5c4ac" stroke="none" stroke-width="1"/>
<rect x="364.87" y="518.66" width="7.16" height="7.54" fill="#e9d5cb" stroke="none" stroke-width="1"/>
<rect x="371.68" y="518.66" width="7.16" height="7.54" fill="#dddcdc" stroke="none" stroke-width="1"/>
<rect x="378.48" y="518.66" width="7.16" height="7.54" fill="#f5c4ac" stroke="none" stroke-width="1"/>
<rect x="385.29" y="518.66" width="7.16" height="7.54" fill="#afcafc" stroke="none" stroke-width="1"/>
<rect x="392.1" y="518.66" width="7.16" height="7.54" fill="#8db0fe" stroke="none" stroke-width="1"/>
<rect x="398.91" y="518.66" width="7.16" height="7.54" fill="#7b9ff9" stroke="none" stroke-width="1"/>
<rect x="405.72" y="518.66" width="7.16" height="7.54" fill="#afcafc" stroke="none" stroke-width="1"/>
<rect x="412.52" y="518.66" width="7.16" height="7.54" fill="#a7c5fe" stroke="none" stroke-width="1"/>
<rect x="419.33" y="518.66" width="7.16" height="7.54" fill="#7295f4" stroke="none" stroke-width="1"/>
<rect x="426.14" y="518.66" width="7.16" height="7.54" fill="#9ebeff" stroke="none" stroke-width="1"/>
<rect x="432.95" y="518.66" width="7.16" height="7.54" fill="#96b7ff" stroke="none" stroke-width="1"/>
<rect x="439.76" y="518.66" width="7.16" height="7.54" fill="#96b7ff" stroke="none" stroke-width="1"/>
<rect x="446.56" y="518.66" width="7.16" height="7.54" fill="#dddcdc" stroke="none" stroke-width="1"/>
<rect x="453.37" y="518.66" width="7.16" height="7.54" fill="#7b9ff9" stroke="none" stroke-width="1"/>
<rect x="460.18" y="518.66" width="7.16" height="7.54" fill="#dddcdc" stroke="none" stroke-width="1"/>
<rect x="466.99" y="518.66" width="7.16" height="7.54" fill="#e3d9d3" stroke="none" stroke-width="1"/>
<rect x="473.8" y="518.66" width="7.16" height="7.54" fill="#96b7ff" stroke="none" stroke-width="1"/>
<rect x="480.6" y="518.66" width="7.16" height="7.54" fill="#7b9ff9" stroke="none" stroke-width="1"/>
<rect x="487.41" y="518.66" width="7.16" height="7.54" fill="#7b9ff9" stroke="none" stroke-width="1"/>
<rect x="494.22" y="518.66" width="7.16" height="7.54" fill="#9ebeff" stroke="none" stroke-width="1"/>
<rect x="501.03" y="518.66" width="7.16" height="7.54" fill="#84a7fc" stroke="none" stroke-width="1"/>
<rect x="507.84" y="518.66" width="7.16" height="7.54" fill="#8db0fe" stroke="none" stroke-width="1"/>
<rect x="514.64" y="518.66" width="7.16" height="7.54" fill="#8db0fe" stroke="none" stroke-width="1"/>
<rect x="521.45" y="518.66" width="7.16" height="7.54" fill="#8db0fe" stroke="none" stroke-width="1"/>
<rect x="528.26" y="518.66" width="7.16" height="7.54" fill="#afcafc" stroke="none" stroke-width="1"/>
<rect x="535.07" y="518.66" width="7.16" height="7.54" fill="#96b7ff" stroke="none" stroke-width="1"/>
<rect x="541.88" y="518.66" width="7.16" height="7.54" fill="#96b7ff" stroke="none" stroke-width="1"/>
<rect x="548.68" y="518.66" width="7.16" height="7.54" fill="#84a7fc" stroke="none" stroke-width="1"/>
<rect x="555.49" y="518.66" width="7.16" height="7.54" fill="#84a7fc" stroke="none" stroke-width="1"/>
<rect x="562.3" y="518.66" width="7.16" height="7.54" fill="#84a7fc" stroke="none" stroke-width="1"/>
<rect x="569.11" y="518.66" width="7.16" height="7.54" fill="#afcafc" stroke="none" stroke-width="1"/>
<rect x="575.92" y="518.66" width="7.16" height="7.54" fill="#7b9ff9" stroke="none" stroke-width="1"/>
<rect x="582.72" y="518.66" width="7.16" height="7.54" fill="#6a8bef" stroke="none" stroke-width="1"/>
<rect x="589.53" y="518.66" width="7.16" height="7.54" fill="#6a8bef" stroke="none" stroke-width="1"/>
<rect x="596.34" y="518.66" width="7.16" height="7.54" fill="#7295f4" stroke="none" stroke-width="1"/>
<rect x="603.15" y="518.66" width="7.16" height="7.54" fill="#84a7fc" stroke="none" stroke-width="1"/>
<rect x="609.96" y="518.66" width="7.16" height="7.54" fill="#7b9ff9" stroke="none" stroke-width="1"/>
<rect x="616.76" y="518.66" width="7.16" height="7.54" fill="#7b9ff9" stroke="none" stroke-width="1"/>
<rect x="623.57" y="518.66" width="7.16" height="7.54" fill="#6a8bef" stroke="none" stroke-width="1"/>
<rect x="630.38" y="518.66" width="7.16" height="7.54" fill="#96b7ff" stroke="none" stroke-width="1"/>
<rect x="637.19" y="518.66" width="7.16" height="7.54" fill="#b9d0f9" stroke="none" stroke-width="1"/>
<rect x="644" y="518.66" width="7.16" height="7.54" fill="#afcafc" stroke="none" stroke-width="1"/>
<rect x="51.7" y="525.85" width="7.16" height="7.54" fill="#6a8bef" stroke="none" stroke-width="1"/>
<rect x="58.51" y="525.85" width="7.16" height="7.54" fill="#7b9ff9" stroke="none" stroke-width="1"/>
<rect x="65.32" y="525.85" width="7.16" height="7.54" fill="#7b9ff9" stroke="none" stroke-width="1"/>
<rect x="72.12" y="525.85" width="7.16" height="7.54" fill="#7b9ff9" stroke="none" stroke-width="1"/>
<rect x="78.93" y="525.85" width="7.16" height="7.54" fill="#8db0fe" stroke="none" stroke-width="1"/>
<rect x="85.74" y="525.85" width="7.16" height="7.54" fill="#96b7ff" stroke="none" stroke-width="1"/>
<rect x="92.55" y="525.85" width="7.16" height="7.54" fill="#96b7ff" stroke="none" stroke-width="1"/>
<rect x="99.36" y="525.85" width="7.16" height="7.54" fill="#96b7ff" stroke="none" stroke-width="1"/>
<rect x="106.16" y="525.85" width="7.16" height="7.54" fill="#96b7ff" stroke="none" stroke-width="1"/>
<rect x="112.97" y="525.85" width="7.16" height="7.54" fill="#b9d0f9" stroke="none" stroke-width="1"/>
<rect x="119.78" y="525.85" width="7.16" height="7.54" fill="#8db0fe" stroke="none" stroke-width="1"/>
<rect x="126.59" y="525.85" width="7.16" height="7.54" fill="#7295f4" stroke="none" stroke-width="1"/>
<rect x="133.4" y="525.85" width="7.16" height="7.54" fill="#cfdaea" stroke="none" stroke-width="1"/>
<rect x="140.2" y="525.85" width="7.16" height="7.54" fill="#96b7ff" stroke="none" stroke-width="1"/>
<rect x="147.01" y="525.85" width="7.16" height="7.54" fill="#f5c4ac" stroke="none" stroke-width="1"/>
<rect x="153.82" y="525.85" width="7.16" height="7.54" fill="#f7b599" stroke="none" stroke-width="1"/>
<rect x="160.63" y="525.85" width="7.16" height="7.54" fill="#dd5f4b" stroke="none" stroke-width="1"/>
<rect x="167.44" y="525.85" width="7.16" height="7.54" fill="#ee8468" stroke="none" stroke-width="1"/>
<rect x="174.24" y="525.85" width="7.16" height="7.54" fill="#f6a385" stroke="none" stroke-width="1"/>
<rect x="181.05" y="525.85" width="7.16" height="7.54" fill="#f6a385" stroke="none" stroke-width="1"/>
<rect x="187.86" y="525.85" width="7.16" height="7.54" fill="#dd5f4b" stroke="none" stroke-width="1"/>
<rect x="194.67" y="525.85" width="7.16" height="7.54" fill="#e9785d" stroke="none" stroke-width="1"/>
<rect x="201.48" y="525.85" width="7.16" height="7.54" fill="#ee8468" stroke="none" stroke-width="1"/>
<rect x="208.28" y="525.85" width="7.16" height="7.54" fill="#ee8468" stroke="none" stroke-width="1"/>
<rect x="215.09" y="525.85" width="7.16" height="7.54" fill="#ee8468" stroke="none" stroke-width="1"/>
<rect x="221.9" y="525.85" width="7.16" height="7.54" fill="#f6a385" stroke="none" stroke-width="1"/>
<rect x="228.71" y="525.85" width="7.16" height="7.54" fill="#dd5f4b" stroke="none" stroke-width="1"/>
<rect x="235.52" y="525.85" width="7.16" height="7.54" fill="#d65244" stroke="none" stroke-width="1"/>
<rect x="242.32" y="525.85" width="7.16" height="7.54" fill="#e36c55" stroke="none" stroke-width="1"/>
<rect x="249.13" y="525.85" width="7.16" height="7.54" fill="#cfdaea" stroke="none" stroke-width="1"/>
<rect x="255.94" y="525.85" width="7.16" height="7.54" fill="#f6bda2" stroke="none" stroke-width="1"/>
<rect x="262.75" y="525.85" width="7.16" height="7.54" fill="#f6bda2" stroke="none" stroke-width="1"/>
<rect x="269.56" y="525.85" width="7.16" height="7.54" fill="#f2cbb7" stroke="none" stroke-width="1"/>
<rect x="276.36" y="525.85" width="7.16" height="7.54" fill="#f59d7e" stroke="none" stroke-width="1"/>
<rect x="283.17" y="525.85" width="7.16" height="7.54" fill="#f7ac8e" stroke="none" stroke-width="1"/>
<rect x="289.98" y="525.85" width="7.16" height="7.54" fill="#dddcdc" stroke="none" stroke-width="1"/>
<rect x="296.79" y="525.85" width="7.16" height="7.54" fill="#a7c5fe" stroke="none" stroke-width="1"/>
<rect x="303.6" y="525.85" width="7.16" height="7.54" fill="#dddcdc" stroke="none" stroke-width="1"/>
<rect x="310.4" y="525.85" width="7.16" height="7.54" fill="#ebd3c6" stroke="none" stroke-width="1"/>
<rect x="317.21" y="525.85" width="7.16" height="7.54" fill="#f6bda2" stroke="none" stroke-width="1"/>
<rect x="324.02" y="525.85" width="7.16" height="7.54" fill="#6282ea" stroke="none" stroke-width="1"/>
<rect x="330.83" y="525.85" width="7.16" height="7.54" fill="#8db0fe" stroke="none" stroke-width="1"/>
<rect x="337.64" y="525.85" width="7.16" height="7.54" fill="#e3d9d3" stroke="none" stroke-width="1"/>
<rect x="344.44" y="525.85" width="7.16" height="7.54" fill="#b9d0f9" stroke="none" stroke-width="1"/>
<rect x="351.25" y="525.85" width="7.16" height="7.54" fill="#c5d6f2" stroke="none" stroke-width="1"/>
<rect x="358.06" y="525.85" width="7.16" height="7.54" fill="#c7d7f0" stroke="none" stroke-width="1"/>
<rect x="364.87" y="525.85" width="7.16" height="7.54" fill="#cfdaea" stroke="none" stroke-width="1"/>
<rect x="371.68" y="525.85" width="7.16" height="7.54" fill="#e3d9d3" stroke="none" stroke-width="1"/>
<rect x="378.48" y="525.85" width="7.16" height="7.54" fill="#b9d0f9" stroke="none" stroke-width="1"/>
<rect x="385.29" y="525.85" width="7.16" height="7.54" fill="#f7ac8e" stroke="none" stroke-width="1"/>
<rect x="392.1" y="525.85" width="7.16" height="7.54" fill="#f6a385" stroke="none" stroke-width="1"/>
<rect x="398.91" y="525.85" width="7.16" height="7.54" fill="#f4987a" stroke="none" stroke-width="1"/>
<rect x="405.72" y="525.85" width="7.16" height="7.54" fill="#f4987a" stroke="none" stroke-width="1"/>
<rect x="412.52" y="525.85" width="7.16" height="7.54" fill="#e36c55" stroke="none" stroke-width="1"/>
<rect x="419.33" y="525.85" width="7.16" height="7.54" fill="#b40426" stroke="none" stroke-width="1"/>
<rect x="426.14" y="525.85" width="7.16" height="7.54" fill="#f7b599" stroke="none" stroke-width="1"/>
<rect x="432.95" y="525.85" width="7.16" height="7.54" fill="#f7ac8e" stroke="none" stroke-width="1"/>
<rect x="439.76" y="525.85" width="7.16" height="7.54" fill="#f5c4ac" stroke="none" stroke-width="1"/>
<rect x="446.56" y="525.85" width="7.16" height="7.54" fill="#c7d7f0" stroke="none" stroke-width="1"/>
<rect x="453.37" y="525.85" width="7.16" height="7.54" fill="#e9785d" stroke="none" stroke-width="1"/>
<rect x="460.18" y="525.85" width="7.16" height="7.54" fill="#c0d4f5" stroke="none" stroke-width="1"/>
<rect x="466.99" y="525.85" width="7.16" height="7.54" fill="#e7d7ce" stroke="none" stroke-width="1"/>
<rect x="473.8" y="525.85" width="7.16" height="7.54" fill="#e9785d" stroke="none" stroke-width="1"/>
<rect x="480.6" y="525.85" width="7.16" height="7.54" fill="#e36c55" stroke="none" stroke-width="1"/>
<rect x="487.41" y="525.85" width="7.16" height="7.54" fill="#e9785d" stroke="none" stroke-width="1"/>
<rect x="494.22" y="525.85" width="7.16" height="7.54" fill="#f6a385" stroke="none" stroke-width="1"/>
<rect x="501.03" y="525.85" width="7.16" height="7.54" fill="#cf453c" stroke="none" stroke-width="1"/>
<rect x="507.84" y="525.85" width="7.16" height="7.54" fill="#cf453c" stroke="none" stroke-width="1"/>
<rect x="514.64" y="525.85" width="7.16" height="7.54" fill="#e36c55" stroke="none" stroke-width="1"/>
<rect x="521.45" y="525.85" width="7.16" height="7.54" fill="#e36c55" stroke="none" stroke-width="1"/>
<rect x="528.26" y="525.85" width="7.16" height="7.54" fill="#f7ac8e" stroke="none" stroke-width="1"/>
<rect x="535.07" y="525.85" width="7.16" height="7.54" fill="#e9785d" stroke="none" stroke-width="1"/>
<rect x="541.88" y="525.85" width="7.16" height="7.54" fill="#f7b599" stroke="none" stroke-width="1"/>
<rect x="548.68" y="525.85" width="7.16" height="7.54" fill="#f7b599" stroke="none" stroke-width="1"/>
<rect x="555.49" y="525.85" width="7.16" height="7.54" fill="#f18f71" stroke="none" stroke-width="1"/>
<rect x="562.3" y="525.85" width="7.16" height="7.54" fill="#f7ac8e" stroke="none" stroke-width="1"/>
<rect x="569.11" y="525.85" width="7.16" height="7.54" fill="#f7ac8e" stroke="none" stroke-width="1"/>
<rect x="575.92" y="525.85" width="7.16" height="7.54" fill="#ee8468" stroke="none" stroke-width="1"/>
<rect x="582.72" y="525.85" width="7.16" height="7.54" fill="#f18f71" stroke="none" stroke-width="1"/>
<rect x="589.53" y="525.85" width="7.16" height="7.54" fill="#f6a385" stroke="none" stroke-width="1"/>
<rect x="596.34" y="525.85" width="7.16" height="7.54" fill="#f18f71" stroke="none" stroke-width="1"/>
<rect x="603.15" y="525.85" width="7.16" height="7.54" fill="#f7ac8e" stroke="none" stroke-width="1"/>
<rect x="609.96" y="525.85" width="7.16" height="7.54" fill="#d65244" stroke="none" stroke-width="1"/>
<rect x="616.76" y="525.85" width="7.16" height="7.54" fill="#dd5f4b" stroke="none" stroke-width="1"/>
<rect x="623.57" y="525.85" width="7.16" height="7.54" fill="#ee8468" stroke="none" stroke-width="1"/>
<rect x="630.38" y="525.85" width="7.16" height="7.54" fill="#f6a385" stroke="none" stroke-width="1"/>
<rect x="637.19" y="525.85" width="7.16" height="7.54" fill="#e9d5cb" stroke="none" stroke-width="1"/>
<rect x="644" y="525.85" width="7.16" height="7.54" fill="#f7ac8e" stroke="none" stroke-width="1"/>
<rect x="51.7" y="533.04" width="7.16" height="7.54" fill="#6a8bef" stroke="none" stroke-width="1"/>
<rect x="58.51" y="533.04" width="7.16" height="7.54" fill="#8db0fe" stroke="none" stroke-width="1"/>
<rect x="65.32" y="533.04" width="7.16" height="7.54" fill="#5977e3" stroke="none" stroke-width="1"/>
<rect x="72.12" y="533.04" width="7.16" height="7.54" fill="#84a7fc" stroke="none" stroke-width="1"/>
<rect x="78.93" y="533.04" width="7.16" height="7.54" fill="#8db0fe" stroke="none" stroke-width="1"/>
<rect x="85.74" y="533.04" width="7.16" height="7.54" fill="#96b7ff" stroke="none" stroke-width="1"/>
<rect x="92.55" y="533.04" width="7.16" height="7.54" fill="#9ebeff" stroke="none" stroke-width="1"/>
<rect x="99.36" y="533.04" width="7.16" height="7.54" fill="#b9d0f9" stroke="none" stroke-width="1"/>
<rect x="106.16" y="533.04" width="7.16" height="7.54" fill="#a7c5fe" stroke="none" stroke-width="1"/>
<rect x="112.97" y="533.04" width="7.16" height="7.54" fill="#9ebeff" stroke="none" stroke-width="1"/>
<rect x="119.78" y="533.04" width="7.16" height="7.54" fill="#7b9ff9" stroke="none" stroke-width="1"/>
<rect x="126.59" y="533.04" width="7.16" height="7.54" fill="#5977e3" stroke="none" stroke-width="1"/>
<rect x="133.4" y="533.04" width="7.16" height="7.54" fill="#cfdaea" stroke="none" stroke-width="1"/>
<rect x="140.2" y="533.04" width="7.16" height="7.54" fill="#a7c5fe" stroke="none" stroke-width="1"/>
<rect x="147.01" y="533.04" width="7.16" height="7.54" fill="#eed0c0" stroke="none" stroke-width="1"/>
<rect x="153.82" y="533.04" width="7.16" height="7.54" fill="#f5c4ac" stroke="none" stroke-width="1"/>
<rect x="160.63" y="533.04" width="7.16" height="7.54" fill="#f18f71" stroke="none" stroke-width="1"/>
<rect x="167.44" y="533.04" width="7.16" height="7.54" fill="#f7b599" stroke="none" stroke-width="1"/>
<rect x="174.24" y="533.04" width="7.16" height="7.54" fill="#f7b599" stroke="none" stroke-width="1"/>
<rect x="181.05" y="533.04" width="7.16" height="7.54" fill="#f7b599" stroke="none" stroke-width="1"/>
<rect x="187.86" y="533.04" width="7.16" height="7.54" fill="#f4987a" stroke="none" stroke-width="1"/>
<rect x="194.67" y="533.04" width="7.16" height="7.54" fill="#f6a385" stroke="none" stroke-width="1"/>
<rect x="201.48" y="533.04" width="7.16" height="7.54" fill="#f7b599" stroke="none" stroke-width="1"/>
<rect x="208.28" y="533.04" width="7.16" height="7.54" fill="#f7b599" stroke="none" stroke-width="1"/>
<rect x="215.09" y="533.04" width="7.16" height="7.54" fill="#f7b599" stroke="none" stroke-width="1"/>
<rect x="221.9" y="533.04" width="7.16" height="7.54" fill="#f6bda2" stroke="none" stroke-width="1"/>
<rect x="228.71" y="533.04" width="7.16" height="7.54" fill="#f18f71" stroke="none" stroke-width="1"/>
<rect x="235.52" y="533.04" width="7.16" height="7.54" fill="#d65244" stroke="none" stroke-width="1"/>
<rect x="242.32" y="533.04" width="7.16" height="7.54" fill="#e9785d" stroke="none" stroke-width="1"/>
<rect x="249.13" y="533.04" width="7.16" height="7.54" fill="#c7d7f0" stroke="none" stroke-width="1"/>
<rect x="255.94" y="533.04" width="7.16" height="7.54" fill="#f6bda2" stroke="none" stroke-width="1"/>
<rect x="262.75" y="533.04" width="7.16" height="7.54" fill="#eed0c0" stroke="none" stroke-width="1"/>
<rect x="269.56" y="533.04" width="7.16" height="7.54" fill="#e3d9d3" stroke="none" stroke-width="1"/>
<rect x="276.36" y="533.04" width="7.16" height="7.54" fill="#f6bda2" stroke="none" stroke-width="1"/>
<rect x="283.17" y="533.04" width="7.16" height="7.54" fill="#f2cbb7" stroke="none" stroke-width="1"/>
<rect x="289.98" y="533.04" width="7.16" height="7.54" fill="#cfdaea" stroke="none" stroke-width="1"/>
<rect x="296.79" y="533.04" width="7.16" height="7.54" fill="#8db0fe" stroke="none" stroke-width="1"/>
<rect x="303.6" y="533.04" width="7.16" height="7.54" fill="#c7d7f0" stroke="none" stroke-width="1"/>
<rect x="310.4" y="533.04" width="7.16" height="7.54" fill="#e3d9d3" stroke="none" stroke-width="1"/>
<rect x="317.21" y="533.04" width="7.16" height="7.54" fill="#f2cbb7" stroke="none" stroke-width="1"/>
<rect x="324.02" y="533.04" width="7.16" height="7.54" fill="#5977e3" stroke="none" stroke-width="1"/>
<rect x="330.83" y="533.04" width="7.16" height="7.54" fill="#7b9ff9" stroke="none" stroke-width="1"/>
<rect x="337.64" y="533.04" width="7.16" height="7.54" fill="#d6dce4" stroke="none" stroke-width="1"/>
<rect x="344.44" y="533.04" width="7.16" height="7.54" fill="#a7c5fe" stroke="none" stroke-width="1"/>
<rect x="351.25" y="533.04" width="7.16" height="7.54" fill="#c0d4f5" stroke="none" stroke-width="1"/>
<rect x="358.06" y="533.04" width="7.16" height="7.54" fill="#c7d7f0" stroke="none" stroke-width="1"/>
<rect x="364.87" y="533.04" width="7.16" height="7.54" fill="#c7d7f0" stroke="none" stroke-width="1"/>
<rect x="371.68" y="533.04" width="7.16" height="7.54" fill="#dddcdc" stroke="none" stroke-width="1"/>
<rect x="378.48" y="533.04" width="7.16" height="7.54" fill="#cfdaea" stroke="none" stroke-width="1"/>
<rect x="385.29" y="533.04" width="7.16" height="7.54" fill="#ee8468" stroke="none" stroke-width="1"/>
<rect x="392.1" y="533.04" width="7.16" height="7.54" fill="#f6a385" stroke="none" stroke-width="1"/>
<rect x="398.91" y="533.04" width="7.16" height="7.54" fill="#f6a385" stroke="none" stroke-width="1"/>
<rect x="405.72" y="533.04" width="7.16" height="7.54" fill="#f6a385" stroke="none" stroke-width="1"/>
<rect x="412.52" y="533.04" width="7.16" height="7.54" fill="#e36c55" stroke="none" stroke-width="1"/>
<rect x="419.33" y="533.04" width="7.16" height="7.54" fill="#d65244" stroke="none" stroke-width="1"/>
<rect x="426.14" y="533.04" width="7.16" height="7.54" fill="#f2cbb7" stroke="none" stroke-width="1"/>
<rect x="432.95" y="533.04" width="7.16" height="7.54" fill="#f7b599" stroke="none" stroke-width="1"/>
<rect x="439.76" y="533.04" width="7.16" height="7.54" fill="#e9d5cb" stroke="none" stroke-width="1"/>
<rect x="446.56" y="533.04" width="7.16" height="7.54" fill="#a7c5fe" stroke="none" stroke-width="1"/>
<rect x="453.37" y="533.04" width="7.16" height="7.54" fill="#ee8468" stroke="none" stroke-width="1"/>
<rect x="460.18" y="533.04" width="7.16" height="7.54" fill="#c0d4f5" stroke="none" stroke-width="1"/>
<rect x="466.99" y="533.04" width="7.16" height="7.54" fill="#eed0c0" stroke="none" stroke-width="1"/>
<rect x="473.8" y="533.04" width="7.16" height="7.54" fill="#f18f71" stroke="none" stroke-width="1"/>
<rect x="480.6" y="533.04" width="7.16" height="7.54" fill="#ee8468" stroke="none" stroke-width="1"/>
<rect x="487.41" y="533.04" width="7.16" height="7.54" fill="#f18f71" stroke="none" stroke-width="1"/>
<rect x="494.22" y="533.04" width="7.16" height="7.54" fill="#f18f71" stroke="none" stroke-width="1"/>
<rect x="501.03" y="533.04" width="7.16" height="7.54" fill="#dd5f4b" stroke="none" stroke-width="1"/>
<rect x="507.84" y="533.04" width="7.16" height="7.54" fill="#c53334" stroke="none" stroke-width="1"/>
<rect x="514.64" y="533.04" width="7.16" height="7.54" fill="#dd5f4b" stroke="none" stroke-width="1"/>
<rect x="521.45" y="533.04" width="7.16" height="7.54" fill="#d65244" stroke="none" stroke-width="1"/>
<rect x="528.26" y="533.04" width="7.16" height="7.54" fill="#ee8468" stroke="none" stroke-width="1"/>
<rect x="535.07" y="533.04" width="7.16" height="7.54" fill="#e9785d" stroke="none" stroke-width="1"/>
<rect x="541.88" y="533.04" width="7.16" height="7.54" fill="#f7b599" stroke="none" stroke-width="1"/>
<rect x="548.68" y="533.04" width="7.16" height="7.54" fill="#f7b599" stroke="none" stroke-width="1"/>
<rect x="555.49" y="533.04" width="7.16" height="7.54" fill="#f4987a" stroke="none" stroke-width="1"/>
<rect x="562.3" y="533.04" width="7.16" height="7.54" fill="#f7b599" stroke="none" stroke-width="1"/>
<rect x="569.11" y="533.04" width="7.16" height="7.54" fill="#f2cbb7" stroke="none" stroke-width="1"/>
<rect x="575.92" y="533.04" width="7.16" height="7.54" fill="#f7b599" stroke="none" stroke-width="1"/>
<rect x="582.72" y="533.04" width="7.16" height="7.54" fill="#f7ac8e" stroke="none" stroke-width="1"/>
<rect x="589.53" y="533.04" width="7.16" height="7.54" fill="#f7ac8e" stroke="none" stroke-width="1"/>
<rect x="596.34" y="533.04" width="7.16" height="7.54" fill="#f6a385" stroke="none" stroke-width="1"/>
<rect x="603.15" y="533.04" width="7.16" height="7.54" fill="#eed0c0" stroke="none" stroke-width="1"/>
<rect x="609.96" y="533.04" width="7.16" height="7.54" fill="#c53334" stroke="none" stroke-width="1"/>
<rect x="616.76" y="533.04" width="7.16" height="7.54" fill="#cf453c" stroke="none" stroke-width="1"/>
<rect x="623.57" y="533.04" width="7.16" height="7.54" fill="#f6a385" stroke="none" stroke-width="1"/>
<rect x="630.38" y="533.04" width="7.16" height="7.54" fill="#f6a385" stroke="none" stroke-width="1"/>
<rect x="637.19" y="533.04" width="7.16" height="7.54" fill="#e3d9d3" stroke="none" stroke-width="1"/>
<rect x="644" y="533.04" width="7.16" height="7.54" fill="#f7ac8e" stroke="none" stroke-width="1"/>
<rect x="51.7" y="540.23" width="7.16" height="7.54" fill="#c7d7f0" stroke="none" stroke-width="1"/>
<rect x="58.51" y="540.23" width="7.16" height="7.54" fill="#d6dce4" stroke="none" stroke-width="1"/>
<rect x="65.32" y="540.23" width="7.16" height="7.54" fill="#c7d7f0" stroke="none" stroke-width="1"/>
<rect x="72.12" y="540.23" width="7.16" height="7.54" fill="#dddcdc" stroke="none" stroke-width="1"/>
<rect x="78.93" y="540.23" width="7.16" height="7.54" fill="#dddcdc" stroke="none" stroke-width="1"/>
<rect x="85.74" y="540.23" width="7.16" height="7.54" fill="#e3d9d3" stroke="none" stroke-width="1"/>
<rect x="92.55" y="540.23" width="7.16" height="7.54" fill="#e3d9d3" stroke="none" stroke-width="1"/>
<rect x="99.36" y="540.23" width="7.16" height="7.54" fill="#d6dce4" stroke="none" stroke-width="1"/>
<rect x="106.16" y="540.23" width="7.16" height="7.54" fill="#e3d9d3" stroke="none" stroke-width="1"/>
<rect x="112.97" y="540.23" width="7.16" height="7.54" fill="#dddcdc" stroke="none" stroke-width="1"/>
<rect x="119.78" y="540.23" width="7.16" height="7.54" fill="#d6dce4" stroke="none" stroke-width="1"/>
<rect x="126.59" y="540.23" width="7.16" height="7.54" fill="#ccd9ed" stroke="none" stroke-width="1"/>
<rect x="133.4" y="540.23" width="7.16" height="7.54" fill="#f7b599" stroke="none" stroke-width="1"/>
<rect x="140.2" y="540.23" width="7.16" height="7.54" fill="#c7d7f0" stroke="none" stroke-width="1"/>
<rect x="147.01" y="540.23" width="7.16" height="7.54" fill="#f2cbb7" stroke="none" stroke-width="1"/>
<rect x="153.82" y="540.23" width="7.16" height="7.54" fill="#e3d9d3" stroke="none" stroke-width="1"/>
<rect x="160.63" y="540.23" width="7.16" height="7.54" fill="#ebd3c6" stroke="none" stroke-width="1"/>
<rect x="167.44" y="540.23" width="7.16" height="7.54" fill="#e9d5cb" stroke="none" stroke-width="1"/>
<rect x="174.24" y="540.23" width="7.16" height="7.54" fill="#e9d5cb" stroke="none" stroke-width="1"/>
<rect x="181.05" y="540.23" width="7.16" height="7.54" fill="#e3d9d3" stroke="none" stroke-width="1"/>
<rect x="187.86" y="540.23" width="7.16" height="7.54" fill="#eed0c0" stroke="none" stroke-width="1"/>
<rect x="194.67" y="540.23" width="7.16" height="7.54" fill="#eed0c0" stroke="none" stroke-width="1"/>
<rect x="201.48" y="540.23" width="7.16" height="7.54" fill="#f2cbb7" stroke="none" stroke-width="1"/>
<rect x="208.28" y="540.23" width="7.16" height="7.54" fill="#f2cbb7" stroke="none" stroke-width="1"/>
<rect x="215.09" y="540.23" width="7.16" height="7.54" fill="#eed0c0" stroke="none" stroke-width="1"/>
<rect x="221.9" y="540.23" width="7.16" height="7.54" fill="#f7b599" stroke="none" stroke-width="1"/>
<rect x="228.71" y="540.23" width="7.16" height="7.54" fill="#f7b599" stroke="none" stroke-width="1"/>
<rect x="235.52" y="540.23" width="7.16" height="7.54" fill="#eed0c0" stroke="none" stroke-width="1"/>
<rect x="242.32" y="540.23" width="7.16" height="7.54" fill="#eed0c0" stroke="none" stroke-width="1"/>
<rect x="249.13" y="540.23" width="7.16" height="7.54" fill="#c0d4f5" stroke="none" stroke-width="1"/>
<rect x="255.94" y="540.23" width="7.16" height="7.54" fill="#f7ac8e" stroke="none" stroke-width="1"/>
<rect x="262.75" y="540.23" width="7.16" height="7.54" fill="#e9d5cb" stroke="none" stroke-width="1"/>
<rect x="269.56" y="540.23" width="7.16" height="7.54" fill="#e9d5cb" stroke="none" stroke-width="1"/>
<rect x="276.36" y="540.23" width="7.16" height="7.54" fill="#f6bda2" stroke="none" stroke-width="1"/>
<rect x="283.17" y="540.23" width="7.16" height="7.54" fill="#eed0c0" stroke="none" stroke-width="1"/>
<rect x="289.98" y="540.23" width="7.16" height="7.54" fill="#f2cbb7" stroke="none" stroke-width="1"/>
<rect x="296.79" y="540.23" width="7.16" height="7.54" fill="#cfdaea" stroke="none" stroke-width="1"/>
<rect x="303.6" y="540.23" width="7.16" height="7.54" fill="#e9d5cb" stroke="none" stroke-width="1"/>
<rect x="310.4" y="540.23" width="7.16" height="7.54" fill="#f7b599" stroke="none" stroke-width="1"/>
<rect x="317.21" y="540.23" width="7.16" height="7.54" fill="#f7ac8e" stroke="none" stroke-width="1"/>
<rect x="324.02" y="540.23" width="7.16" height="7.54" fill="#c0d4f5" stroke="none" stroke-width="1"/>
<rect x="330.83" y="540.23" width="7.16" height="7.54" fill="#a7c5fe" stroke="none" stroke-width="1"/>
<rect x="337.64" y="540.23" width="7.16" height="7.54" fill="#cfdaea" stroke="none" stroke-width="1"/>
<rect x="344.44" y="540.23" width="7.16" height="7.54" fill="#9ebeff" stroke="none" stroke-width="1"/>
<rect x="351.25" y="540.23" width="7.16" height="7.54" fill="#e9d5cb" stroke="none" stroke-width="1"/>
<rect x="358.06" y="540.23" width="7.16" height="7.54" fill="#e3d9d3" stroke="none" stroke-width="1"/>
<rect x="364.87" y="540.23" width="7.16" height="7.54" fill="#f7ac8e" stroke="none" stroke-width="1"/>
<rect x="371.68" y="540.23" width="7.16" height="7.54" fill="#f4987a" stroke="none" stroke-width="1"/>
<rect x="378.48" y="540.23" width="7.16" height="7.54" fill="#c0d4f5" stroke="none" stroke-width="1"/>
<rect x="385.29" y="540.23" width="7.16" height="7.54" fill="#e3d9d3" stroke="none" stroke-width="1"/>
<rect x="392.1" y="540.23" width="7.16" height="7.54" fill="#d6dce4" stroke="none" stroke-width="1"/>
<rect x="398.91" y="540.23" width="7.16" height="7.54" fill="#dddcdc" stroke="none" stroke-width="1"/>
<rect x="405.72" y="540.23" width="7.16" height="7.54" fill="#f6a385" stroke="none" stroke-width="1"/>
<rect x="412.52" y="540.23" width="7.16" height="7.54" fill="#e9785d" stroke="none" stroke-width="1"/>
<rect x="419.33" y="540.23" width="7.16" height="7.54" fill="#f7b599" stroke="none" stroke-width="1"/>
<rect x="426.14" y="540.23" width="7.16" height="7.54" fill="#c7d7f0" stroke="none" stroke-width="1"/>
<rect x="432.95" y="540.23" width="7.16" height="7.54" fill="#cfdaea" stroke="none" stroke-width="1"/>
<rect x="439.76" y="540.23" width="7.16" height="7.54" fill="#c7d7f0" stroke="none" stroke-width="1"/>
<rect x="446.56" y="540.23" width="7.16" height="7.54" fill="#c7d7f0" stroke="none" stroke-width="1"/>
<rect x="453.37" y="540.23" width="7.16" height="7.54" fill="#f5c4ac" stroke="none" stroke-width="1"/>
<rect x="460.18" y="540.23" width="7.16" height="7.54" fill="#9ebeff" stroke="none" stroke-width="1"/>
<rect x="466.99" y="540.23" width="7.16" height="7.54" fill="#dddcdc" stroke="none" stroke-width="1"/>
<rect x="473.8" y="540.23" width="7.16" height="7.54" fill="#f5c4ac" stroke="none" stroke-width="1"/>
<rect x="480.6" y="540.23" width="7.16" height="7.54" fill="#f5c4ac" stroke="none" stroke-width="1"/>
<rect x="487.41" y="540.23" width="7.16" height="7.54" fill="#f2cbb7" stroke="none" stroke-width="1"/>
<rect x="494.22" y="540.23" width="7.16" height="7.54" fill="#e3d9d3" stroke="none" stroke-width="1"/>
<rect x="501.03" y="540.23" width="7.16" height="7.54" fill="#f2cbb7" stroke="none" stroke-width="1"/>
<rect x="507.84" y="540.23" width="7.16" height="7.54" fill="#f2cbb7" stroke="none" stroke-width="1"/>
<rect x="514.64" y="540.23" width="7.16" height="7.54" fill="#eed0c0" stroke="none" stroke-width="1"/>
<rect x="521.45" y="540.23" width="7.16" height="7.54" fill="#eed0c0" stroke="none" stroke-width="1"/>
<rect x="528.26" y="540.23" width="7.16" height="7.54" fill="#e3d9d3" stroke="none" stroke-width="1"/>
<rect x="535.07" y="540.23" width="7.16" height="7.54" fill="#e9d5cb" stroke="none" stroke-width="1"/>
<rect x="541.88" y="540.23" width="7.16" height="7.54" fill="#c7d7f0" stroke="none" stroke-width="1"/>
<rect x="548.68" y="540.23" width="7.16" height="7.54" fill="#cfdaea" stroke="none" stroke-width="1"/>
<rect x="555.49" y="540.23" width="7.16" height="7.54" fill="#d6dce4" stroke="none" stroke-width="1"/>
<rect x="562.3" y="540.23" width="7.16" height="7.54" fill="#c7d7f0" stroke="none" stroke-width="1"/>
<rect x="569.11" y="540.23" width="7.16" height="7.54" fill="#f6a385" stroke="none" stroke-width="1"/>
<rect x="575.92" y="540.23" width="7.16" height="7.54" fill="#f6bda2" stroke="none" stroke-width="1"/>
<rect x="582.72" y="540.23" width="7.16" height="7.54" fill="#dddcdc" stroke="none" stroke-width="1"/>
<rect x="589.53" y="540.23" width="7.16" height="7.54" fill="#dddcdc" stroke="none" stroke-width="1"/>
<rect x="596.34" y="540.23" width="7.16" height="7.54" fill="#e3d9d3" stroke="none" stroke-width="1"/>
<rect x="603.15" y="540.23" width="7.16" height="7.54" fill="#dddcdc" stroke="none" stroke-width="1"/>
<rect x="609.96" y="540.23" width="7.16" height="7.54" fill="#eed0c0" stroke="none" stroke-width="1"/>
<rect x="616.76" y="540.23" width="7.16" height="7.54" fill="#ebd3c6" stroke="none" stroke-width="1"/>
<rect x="623.57" y="540.23" width="7.16" height="7.54" fill="#e3d9d3" stroke="none" stroke-width="1"/>
<rect x="630.38" y="540.23" width="7.16" height="7.54" fill="#dddcdc" stroke="none" stroke-width="1"/>
<rect x="637.19" y="540.23" width="7.16" height="7.54" fill="#9ebeff" stroke="none" stroke-width="1"/>
<rect x="644" y="540.23" width="7.16" height="7.54" fill="#cfdaea" stroke="none" stroke-width="1"/>
<rect x="51.7" y="547.42" width="7.16" height="7.54" fill="#c0d4f5" stroke="none" stroke-width="1"/>
<rect x="58.51" y="547.42" width="7.16" height="7.54" fill="#b9d0f9" stroke="none" stroke-width="1"/>
<rect x="65.32" y="547.42" width="7.16" height="7.54" fill="#d6dce4" stroke="none" stroke-width="1"/>
<rect x="72.12" y="547.42" width="7.16" height="7.54" fill="#b9d0f9" stroke="none" stroke-width="1"/>
<rect x="78.93" y="547.42" width="7.16" height="7.54" fill="#b9d0f9" stroke="none" stroke-width="1"/>
<rect x="85.74" y="547.42" width="7.16" height="7.54" fill="#afcafc" stroke="none" stroke-width="1"/>
<rect x="92.55" y="547.42" width="7.16" height="7.54" fill="#afcafc" stroke="none" stroke-width="1"/>
<rect x="99.36" y="547.42" width="7.16" height="7.54" fill="#9ebeff" stroke="none" stroke-width="1"/>
<rect x="106.16" y="547.42" width="7.16" height="7.54" fill="#afcafc" stroke="none" stroke-width="1"/>
<rect x="112.97" y="547.42" width="7.16" height="7.54" fill="#eed0c0" stroke="none" stroke-width="1"/>
<rect x="119.78" y="547.42" width="7.16" height="7.54" fill="#d6dce4" stroke="none" stroke-width="1"/>
<rect x="126.59" y="547.42" width="7.16" height="7.54" fill="#ccd9ed" stroke="none" stroke-width="1"/>
<rect x="133.4" y="547.42" width="7.16" height="7.54" fill="#c7d7f0" stroke="none" stroke-width="1"/>
<rect x="140.2" y="547.42" width="7.16" height="7.54" fill="#afcafc" stroke="none" stroke-width="1"/>
<rect x="147.01" y="547.42" width="7.16" height="7.54" fill="#f6bda2" stroke="none" stroke-width="1"/>
<rect x="153.82" y="547.42" width="7.16" height="7.54" fill="#f7ac8e" stroke="none" stroke-width="1"/>
<rect x="160.63" y="547.42" width="7.16" height="7.54" fill="#f5c4ac" stroke="none" stroke-width="1"/>
<rect x="167.44" y="547.42" width="7.16" height="7.54" fill="#f6bda2" stroke="none" stroke-width="1"/>
<rect x="174.24" y="547.42" width="7.16" height="7.54" fill="#f6bda2" stroke="none" stroke-width="1"/>
<rect x="181.05" y="547.42" width="7.16" height="7.54" fill="#f7b599" stroke="none" stroke-width="1"/>
<rect x="187.86" y="547.42" width="7.16" height="7.54" fill="#f5c4ac" stroke="none" stroke-width="1"/>
<rect x="194.67" y="547.42" width="7.16" height="7.54" fill="#f5c4ac" stroke="none" stroke-width="1"/>
<rect x="201.48" y="547.42" width="7.16" height="7.54" fill="#f6bda2" stroke="none" stroke-width="1"/>
<rect x="208.28" y="547.42" width="7.16" height="7.54" fill="#f6bda2" stroke="none" stroke-width="1"/>
<rect x="215.09" y="547.42" width="7.16" height="7.54" fill="#f7b599" stroke="none" stroke-width="1"/>
<rect x="221.9" y="547.42" width="7.16" height="7.54" fill="#e9d5cb" stroke="none" stroke-width="1"/>
<rect x="228.71" y="547.42" width="7.16" height="7.54" fill="#e9d5cb" stroke="none" stroke-width="1"/>
<rect x="235.52" y="547.42" width="7.16" height="7.54" fill="#ebd3c6" stroke="none" stroke-width="1"/>
<rect x="242.32" y="547.42" width="7.16" height="7.54" fill="#e9d5cb" stroke="none" stroke-width="1"/>
<rect x="249.13" y="547.42" width="7.16" height="7.54" fill="#eed0c0" stroke="none" stroke-width="1"/>
<rect x="255.94" y="547.42" width="7.16" height="7.54" fill="#dddcdc" stroke="none" stroke-width="1"/>
<rect x="262.75" y="547.42" width="7.16" height="7.54" fill="#f4987a" stroke="none" stroke-width="1"/>
<rect x="269.56" y="547.42" width="7.16" height="7.54" fill="#f4987a" stroke="none" stroke-width="1"/>
<rect x="276.36" y="547.42" width="7.16" height="7.54" fill="#f3c8b2" stroke="none" stroke-width="1"/>
<rect x="283.17" y="547.42" width="7.16" height="7.54" fill="#f6bda2" stroke="none" stroke-width="1"/>
<rect x="289.98" y="547.42" width="7.16" height="7.54" fill="#e9d5cb" stroke="none" stroke-width="1"/>
<rect x="296.79" y="547.42" width="7.16" height="7.54" fill="#dddcdc" stroke="none" stroke-width="1"/>
<rect x="303.6" y="547.42" width="7.16" height="7.54" fill="#f6bda2" stroke="none" stroke-width="1"/>
<rect x="310.4" y="547.42" width="7.16" height="7.54" fill="#e9d5cb" stroke="none" stroke-width="1"/>
<rect x="317.21" y="547.42" width="7.16" height="7.54" fill="#eed0c0" stroke="none" stroke-width="1"/>
<rect x="324.02" y="547.42" width="7.16" height="7.54" fill="#c0d4f5" stroke="none" stroke-width="1"/>
<rect x="330.83" y="547.42" width="7.16" height="7.54" fill="#ebd3c6" stroke="none" stroke-width="1"/>
<rect x="337.64" y="547.42" width="7.16" height="7.54" fill="#dd5f4b" stroke="none" stroke-width="1"/>
<rect x="344.44" y="547.42" width="7.16" height="7.54" fill="#f5c4ac" stroke="none" stroke-width="1"/>
<rect x="351.25" y="547.42" width="7.16" height="7.54" fill="#c0d4f5" stroke="none" stroke-width="1"/>
<rect x="358.06" y="547.42" width="7.16" height="7.54" fill="#c7d7f0" stroke="none" stroke-width="1"/>
<rect x="364.87" y="547.42" width="7.16" height="7.54" fill="#c0d4f5" stroke="none" stroke-width="1"/>
<rect x="371.68" y="547.42" width="7.16" height="7.54" fill="#c0d4f5" stroke="none" stroke-width="1"/>
<rect x="378.48" y="547.42" width="7.16" height="7.54" fill="#a7c5fe" stroke="none" stroke-width="1"/>
<rect x="385.29" y="547.42" width="7.16" height="7.54" fill="#e3d9d3" stroke="none" stroke-width="1"/>
<rect x="392.1" y="547.42" width="7.16" height="7.54" fill="#f2cbb7" stroke="none" stroke-width="1"/>
<rect x="398.91" y="547.42" width="7.16" height="7.54" fill="#f2cbb7" stroke="none" stroke-width="1"/>
<rect x="405.72" y="547.42" width="7.16" height="7.54" fill="#e3d9d3" stroke="none" stroke-width="1"/>
<rect x="412.52" y="547.42" width="7.16" height="7.54" fill="#dddcdc" stroke="none" stroke-width="1"/>
<rect x="419.33" y="547.42" width="7.16" height="7.54" fill="#e9d5cb" stroke="none" stroke-width="1"/>
<rect x="426.14" y="547.42" width="7.16" height="7.54" fill="#f7b599" stroke="none" stroke-width="1"/>
<rect x="432.95" y="547.42" width="7.16" height="7.54" fill="#f7b599" stroke="none" stroke-width="1"/>
<rect x="439.76" y="547.42" width="7.16" height="7.54" fill="#e9785d" stroke="none" stroke-width="1"/>
<rect x="446.56" y="547.42" width="7.16" height="7.54" fill="#f7ac8e" stroke="none" stroke-width="1"/>
<rect x="453.37" y="547.42" width="7.16" height="7.54" fill="#ebd3c6" stroke="none" stroke-width="1"/>
<rect x="460.18" y="547.42" width="7.16" height="7.54" fill="#f7b599" stroke="none" stroke-width="1"/>
<rect x="466.99" y="547.42" width="7.16" height="7.54" fill="#c0d4f5" stroke="none" stroke-width="1"/>
<rect x="473.8" y="547.42" width="7.16" height="7.54" fill="#e3d9d3" stroke="none" stroke-width="1"/>
<rect x="480.6" y="547.42" width="7.16" height="7.54" fill="#e9d5cb" stroke="none" stroke-width="1"/>
<rect x="487.41" y="547.42" width="7.16" height="7.54" fill="#e9d5cb" stroke="none" stroke-width="1"/>
<rect x="494.22" y="547.42" width="7.16" height="7.54" fill="#e9d5cb" stroke="none" stroke-width="1"/>
<rect x="501.03" y="547.42" width="7.16" height="7.54" fill="#e9d5cb" stroke="none" stroke-width="1"/>
<rect x="507.84" y="547.42" width="7.16" height="7.54" fill="#e9d5cb" stroke="none" stroke-width="1"/>
<rect x="514.64" y="547.42" width="7.16" height="7.54" fill="#e7d7ce" stroke="none" stroke-width="1"/>
<rect x="521.45" y="547.42" width="7.16" height="7.54" fill="#e7d7ce" stroke="none" stroke-width="1"/>
<rect x="528.26" y="547.42" width="7.16" height="7.54" fill="#e3d9d3" stroke="none" stroke-width="1"/>
<rect x="535.07" y="547.42" width="7.16" height="7.54" fill="#e7d7ce" stroke="none" stroke-width="1"/>
<rect x="541.88" y="547.42" width="7.16" height="7.54" fill="#f5c4ac" stroke="none" stroke-width="1"/>
<rect x="548.68" y="547.42" width="7.16" height="7.54" fill="#f5c4ac" stroke="none" stroke-width="1"/>
<rect x="555.49" y="547.42" width="7.16" height="7.54" fill="#f5c4ac" stroke="none" stroke-width="1"/>
<rect x="562.3" y="547.42" width="7.16" height="7.54" fill="#f7b599" stroke="none" stroke-width="1"/>
<rect x="569.11" y="547.42" width="7.16" height="7.54" fill="#e3d9d3" stroke="none" stroke-width="1"/>
<rect x="575.92" y="547.42" width="7.16" height="7.54" fill="#f2cbb7" stroke="none" stroke-width="1"/>
<rect x="582.72" y="547.42" width="7.16" height="7.54" fill="#f6bda2" stroke="none" stroke-width="1"/>
<rect x="589.53" y="547.42" width="7.16" height="7.54" fill="#f6bda2" stroke="none" stroke-width="1"/>
<rect x="596.34" y="547.42" width="7.16" height="7.54" fill="#f6bda2" stroke="none" stroke-width="1"/>
<rect x="603.15" y="547.42" width="7.16" height="7.54" fill="#f4987a" stroke="none" stroke-width="1"/>
<rect x="609.96" y="547.42" width="7.16" height="7.54" fill="#e9d5cb" stroke="none" stroke-width="1"/>
<rect x="616.76" y="547.42" width="7.16" height="7.54" fill="#e9d5cb" stroke="none" stroke-width="1"/>
<rect x="623.57" y="547.42" width="7.16" height="7.54" fill="#f6bda2" stroke="none" stroke-width="1"/>
<rect x="630.38" y="547.42" width="7.16" height="7.54" fill="#f6bda2" stroke="none" stroke-width="1"/>
<rect x="637.19" y="547.42" width="7.16" height="7.54" fill="#ee8468" stroke="none" stroke-width="1"/>
<rect x="644" y="547.42" width="7.16" height="7.54" fill="#f5c4ac" stroke="none" stroke-width="1"/>
<rect x="51.7" y="554.61" width="7.16" height="7.54" fill="#c0d4f5" stroke="none" stroke-width="1"/>
<rect x="58.51" y="554.61" width="7.16" height="7.54" fill="#c0d4f5" stroke="none" stroke-width="1"/>
<rect x="65.32" y="554.61" width="7.16" height="7.54" fill="#d6dce4" stroke="none" stroke-width="1"/>
<rect x="72.12" y="554.61" width="7.16" height="7.54" fill="#c0d4f5" stroke="none" stroke-width="1"/>
<rect x="78.93" y="554.61" width="7.16" height="7.54" fill="#c0d4f5" stroke="none" stroke-width="1"/>
<rect x="85.74" y="554.61" width="7.16" height="7.54" fill="#c0d4f5" stroke="none" stroke-width="1"/>
<rect x="92.55" y="554.61" width="7.16" height="7.54" fill="#c0d4f5" stroke="none" stroke-width="1"/>
<rect x="99.36" y="554.61" width="7.16" height="7.54" fill="#c0d4f5" stroke="none" stroke-width="1"/>
<rect x="106.16" y="554.61" width="7.16" height="7.54" fill="#c0d4f5" stroke="none" stroke-width="1"/>
<rect x="112.97" y="554.61" width="7.16" height="7.54" fill="#eed0c0" stroke="none" stroke-width="1"/>
<rect x="119.78" y="554.61" width="7.16" height="7.54" fill="#d6dce4" stroke="none" stroke-width="1"/>
<rect x="126.59" y="554.61" width="7.16" height="7.54" fill="#c7d7f0" stroke="none" stroke-width="1"/>
<rect x="133.4" y="554.61" width="7.16" height="7.54" fill="#d6dce4" stroke="none" stroke-width="1"/>
<rect x="140.2" y="554.61" width="7.16" height="7.54" fill="#c0d4f5" stroke="none" stroke-width="1"/>
<rect x="147.01" y="554.61" width="7.16" height="7.54" fill="#f5c4ac" stroke="none" stroke-width="1"/>
<rect x="153.82" y="554.61" width="7.16" height="7.54" fill="#f5c4ac" stroke="none" stroke-width="1"/>
<rect x="160.63" y="554.61" width="7.16" height="7.54" fill="#eed0c0" stroke="none" stroke-width="1"/>
<rect x="167.44" y="554.61" width="7.16" height="7.54" fill="#eed0c0" stroke="none" stroke-width="1"/>
<rect x="174.24" y="554.61" width="7.16" height="7.54" fill="#eed0c0" stroke="none" stroke-width="1"/>
<rect x="181.05" y="554.61" width="7.16" height="7.54" fill="#f2cbb7" stroke="none" stroke-width="1"/>
<rect x="187.86" y="554.61" width="7.16" height="7.54" fill="#ebd3c6" stroke="none" stroke-width="1"/>
<rect x="194.67" y="554.61" width="7.16" height="7.54" fill="#ebd3c6" stroke="none" stroke-width="1"/>
<rect x="201.48" y="554.61" width="7.16" height="7.54" fill="#f2cbb7" stroke="none" stroke-width="1"/>
<rect x="208.28" y="554.61" width="7.16" height="7.54" fill="#f2cbb7" stroke="none" stroke-width="1"/>
<rect x="215.09" y="554.61" width="7.16" height="7.54" fill="#f5c4ac" stroke="none" stroke-width="1"/>
<rect x="221.9" y="554.61" width="7.16" height="7.54" fill="#cfdaea" stroke="none" stroke-width="1"/>
<rect x="228.71" y="554.61" width="7.16" height="7.54" fill="#d6dce4" stroke="none" stroke-width="1"/>
<rect x="235.52" y="554.61" width="7.16" height="7.54" fill="#e3d9d3" stroke="none" stroke-width="1"/>
<rect x="242.32" y="554.61" width="7.16" height="7.54" fill="#d6dce4" stroke="none" stroke-width="1"/>
<rect x="249.13" y="554.61" width="7.16" height="7.54" fill="#eed0c0" stroke="none" stroke-width="1"/>
<rect x="255.94" y="554.61" width="7.16" height="7.54" fill="#f5c4ac" stroke="none" stroke-width="1"/>
<rect x="262.75" y="554.61" width="7.16" height="7.54" fill="#f7ac8e" stroke="none" stroke-width="1"/>
<rect x="269.56" y="554.61" width="7.16" height="7.54" fill="#f7ac8e" stroke="none" stroke-width="1"/>
<rect x="276.36" y="554.61" width="7.16" height="7.54" fill="#f2cbb7" stroke="none" stroke-width="1"/>
<rect x="283.17" y="554.61" width="7.16" height="7.54" fill="#f6bda2" stroke="none" stroke-width="1"/>
<rect x="289.98" y="554.61" width="7.16" height="7.54" fill="#e9d5cb" stroke="none" stroke-width="1"/>
<rect x="296.79" y="554.61" width="7.16" height="7.54" fill="#e9d5cb" stroke="none" stroke-width="1"/>
<rect x="303.6" y="554.61" width="7.16" height="7.54" fill="#f6bda2" stroke="none" stroke-width="1"/>
<rect x="310.4" y="554.61" width="7.16" height="7.54" fill="#e9d5cb" stroke="none" stroke-width="1"/>
<rect x="317.21" y="554.61" width="7.16" height="7.54" fill="#e3d9d3" stroke="none" stroke-width="1"/>
<rect x="324.02" y="554.61" width="7.16" height="7.54" fill="#c7d7f0" stroke="none" stroke-width="1"/>
<rect x="330.83" y="554.61" width="7.16" height="7.54" fill="#e3d9d3" stroke="none" stroke-width="1"/>
<rect x="337.64" y="554.61" width="7.16" height="7.54" fill="#f6a385" stroke="none" stroke-width="1"/>
<rect x="344.44" y="554.61" width="7.16" height="7.54" fill="#e3d9d3" stroke="none" stroke-width="1"/>
<rect x="351.25" y="554.61" width="7.16" height="7.54" fill="#c0d4f5" stroke="none" stroke-width="1"/>
<rect x="358.06" y="554.61" width="7.16" height="7.54" fill="#c0d4f5" stroke="none" stroke-width="1"/>
<rect x="364.87" y="554.61" width="7.16" height="7.54" fill="#c0d4f5" stroke="none" stroke-width="1"/>
<rect x="371.68" y="554.61" width="7.16" height="7.54" fill="#c0d4f5" stroke="none" stroke-width="1"/>
<rect x="378.48" y="554.61" width="7.16" height="7.54" fill="#a7c5fe" stroke="none" stroke-width="1"/>
<rect x="385.29" y="554.61" width="7.16" height="7.54" fill="#e3d9d3" stroke="none" stroke-width="1"/>
<rect x="392.1" y="554.61" width="7.16" height="7.54" fill="#eed0c0" stroke="none" stroke-width="1"/>
<rect x="398.91" y="554.61" width="7.16" height="7.54" fill="#f2cbb7" stroke="none" stroke-width="1"/>
<rect x="405.72" y="554.61" width="7.16" height="7.54" fill="#d6dce4" stroke="none" stroke-width="1"/>
<rect x="412.52" y="554.61" width="7.16" height="7.54" fill="#dddcdc" stroke="none" stroke-width="1"/>
<rect x="419.33" y="554.61" width="7.16" height="7.54" fill="#e3d9d3" stroke="none" stroke-width="1"/>
<rect x="426.14" y="554.61" width="7.16" height="7.54" fill="#f2cbb7" stroke="none" stroke-width="1"/>
<rect x="432.95" y="554.61" width="7.16" height="7.54" fill="#f5c4ac" stroke="none" stroke-width="1"/>
<rect x="439.76" y="554.61" width="7.16" height="7.54" fill="#dd5f4b" stroke="none" stroke-width="1"/>
<rect x="446.56" y="554.61" width="7.16" height="7.54" fill="#f7b599" stroke="none" stroke-width="1"/>
<rect x="453.37" y="554.61" width="7.16" height="7.54" fill="#e9d5cb" stroke="none" stroke-width="1"/>
<rect x="460.18" y="554.61" width="7.16" height="7.54" fill="#f4987a" stroke="none" stroke-width="1"/>
<rect x="466.99" y="554.61" width="7.16" height="7.54" fill="#afcafc" stroke="none" stroke-width="1"/>
<rect x="473.8" y="554.61" width="7.16" height="7.54" fill="#dddcdc" stroke="none" stroke-width="1"/>
<rect x="480.6" y="554.61" width="7.16" height="7.54" fill="#e3d9d3" stroke="none" stroke-width="1"/>
<rect x="487.41" y="554.61" width="7.16" height="7.54" fill="#e3d9d3" stroke="none" stroke-width="1"/>
<rect x="494.22" y="554.61" width="7.16" height="7.54" fill="#e7d7ce" stroke="none" stroke-width="1"/>
<rect x="501.03" y="554.61" width="7.16" height="7.54" fill="#e3d9d3" stroke="none" stroke-width="1"/>
<rect x="507.84" y="554.61" width="7.16" height="7.54" fill="#e3d9d3" stroke="none" stroke-width="1"/>
<rect x="514.64" y="554.61" width="7.16" height="7.54" fill="#e7d7ce" stroke="none" stroke-width="1"/>
<rect x="521.45" y="554.61" width="7.16" height="7.54" fill="#e3d9d3" stroke="none" stroke-width="1"/>
<rect x="528.26" y="554.61" width="7.16" height="7.54" fill="#dddcdc" stroke="none" stroke-width="1"/>
<rect x="535.07" y="554.61" width="7.16" height="7.54" fill="#e3d9d3" stroke="none" stroke-width="1"/>
<rect x="541.88" y="554.61" width="7.16" height="7.54" fill="#f5c4ac" stroke="none" stroke-width="1"/>
<rect x="548.68" y="554.61" width="7.16" height="7.54" fill="#f5c4ac" stroke="none" stroke-width="1"/>
<rect x="555.49" y="554.61" width="7.16" height="7.54" fill="#f5c4ac" stroke="none" stroke-width="1"/>
<rect x="562.3" y="554.61" width="7.16" height="7.54" fill="#f6bda2" stroke="none" stroke-width="1"/>
<rect x="569.11" y="554.61" width="7.16" height="7.54" fill="#e3d9d3" stroke="none" stroke-width="1"/>
<rect x="575.92" y="554.61" width="7.16" height="7.54" fill="#e9d5cb" stroke="none" stroke-width="1"/>
<rect x="582.72" y="554.61" width="7.16" height="7.54" fill="#f5c4ac" stroke="none" stroke-width="1"/>
<rect x="589.53" y="554.61" width="7.16" height="7.54" fill="#f5c4ac" stroke="none" stroke-width="1"/>
<rect x="596.34" y="554.61" width="7.16" height="7.54" fill="#f5c4ac" stroke="none" stroke-width="1"/>
<rect x="603.15" y="554.61" width="7.16" height="7.54" fill="#f6bda2" stroke="none" stroke-width="1"/>
<rect x="609.96" y="554.61" width="7.16" height="7.54" fill="#e9d5cb" stroke="none" stroke-width="1"/>
<rect x="616.76" y="554.61" width="7.16" height="7.54" fill="#e9d5cb" stroke="none" stroke-width="1"/>
<rect x="623.57" y="554.61" width="7.16" height="7.54" fill="#f5c4ac" stroke="none" stroke-width="1"/>
<rect x="630.38" y="554.61" width="7.16" height="7.54" fill="#f5c4ac" stroke="none" stroke-width="1"/>
<rect x="637.19" y="554.61" width="7.16" height="7.54" fill="#f4987a" stroke="none" stroke-width="1"/>
<rect x="644" y="554.61" width="7.16" height="7.54" fill="#eed0c0" stroke="none" stroke-width="1"/>
<circle cx="156.77" cy="500.69" r="1.25" fill="#1a1a1a"/>
<circle cx="163.58" cy="500.69" r="1.25" fill="#1a1a1a"/>
<circle cx="170.39" cy="500.69" r="1.25" fill="#1a1a1a"/>
<circle cx="177.2" cy="500.69" r="1.25" fill="#1a1a1a"/>
<circle cx="184.01" cy="500.69" r="1.25" fill="#1a1a1a"/>
<circle cx="190.81" cy="500.69" r="1.25" fill="#1a1a1a"/>
<circle cx="197.62" cy="500.69" r="1.25" fill="#1a1a1a"/>
<circle cx="204.43" cy="500.69" r="1.25" fill="#1a1a1a"/>
<circle cx="211.24" cy="500.69" r="1.25" fill="#1a1a1a"/>
<circle cx="218.05" cy="500.69" r="1.25" fill="#1a1a1a"/>
<circle cx="231.66" cy="500.69" r="1.25" fill="#1a1a1a"/>
<circle cx="238.47" cy="500.69" r="1.25" fill="#1a1a1a"/>
<circle cx="265.7" cy="500.69" r="1.25" fill="#1a1a1a"/>
<circle cx="279.32" cy="500.69" r="1.25" fill="#1a1a1a"/>
<circle cx="286.13" cy="500.69" r="1.25" fill="#1a1a1a"/>
<circle cx="415.48" cy="500.69" r="1.25" fill="#1a1a1a"/>
<circle cx="422.29" cy="500.69" r="1.25" fill="#1a1a1a"/>
<circle cx="490.37" cy="500.69" r="1.25" fill="#1a1a1a"/>
<circle cx="503.98" cy="500.69" r="1.25" fill="#1a1a1a"/>
<circle cx="510.79" cy="500.69" r="1.25" fill="#1a1a1a"/>
<circle cx="572.06" cy="500.69" r="1.25" fill="#1a1a1a"/>
<circle cx="578.87" cy="500.69" r="1.25" fill="#1a1a1a"/>
<circle cx="585.68" cy="500.69" r="1.25" fill="#1a1a1a"/>
<circle cx="599.29" cy="500.69" r="1.25" fill="#1a1a1a"/>
<circle cx="612.91" cy="500.69" r="1.25" fill="#1a1a1a"/>
<circle cx="163.58" cy="507.88" r="1.25" fill="#1a1a1a"/>
<circle cx="170.39" cy="507.88" r="1.25" fill="#1a1a1a"/>
<circle cx="177.2" cy="507.88" r="1.25" fill="#1a1a1a"/>
<circle cx="184.01" cy="507.88" r="1.25" fill="#1a1a1a"/>
<circle cx="190.81" cy="507.88" r="1.25" fill="#1a1a1a"/>
<circle cx="197.62" cy="507.88" r="1.25" fill="#1a1a1a"/>
<circle cx="204.43" cy="507.88" r="1.25" fill="#1a1a1a"/>
<circle cx="211.24" cy="507.88" r="1.25" fill="#1a1a1a"/>
<circle cx="218.05" cy="507.88" r="1.25" fill="#1a1a1a"/>
<circle cx="265.7" cy="507.88" r="1.25" fill="#1a1a1a"/>
<circle cx="279.32" cy="507.88" r="1.25" fill="#1a1a1a"/>
<circle cx="422.29" cy="507.88" r="1.25" fill="#1a1a1a"/>
<circle cx="456.33" cy="507.88" r="1.25" fill="#1a1a1a"/>
<circle cx="483.56" cy="507.88" r="1.25" fill="#1a1a1a"/>
<circle cx="490.37" cy="507.88" r="1.25" fill="#1a1a1a"/>
<circle cx="503.98" cy="507.88" r="1.25" fill="#1a1a1a"/>
<circle cx="578.87" cy="507.88" r="1.25" fill="#1a1a1a"/>
<circle cx="585.68" cy="507.88" r="1.25" fill="#1a1a1a"/>
<circle cx="592.49" cy="507.88" r="1.25" fill="#1a1a1a"/>
<circle cx="599.29" cy="507.88" r="1.25" fill="#1a1a1a"/>
<circle cx="54.65" cy="515.06" r="1.25" fill="#1a1a1a"/>
<circle cx="61.46" cy="515.06" r="1.25" fill="#1a1a1a"/>
<circle cx="129.54" cy="515.06" r="1.25" fill="#1a1a1a"/>
<circle cx="163.58" cy="515.06" r="1.25" fill="#1a1a1a"/>
<circle cx="170.39" cy="515.06" r="1.25" fill="#1a1a1a"/>
<circle cx="177.2" cy="515.06" r="1.25" fill="#1a1a1a"/>
<circle cx="190.81" cy="515.06" r="1.25" fill="#1a1a1a"/>
<circle cx="197.62" cy="515.06" r="1.25" fill="#1a1a1a"/>
<circle cx="204.43" cy="515.06" r="1.25" fill="#1a1a1a"/>
<circle cx="211.24" cy="515.06" r="1.25" fill="#1a1a1a"/>
<circle cx="218.05" cy="515.06" r="1.25" fill="#1a1a1a"/>
<circle cx="231.66" cy="515.06" r="1.25" fill="#1a1a1a"/>
<circle cx="238.47" cy="515.06" r="1.25" fill="#1a1a1a"/>
<circle cx="245.28" cy="515.06" r="1.25" fill="#1a1a1a"/>
<circle cx="326.97" cy="515.06" r="1.25" fill="#1a1a1a"/>
<circle cx="415.48" cy="515.06" r="1.25" fill="#1a1a1a"/>
<circle cx="422.29" cy="515.06" r="1.25" fill="#1a1a1a"/>
<circle cx="456.33" cy="515.06" r="1.25" fill="#1a1a1a"/>
<circle cx="476.75" cy="515.06" r="1.25" fill="#1a1a1a"/>
<circle cx="483.56" cy="515.06" r="1.25" fill="#1a1a1a"/>
<circle cx="490.37" cy="515.06" r="1.25" fill="#1a1a1a"/>
<circle cx="503.98" cy="515.06" r="1.25" fill="#1a1a1a"/>
<circle cx="510.79" cy="515.06" r="1.25" fill="#1a1a1a"/>
<circle cx="578.87" cy="515.06" r="1.25" fill="#1a1a1a"/>
<circle cx="585.68" cy="515.06" r="1.25" fill="#1a1a1a"/>
<circle cx="592.49" cy="515.06" r="1.25" fill="#1a1a1a"/>
<circle cx="599.29" cy="515.06" r="1.25" fill="#1a1a1a"/>
<circle cx="612.91" cy="515.06" r="1.25" fill="#1a1a1a"/>
<circle cx="619.72" cy="515.06" r="1.25" fill="#1a1a1a"/>
<circle cx="626.53" cy="515.06" r="1.25" fill="#1a1a1a"/>
<circle cx="54.65" cy="522.25" r="1.25" fill="#1a1a1a"/>
<circle cx="61.46" cy="522.25" r="1.25" fill="#1a1a1a"/>
<circle cx="75.08" cy="522.25" r="1.25" fill="#1a1a1a"/>
<circle cx="102.31" cy="522.25" r="1.25" fill="#1a1a1a"/>
<circle cx="129.54" cy="522.25" r="1.25" fill="#1a1a1a"/>
<circle cx="156.77" cy="522.25" r="1.25" fill="#1a1a1a"/>
<circle cx="163.58" cy="522.25" r="1.25" fill="#1a1a1a"/>
<circle cx="170.39" cy="522.25" r="1.25" fill="#1a1a1a"/>
<circle cx="177.2" cy="522.25" r="1.25" fill="#1a1a1a"/>
<circle cx="184.01" cy="522.25" r="1.25" fill="#1a1a1a"/>
<circle cx="190.81" cy="522.25" r="1.25" fill="#1a1a1a"/>
<circle cx="197.62" cy="522.25" r="1.25" fill="#1a1a1a"/>
<circle cx="204.43" cy="522.25" r="1.25" fill="#1a1a1a"/>
<circle cx="211.24" cy="522.25" r="1.25" fill="#1a1a1a"/>
<circle cx="218.05" cy="522.25" r="1.25" fill="#1a1a1a"/>
<circle cx="231.66" cy="522.25" r="1.25" fill="#1a1a1a"/>
<circle cx="238.47" cy="522.25" r="1.25" fill="#1a1a1a"/>
<circle cx="245.28" cy="522.25" r="1.25" fill="#1a1a1a"/>
<circle cx="265.7" cy="522.25" r="1.25" fill="#1a1a1a"/>
<circle cx="326.97" cy="522.25" r="1.25" fill="#1a1a1a"/>
<circle cx="401.86" cy="522.25" r="1.25" fill="#1a1a1a"/>
<circle cx="422.29" cy="522.25" r="1.25" fill="#1a1a1a"/>
<circle cx="456.33" cy="522.25" r="1.25" fill="#1a1a1a"/>
<circle cx="483.56" cy="522.25" r="1.25" fill="#1a1a1a"/>
<circle cx="490.37" cy="522.25" r="1.25" fill="#1a1a1a"/>
<circle cx="503.98" cy="522.25" r="1.25" fill="#1a1a1a"/>
<circle cx="551.64" cy="522.25" r="1.25" fill="#1a1a1a"/>
<circle cx="558.45" cy="522.25" r="1.25" fill="#1a1a1a"/>
<circle cx="565.25" cy="522.25" r="1.25" fill="#1a1a1a"/>
<circle cx="578.87" cy="522.25" r="1.25" fill="#1a1a1a"/>
<circle cx="585.68" cy="522.25" r="1.25" fill="#1a1a1a"/>
<circle cx="592.49" cy="522.25" r="1.25" fill="#1a1a1a"/>
<circle cx="599.29" cy="522.25" r="1.25" fill="#1a1a1a"/>
<circle cx="606.1" cy="522.25" r="1.25" fill="#1a1a1a"/>
<circle cx="612.91" cy="522.25" r="1.25" fill="#1a1a1a"/>
<circle cx="619.72" cy="522.25" r="1.25" fill="#1a1a1a"/>
<circle cx="626.53" cy="522.25" r="1.25" fill="#1a1a1a"/>
<circle cx="54.65" cy="529.44" r="1.25" fill="#1a1a1a"/>
<circle cx="61.46" cy="529.44" r="1.25" fill="#1a1a1a"/>
<circle cx="68.27" cy="529.44" r="1.25" fill="#1a1a1a"/>
<circle cx="75.08" cy="529.44" r="1.25" fill="#1a1a1a"/>
<circle cx="129.54" cy="529.44" r="1.25" fill="#1a1a1a"/>
<circle cx="163.58" cy="529.44" r="1.25" fill="#1a1a1a"/>
<circle cx="170.39" cy="529.44" r="1.25" fill="#1a1a1a"/>
<circle cx="190.81" cy="529.44" r="1.25" fill="#1a1a1a"/>
<circle cx="197.62" cy="529.44" r="1.25" fill="#1a1a1a"/>
<circle cx="204.43" cy="529.44" r="1.25" fill="#1a1a1a"/>
<circle cx="211.24" cy="529.44" r="1.25" fill="#1a1a1a"/>
<circle cx="218.05" cy="529.44" r="1.25" fill="#1a1a1a"/>
<circle cx="231.66" cy="529.44" r="1.25" fill="#1a1a1a"/>
<circle cx="238.47" cy="529.44" r="1.25" fill="#1a1a1a"/>
<circle cx="245.28" cy="529.44" r="1.25" fill="#1a1a1a"/>
<circle cx="326.97" cy="529.44" r="1.25" fill="#1a1a1a"/>
<circle cx="415.48" cy="529.44" r="1.25" fill="#1a1a1a"/>
<circle cx="422.29" cy="529.44" r="1.25" fill="#1a1a1a"/>
<circle cx="456.33" cy="529.44" r="1.25" fill="#1a1a1a"/>
<circle cx="476.75" cy="529.44" r="1.25" fill="#1a1a1a"/>
<circle cx="483.56" cy="529.44" r="1.25" fill="#1a1a1a"/>
<circle cx="490.37" cy="529.44" r="1.25" fill="#1a1a1a"/>
<circle cx="503.98" cy="529.44" r="1.25" fill="#1a1a1a"/>
<circle cx="510.79" cy="529.44" r="1.25" fill="#1a1a1a"/>
<circle cx="517.6" cy="529.44" r="1.25" fill="#1a1a1a"/>
<circle cx="524.41" cy="529.44" r="1.25" fill="#1a1a1a"/>
<circle cx="538.02" cy="529.44" r="1.25" fill="#1a1a1a"/>
<circle cx="558.45" cy="529.44" r="1.25" fill="#1a1a1a"/>
<circle cx="578.87" cy="529.44" r="1.25" fill="#1a1a1a"/>
<circle cx="585.68" cy="529.44" r="1.25" fill="#1a1a1a"/>
<circle cx="599.29" cy="529.44" r="1.25" fill="#1a1a1a"/>
<circle cx="612.91" cy="529.44" r="1.25" fill="#1a1a1a"/>
<circle cx="619.72" cy="529.44" r="1.25" fill="#1a1a1a"/>
<circle cx="626.53" cy="529.44" r="1.25" fill="#1a1a1a"/>
<circle cx="54.65" cy="536.63" r="1.25" fill="#1a1a1a"/>
<circle cx="68.27" cy="536.63" r="1.25" fill="#1a1a1a"/>
<circle cx="75.08" cy="536.63" r="1.25" fill="#1a1a1a"/>
<circle cx="122.73" cy="536.63" r="1.25" fill="#1a1a1a"/>
<circle cx="129.54" cy="536.63" r="1.25" fill="#1a1a1a"/>
<circle cx="163.58" cy="536.63" r="1.25" fill="#1a1a1a"/>
<circle cx="190.81" cy="536.63" r="1.25" fill="#1a1a1a"/>
<circle cx="197.62" cy="536.63" r="1.25" fill="#1a1a1a"/>
<circle cx="231.66" cy="536.63" r="1.25" fill="#1a1a1a"/>
<circle cx="238.47" cy="536.63" r="1.25" fill="#1a1a1a"/>
<circle cx="245.28" cy="536.63" r="1.25" fill="#1a1a1a"/>
<circle cx="326.97" cy="536.63" r="1.25" fill="#1a1a1a"/>
<circle cx="333.78" cy="536.63" r="1.25" fill="#1a1a1a"/>
<circle cx="388.25" cy="536.63" r="1.25" fill="#1a1a1a"/>
<circle cx="415.48" cy="536.63" r="1.25" fill="#1a1a1a"/>
<circle cx="422.29" cy="536.63" r="1.25" fill="#1a1a1a"/>
<circle cx="456.33" cy="536.63" r="1.25" fill="#1a1a1a"/>
<circle cx="476.75" cy="536.63" r="1.25" fill="#1a1a1a"/>
<circle cx="483.56" cy="536.63" r="1.25" fill="#1a1a1a"/>
<circle cx="490.37" cy="536.63" r="1.25" fill="#1a1a1a"/>
<circle cx="497.17" cy="536.63" r="1.25" fill="#1a1a1a"/>
<circle cx="503.98" cy="536.63" r="1.25" fill="#1a1a1a"/>
<circle cx="510.79" cy="536.63" r="1.25" fill="#1a1a1a"/>
<circle cx="517.6" cy="536.63" r="1.25" fill="#1a1a1a"/>
<circle cx="524.41" cy="536.63" r="1.25" fill="#1a1a1a"/>
<circle cx="531.21" cy="536.63" r="1.25" fill="#1a1a1a"/>
<circle cx="538.02" cy="536.63" r="1.25" fill="#1a1a1a"/>
<circle cx="558.45" cy="536.63" r="1.25" fill="#1a1a1a"/>
<circle cx="612.91" cy="536.63" r="1.25" fill="#1a1a1a"/>
<circle cx="619.72" cy="536.63" r="1.25" fill="#1a1a1a"/>
<circle cx="415.48" cy="543.82" r="1.25" fill="#1a1a1a"/>
<circle cx="272.51" cy="551.01" r="1.25" fill="#1a1a1a"/>
<circle cx="340.59" cy="551.01" r="1.25" fill="#1a1a1a"/>
<circle cx="442.71" cy="551.01" r="1.25" fill="#1a1a1a"/>
<circle cx="606.1" cy="551.01" r="1.25" fill="#1a1a1a"/>
<circle cx="640.14" cy="551.01" r="1.25" fill="#1a1a1a"/>
<circle cx="442.71" cy="558.2" r="1.25" fill="#1a1a1a"/>
<circle cx="463.13" cy="558.2" r="1.25" fill="#1a1a1a"/>
<text x="4.7" y="480" font-size="10" fill="#222">(f)</text>
<text x="352.3" y="482.4" font-size="10.2" text-anchor="middle" fill="#222">CTM and Secreted Cytokines Correlation Heatmap</text>
<line x1="49.4" y1="493.5" x2="51.7" y2="493.5" stroke="#555" stroke-width="0.6"/>
<text x="47.4" y="496.19" font-size="6.4" text-anchor="end" fill="#222">IFN-γ</text>
<line x1="49.4" y1="500.69" x2="51.7" y2="500.69" stroke="#555" stroke-width="0.6"/>
<text x="47.4" y="503.38" font-size="6.4" text-anchor="end" fill="#222">GM-CSF</text>
<line x1="49.4" y1="507.88" x2="51.7" y2="507.88" stroke="#555" stroke-width="0.6"/>
<text x="47.4" y="510.57" font-size="6.4" text-anchor="end" fill="#222">TNF</text>
<line x1="49.4" y1="515.06" x2="51.7" y2="515.06" stroke="#555" stroke-width="0.6"/>
<text x="47.4" y="517.76" font-size="6.4" text-anchor="end" fill="#222">IL-3</text>
<line x1="49.4" y1="522.25" x2="51.7" y2="522.25" stroke="#555" stroke-width="0.6"/>
<text x="47.4" y="524.96" font-size="6.4" text-anchor="end" fill="#222">LTα</text>
<line x1="49.4" y1="529.44" x2="51.7" y2="529.44" stroke="#555" stroke-width="0.6"/>
<text x="47.4" y="532.14" font-size="6.4" text-anchor="end" fill="#222">IL-5</text>
<line x1="49.4" y1="536.63" x2="51.7" y2="536.63" stroke="#555" stroke-width="0.6"/>
<text x="47.4" y="539.34" font-size="6.4" text-anchor="end" fill="#222">IL-13</text>
<line x1="49.4" y1="543.82" x2="51.7" y2="543.82" stroke="#555" stroke-width="0.6"/>
<text x="47.4" y="546.52" font-size="6.4" text-anchor="end" fill="#222">IL-6</text>
<line x1="49.4" y1="551.01" x2="51.7" y2="551.01" stroke="#555" stroke-width="0.6"/>
<text x="47.4" y="553.72" font-size="6.4" text-anchor="end" fill="#222">IL-1RA</text>
<line x1="49.4" y1="558.2" x2="51.7" y2="558.2" stroke="#555" stroke-width="0.6"/>
<text x="47.4" y="560.9" font-size="6.4" text-anchor="end" fill="#222">GZB</text>
<circle cx="26.6" cy="493.3" r="2.7" fill="#f47c7c"/>
<circle cx="16.7" cy="500.4" r="2.7" fill="#ffb400"/>
<circle cx="30" cy="529.8" r="2.7" fill="#2ecc40"/>
<circle cx="29.4" cy="558.3" r="2.7" fill="#1aa7ec"/>
<line x1="55.1" y1="562.4" x2="55.1" y2="564" stroke="#333" stroke-width="0.8"/>
<text x="57.3" y="565.3" font-size="6.2" text-anchor="end" fill="#222" transform="rotate(-90 57.3 565.3)">S29</text>
<line x1="61.91" y1="562.4" x2="61.91" y2="564" stroke="#333" stroke-width="0.8"/>
<text x="64.11" y="565.3" font-size="6.2" text-anchor="end" fill="#222" transform="rotate(-90 64.11 565.3)">C14</text>
<line x1="68.72" y1="562.4" x2="68.72" y2="564" stroke="#333" stroke-width="0.8"/>
<text x="70.92" y="565.3" font-size="6.2" text-anchor="end" fill="#222" transform="rotate(-90 70.92 565.3)">D24</text>
<line x1="75.53" y1="562.4" x2="75.53" y2="564" stroke="#333" stroke-width="0.8"/>
<text x="77.73" y="565.3" font-size="6.2" text-anchor="end" fill="#222" transform="rotate(-90 77.73 565.3)">S22</text>
<line x1="82.34" y1="562.4" x2="82.34" y2="564" stroke="#333" stroke-width="0.8"/>
<text x="84.54" y="565.3" font-size="6.2" text-anchor="end" fill="#222" transform="rotate(-90 84.54 565.3)">S21</text>
<line x1="89.14" y1="562.4" x2="89.14" y2="564" stroke="#333" stroke-width="0.8"/>
<text x="91.34" y="565.3" font-size="6.2" text-anchor="end" fill="#222" transform="rotate(-90 91.34 565.3)">D25</text>
<line x1="95.95" y1="562.4" x2="95.95" y2="564" stroke="#333" stroke-width="0.8"/>
<text x="98.15" y="565.3" font-size="6.2" text-anchor="end" fill="#222" transform="rotate(-90 98.15 565.3)">D22</text>
<line x1="102.76" y1="562.4" x2="102.76" y2="564" stroke="#333" stroke-width="0.8"/>
<text x="104.96" y="565.3" font-size="6.2" text-anchor="end" fill="#222" transform="rotate(-90 104.96 565.3)">C31</text>
<line x1="109.57" y1="562.4" x2="109.57" y2="564" stroke="#333" stroke-width="0.8"/>
<text x="111.77" y="565.3" font-size="6.2" text-anchor="end" fill="#222" transform="rotate(-90 111.77 565.3)">D27</text>
<line x1="116.38" y1="562.4" x2="116.38" y2="564" stroke="#333" stroke-width="0.8"/>
<text x="118.58" y="565.3" font-size="6.2" text-anchor="end" fill="#222" transform="rotate(-90 118.58 565.3)">C20</text>
<line x1="123.18" y1="562.4" x2="123.18" y2="564" stroke="#333" stroke-width="0.8"/>
<text x="125.38" y="565.3" font-size="6.2" text-anchor="end" fill="#222" transform="rotate(-90 125.38 565.3)">C6</text>
<line x1="129.99" y1="562.4" x2="129.99" y2="564" stroke="#333" stroke-width="0.8"/>
<text x="132.19" y="565.3" font-size="6.2" text-anchor="end" fill="#222" transform="rotate(-90 132.19 565.3)">D21</text>
<line x1="136.8" y1="562.4" x2="136.8" y2="564" stroke="#333" stroke-width="0.8"/>
<text x="139" y="565.3" font-size="6.2" text-anchor="end" fill="#222" transform="rotate(-90 139 565.3)">S30</text>
<line x1="143.61" y1="562.4" x2="143.61" y2="564" stroke="#333" stroke-width="0.8"/>
<text x="145.81" y="565.3" font-size="6.2" text-anchor="end" fill="#222" transform="rotate(-90 145.81 565.3)">S8</text>
<line x1="150.42" y1="562.4" x2="150.42" y2="564" stroke="#333" stroke-width="0.8"/>
<text x="152.62" y="565.3" font-size="6.2" text-anchor="end" fill="#222" transform="rotate(-90 152.62 565.3)">C22</text>
<line x1="157.22" y1="562.4" x2="157.22" y2="564" stroke="#333" stroke-width="0.8"/>
<text x="159.42" y="565.3" font-size="6.2" text-anchor="end" fill="#222" transform="rotate(-90 159.42 565.3)">S24</text>
<line x1="164.03" y1="562.4" x2="164.03" y2="564" stroke="#333" stroke-width="0.8"/>
<text x="166.23" y="565.3" font-size="6.2" text-anchor="end" fill="#222" transform="rotate(-90 166.23 565.3)">S10</text>
<line x1="170.84" y1="562.4" x2="170.84" y2="564" stroke="#333" stroke-width="0.8"/>
<text x="173.04" y="565.3" font-size="6.2" text-anchor="end" fill="#222" transform="rotate(-90 173.04 565.3)">C28</text>
<line x1="177.65" y1="562.4" x2="177.65" y2="564" stroke="#333" stroke-width="0.8"/>
<text x="179.85" y="565.3" font-size="6.2" text-anchor="end" fill="#222" transform="rotate(-90 179.85 565.3)">S16</text>
<line x1="184.46" y1="562.4" x2="184.46" y2="564" stroke="#333" stroke-width="0.8"/>
<text x="186.66" y="565.3" font-size="6.2" text-anchor="end" fill="#222" transform="rotate(-90 186.66 565.3)">S15</text>
<line x1="191.26" y1="562.4" x2="191.26" y2="564" stroke="#333" stroke-width="0.8"/>
<text x="193.46" y="565.3" font-size="6.2" text-anchor="end" fill="#222" transform="rotate(-90 193.46 565.3)">S17</text>
<line x1="198.07" y1="562.4" x2="198.07" y2="564" stroke="#333" stroke-width="0.8"/>
<text x="200.27" y="565.3" font-size="6.2" text-anchor="end" fill="#222" transform="rotate(-90 200.27 565.3)">C27</text>
<line x1="204.88" y1="562.4" x2="204.88" y2="564" stroke="#333" stroke-width="0.8"/>
<text x="207.08" y="565.3" font-size="6.2" text-anchor="end" fill="#222" transform="rotate(-90 207.08 565.3)">S11</text>
<line x1="211.69" y1="562.4" x2="211.69" y2="564" stroke="#333" stroke-width="0.8"/>
<text x="213.89" y="565.3" font-size="6.2" text-anchor="end" fill="#222" transform="rotate(-90 213.89 565.3)">S14</text>
<line x1="218.5" y1="562.4" x2="218.5" y2="564" stroke="#333" stroke-width="0.8"/>
<text x="220.7" y="565.3" font-size="6.2" text-anchor="end" fill="#222" transform="rotate(-90 220.7 565.3)">S12</text>
<line x1="225.3" y1="562.4" x2="225.3" y2="564" stroke="#333" stroke-width="0.8"/>
<text x="227.5" y="565.3" font-size="6.2" text-anchor="end" fill="#222" transform="rotate(-90 227.5 565.3)">S20</text>
<line x1="232.11" y1="562.4" x2="232.11" y2="564" stroke="#333" stroke-width="0.8"/>
<text x="234.31" y="565.3" font-size="6.2" text-anchor="end" fill="#222" transform="rotate(-90 234.31 565.3)">C9</text>
<line x1="238.92" y1="562.4" x2="238.92" y2="564" stroke="#333" stroke-width="0.8"/>
<text x="241.12" y="565.3" font-size="6.2" text-anchor="end" fill="#222" transform="rotate(-90 241.12 565.3)">S6</text>
<line x1="245.73" y1="562.4" x2="245.73" y2="564" stroke="#333" stroke-width="0.8"/>
<text x="247.93" y="565.3" font-size="6.2" text-anchor="end" fill="#222" transform="rotate(-90 247.93 565.3)">C1</text>
<line x1="252.54" y1="562.4" x2="252.54" y2="564" stroke="#333" stroke-width="0.8"/>
<text x="254.74" y="565.3" font-size="6.2" text-anchor="end" fill="#222" transform="rotate(-90 254.74 565.3)">C29</text>
<line x1="259.34" y1="562.4" x2="259.34" y2="564" stroke="#333" stroke-width="0.8"/>
<text x="261.54" y="565.3" font-size="6.2" text-anchor="end" fill="#222" transform="rotate(-90 261.54 565.3)">C12</text>
<line x1="266.15" y1="562.4" x2="266.15" y2="564" stroke="#333" stroke-width="0.8"/>
<text x="268.35" y="565.3" font-size="6.2" text-anchor="end" fill="#222" transform="rotate(-90 268.35 565.3)">C30</text>
<line x1="272.96" y1="562.4" x2="272.96" y2="564" stroke="#333" stroke-width="0.8"/>
<text x="275.16" y="565.3" font-size="6.2" text-anchor="end" fill="#222" transform="rotate(-90 275.16 565.3)">C16</text>
<line x1="279.77" y1="562.4" x2="279.77" y2="564" stroke="#333" stroke-width="0.8"/>
<text x="281.97" y="565.3" font-size="6.2" text-anchor="end" fill="#222" transform="rotate(-90 281.97 565.3)">S5</text>
<line x1="286.58" y1="562.4" x2="286.58" y2="564" stroke="#333" stroke-width="0.8"/>
<text x="288.78" y="565.3" font-size="6.2" text-anchor="end" fill="#222" transform="rotate(-90 288.78 565.3)">S13</text>
<line x1="293.38" y1="562.4" x2="293.38" y2="564" stroke="#333" stroke-width="0.8"/>
<text x="295.58" y="565.3" font-size="6.2" text-anchor="end" fill="#222" transform="rotate(-90 295.58 565.3)">C19</text>
<line x1="300.19" y1="562.4" x2="300.19" y2="564" stroke="#333" stroke-width="0.8"/>
<text x="302.39" y="565.3" font-size="6.2" text-anchor="end" fill="#222" transform="rotate(-90 302.39 565.3)">S23</text>
<line x1="307" y1="562.4" x2="307" y2="564" stroke="#333" stroke-width="0.8"/>
<text x="309.2" y="565.3" font-size="6.2" text-anchor="end" fill="#222" transform="rotate(-90 309.2 565.3)">C17</text>
<line x1="313.81" y1="562.4" x2="313.81" y2="564" stroke="#333" stroke-width="0.8"/>
<text x="316.01" y="565.3" font-size="6.2" text-anchor="end" fill="#222" transform="rotate(-90 316.01 565.3)">C18</text>
<line x1="320.62" y1="562.4" x2="320.62" y2="564" stroke="#333" stroke-width="0.8"/>
<text x="322.82" y="565.3" font-size="6.2" text-anchor="end" fill="#222" transform="rotate(-90 322.82 565.3)">C23</text>
<line x1="327.42" y1="562.4" x2="327.42" y2="564" stroke="#333" stroke-width="0.8"/>
<text x="329.62" y="565.3" font-size="6.2" text-anchor="end" fill="#222" transform="rotate(-90 329.62 565.3)">D23</text>
<line x1="334.23" y1="562.4" x2="334.23" y2="564" stroke="#333" stroke-width="0.8"/>
<text x="336.43" y="565.3" font-size="6.2" text-anchor="end" fill="#222" transform="rotate(-90 336.43 565.3)">C13</text>
<line x1="341.04" y1="562.4" x2="341.04" y2="564" stroke="#333" stroke-width="0.8"/>
<text x="343.24" y="565.3" font-size="6.2" text-anchor="end" fill="#222" transform="rotate(-90 343.24 565.3)">C25</text>
<line x1="347.85" y1="562.4" x2="347.85" y2="564" stroke="#333" stroke-width="0.8"/>
<text x="350.05" y="565.3" font-size="6.2" text-anchor="end" fill="#222" transform="rotate(-90 350.05 565.3)">D26</text>
<line x1="354.66" y1="562.4" x2="354.66" y2="564" stroke="#333" stroke-width="0.8"/>
<text x="356.86" y="565.3" font-size="6.2" text-anchor="end" fill="#222" transform="rotate(-90 356.86 565.3)">C26</text>
<line x1="361.46" y1="562.4" x2="361.46" y2="564" stroke="#333" stroke-width="0.8"/>
<text x="363.66" y="565.3" font-size="6.2" text-anchor="end" fill="#222" transform="rotate(-90 363.66 565.3)">C8</text>
<line x1="368.27" y1="562.4" x2="368.27" y2="564" stroke="#333" stroke-width="0.8"/>
<text x="370.47" y="565.3" font-size="6.2" text-anchor="end" fill="#222" transform="rotate(-90 370.47 565.3)">C24</text>
<line x1="375.08" y1="562.4" x2="375.08" y2="564" stroke="#333" stroke-width="0.8"/>
<text x="377.28" y="565.3" font-size="6.2" text-anchor="end" fill="#222" transform="rotate(-90 377.28 565.3)">C21</text>
<line x1="381.89" y1="562.4" x2="381.89" y2="564" stroke="#333" stroke-width="0.8"/>
<text x="384.09" y="565.3" font-size="6.2" text-anchor="end" fill="#222" transform="rotate(-90 384.09 565.3)">S7</text>
<line x1="388.7" y1="562.4" x2="388.7" y2="564" stroke="#333" stroke-width="0.8"/>
<text x="390.9" y="565.3" font-size="6.2" text-anchor="end" fill="#222" transform="rotate(-90 390.9 565.3)">C10</text>
<line x1="395.5" y1="562.4" x2="395.5" y2="564" stroke="#333" stroke-width="0.8"/>
<text x="397.7" y="565.3" font-size="6.2" text-anchor="end" fill="#222" transform="rotate(-90 397.7 565.3)">D10</text>
<line x1="402.31" y1="562.4" x2="402.31" y2="564" stroke="#333" stroke-width="0.8"/>
<text x="404.51" y="565.3" font-size="6.2" text-anchor="end" fill="#222" transform="rotate(-90 404.51 565.3)">D14</text>
<line x1="409.12" y1="562.4" x2="409.12" y2="564" stroke="#333" stroke-width="0.8"/>
<text x="411.32" y="565.3" font-size="6.2" text-anchor="end" fill="#222" transform="rotate(-90 411.32 565.3)">S26</text>
<line x1="415.93" y1="562.4" x2="415.93" y2="564" stroke="#333" stroke-width="0.8"/>
<text x="418.13" y="565.3" font-size="6.2" text-anchor="end" fill="#222" transform="rotate(-90 418.13 565.3)">D19</text>
<line x1="422.74" y1="562.4" x2="422.74" y2="564" stroke="#333" stroke-width="0.8"/>
<text x="424.94" y="565.3" font-size="6.2" text-anchor="end" fill="#222" transform="rotate(-90 424.94 565.3)">D6</text>
<line x1="429.54" y1="562.4" x2="429.54" y2="564" stroke="#333" stroke-width="0.8"/>
<text x="431.74" y="565.3" font-size="6.2" text-anchor="end" fill="#222" transform="rotate(-90 431.74 565.3)">C4</text>
<line x1="436.35" y1="562.4" x2="436.35" y2="564" stroke="#333" stroke-width="0.8"/>
<text x="438.55" y="565.3" font-size="6.2" text-anchor="end" fill="#222" transform="rotate(-90 438.55 565.3)">C5</text>
<line x1="443.16" y1="562.4" x2="443.16" y2="564" stroke="#333" stroke-width="0.8"/>
<text x="445.36" y="565.3" font-size="6.2" text-anchor="end" fill="#222" transform="rotate(-90 445.36 565.3)">S4</text>
<line x1="449.97" y1="562.4" x2="449.97" y2="564" stroke="#333" stroke-width="0.8"/>
<text x="452.17" y="565.3" font-size="6.2" text-anchor="end" fill="#222" transform="rotate(-90 452.17 565.3)">C15</text>
<line x1="456.78" y1="562.4" x2="456.78" y2="564" stroke="#333" stroke-width="0.8"/>
<text x="458.98" y="565.3" font-size="6.2" text-anchor="end" fill="#222" transform="rotate(-90 458.98 565.3)">C3</text>
<line x1="463.58" y1="562.4" x2="463.58" y2="564" stroke="#333" stroke-width="0.8"/>
<text x="465.78" y="565.3" font-size="6.2" text-anchor="end" fill="#222" transform="rotate(-90 465.78 565.3)">C11</text>
<line x1="470.39" y1="562.4" x2="470.39" y2="564" stroke="#333" stroke-width="0.8"/>
<text x="472.59" y="565.3" font-size="6.2" text-anchor="end" fill="#222" transform="rotate(-90 472.59 565.3)">S28</text>
<line x1="477.2" y1="562.4" x2="477.2" y2="564" stroke="#333" stroke-width="0.8"/>
<text x="479.4" y="565.3" font-size="6.2" text-anchor="end" fill="#222" transform="rotate(-90 479.4 565.3)">S27</text>
<line x1="484.01" y1="562.4" x2="484.01" y2="564" stroke="#333" stroke-width="0.8"/>
<text x="486.21" y="565.3" font-size="6.2" text-anchor="end" fill="#222" transform="rotate(-90 486.21 565.3)">S25</text>
<line x1="490.82" y1="562.4" x2="490.82" y2="564" stroke="#333" stroke-width="0.8"/>
<text x="493.02" y="565.3" font-size="6.2" text-anchor="end" fill="#222" transform="rotate(-90 493.02 565.3)">S9</text>
<line x1="497.62" y1="562.4" x2="497.62" y2="564" stroke="#333" stroke-width="0.8"/>
<text x="499.82" y="565.3" font-size="6.2" text-anchor="end" fill="#222" transform="rotate(-90 499.82 565.3)">D17</text>
<line x1="504.43" y1="562.4" x2="504.43" y2="564" stroke="#333" stroke-width="0.8"/>
<text x="506.63" y="565.3" font-size="6.2" text-anchor="end" fill="#222" transform="rotate(-90 506.63 565.3)">D3</text>
<line x1="511.24" y1="562.4" x2="511.24" y2="564" stroke="#333" stroke-width="0.8"/>
<text x="513.44" y="565.3" font-size="6.2" text-anchor="end" fill="#222" transform="rotate(-90 513.44 565.3)">D18</text>
<line x1="518.05" y1="562.4" x2="518.05" y2="564" stroke="#333" stroke-width="0.8"/>
<text x="520.25" y="565.3" font-size="6.2" text-anchor="end" fill="#222" transform="rotate(-90 520.25 565.3)">D8</text>
<line x1="524.86" y1="562.4" x2="524.86" y2="564" stroke="#333" stroke-width="0.8"/>
<text x="527.06" y="565.3" font-size="6.2" text-anchor="end" fill="#222" transform="rotate(-90 527.06 565.3)">D16</text>
<line x1="531.66" y1="562.4" x2="531.66" y2="564" stroke="#333" stroke-width="0.8"/>
<text x="533.86" y="565.3" font-size="6.2" text-anchor="end" fill="#222" transform="rotate(-90 533.86 565.3)">D15</text>
<line x1="538.47" y1="562.4" x2="538.47" y2="564" stroke="#333" stroke-width="0.8"/>
<text x="540.67" y="565.3" font-size="6.2" text-anchor="end" fill="#222" transform="rotate(-90 540.67 565.3)">D4</text>
<line x1="545.28" y1="562.4" x2="545.28" y2="564" stroke="#333" stroke-width="0.8"/>
<text x="547.48" y="565.3" font-size="6.2" text-anchor="end" fill="#222" transform="rotate(-90 547.48 565.3)">C7</text>
<line x1="552.09" y1="562.4" x2="552.09" y2="564" stroke="#333" stroke-width="0.8"/>
<text x="554.29" y="565.3" font-size="6.2" text-anchor="end" fill="#222" transform="rotate(-90 554.29 565.3)">D11</text>
<line x1="558.9" y1="562.4" x2="558.9" y2="564" stroke="#333" stroke-width="0.8"/>
<text x="561.1" y="565.3" font-size="6.2" text-anchor="end" fill="#222" transform="rotate(-90 561.1 565.3)">D13</text>
<line x1="565.7" y1="562.4" x2="565.7" y2="564" stroke="#333" stroke-width="0.8"/>
<text x="567.9" y="565.3" font-size="6.2" text-anchor="end" fill="#222" transform="rotate(-90 567.9 565.3)">D12</text>
<line x1="572.51" y1="562.4" x2="572.51" y2="564" stroke="#333" stroke-width="0.8"/>
<text x="574.71" y="565.3" font-size="6.2" text-anchor="end" fill="#222" transform="rotate(-90 574.71 565.3)">C2</text>
<line x1="579.32" y1="562.4" x2="579.32" y2="564" stroke="#333" stroke-width="0.8"/>
<text x="581.52" y="565.3" font-size="6.2" text-anchor="end" fill="#222" transform="rotate(-90 581.52 565.3)">S19</text>
<line x1="586.13" y1="562.4" x2="586.13" y2="564" stroke="#333" stroke-width="0.8"/>
<text x="588.33" y="565.3" font-size="6.2" text-anchor="end" fill="#222" transform="rotate(-90 588.33 565.3)">D2</text>
<line x1="592.94" y1="562.4" x2="592.94" y2="564" stroke="#333" stroke-width="0.8"/>
<text x="595.14" y="565.3" font-size="6.2" text-anchor="end" fill="#222" transform="rotate(-90 595.14 565.3)">D7</text>
<line x1="599.74" y1="562.4" x2="599.74" y2="564" stroke="#333" stroke-width="0.8"/>
<text x="601.94" y="565.3" font-size="6.2" text-anchor="end" fill="#222" transform="rotate(-90 601.94 565.3)">S1</text>
<line x1="606.55" y1="562.4" x2="606.55" y2="564" stroke="#333" stroke-width="0.8"/>
<text x="608.75" y="565.3" font-size="6.2" text-anchor="end" fill="#222" transform="rotate(-90 608.75 565.3)">S18</text>
<line x1="613.36" y1="562.4" x2="613.36" y2="564" stroke="#333" stroke-width="0.8"/>
<text x="615.56" y="565.3" font-size="6.2" text-anchor="end" fill="#222" transform="rotate(-90 615.56 565.3)">S2</text>
<line x1="620.17" y1="562.4" x2="620.17" y2="564" stroke="#333" stroke-width="0.8"/>
<text x="622.37" y="565.3" font-size="6.2" text-anchor="end" fill="#222" transform="rotate(-90 622.37 565.3)">S3</text>
<line x1="626.98" y1="562.4" x2="626.98" y2="564" stroke="#333" stroke-width="0.8"/>
<text x="629.18" y="565.3" font-size="6.2" text-anchor="end" fill="#222" transform="rotate(-90 629.18 565.3)">D5</text>
<line x1="633.78" y1="562.4" x2="633.78" y2="564" stroke="#333" stroke-width="0.8"/>
<text x="635.98" y="565.3" font-size="6.2" text-anchor="end" fill="#222" transform="rotate(-90 635.98 565.3)">D20</text>
<line x1="640.59" y1="562.4" x2="640.59" y2="564" stroke="#333" stroke-width="0.8"/>
<text x="642.79" y="565.3" font-size="6.2" text-anchor="end" fill="#222" transform="rotate(-90 642.79 565.3)">D1</text>
<line x1="647.4" y1="562.4" x2="647.4" y2="564" stroke="#333" stroke-width="0.8"/>
<text x="649.6" y="565.3" font-size="6.2" text-anchor="end" fill="#222" transform="rotate(-90 649.6 565.3)">D9</text>
<rect x="405.02" y="489.1" width="8.21" height="8.69" fill="none" stroke="#f08080" stroke-width="2.2"/>
<rect x="187.16" y="496.29" width="8.21" height="8.69" fill="none" stroke="#ffbf00" stroke-width="2.2"/>
<rect x="418.63" y="525.05" width="8.21" height="8.69" fill="none" stroke="#32cd32" stroke-width="2.2"/>
<rect x="439.06" y="553.81" width="8.21" height="8.69" fill="none" stroke="#1aa7ec" stroke-width="2.2"/>
<circle cx="409.12" cy="580.7" r="2.8" fill="#f47c7c"/>
<circle cx="191.26" cy="580.7" r="2.8" fill="#ffb400"/>
<circle cx="422.74" cy="577.9" r="2.8" fill="#2ecc40"/>
<circle cx="443.16" cy="578.1" r="2.8" fill="#1aa7ec"/>
<defs><linearGradient id="cb527" x1="0" y1="0" x2="0" y2="1">
<stop offset="0" stop-color="#b40426"/>
<stop offset="0.1" stop-color="#d65244"/>
<stop offset="0.2" stop-color="#ee8468"/>
<stop offset="0.3" stop-color="#f7ac8e"/>
<stop offset="0.4" stop-color="#f2cbb7"/>
<stop offset="0.5" stop-color="#dddcdc"/>
<stop offset="0.6" stop-color="#c0d4f5"/>
<stop offset="0.7" stop-color="#9ebeff"/>
<stop offset="0.8" stop-color="#7b9ff9"/>
<stop offset="0.9" stop-color="#5977e3"/>
<stop offset="1" stop-color="#3b4cc0"/>
</linearGradient></defs>
<rect x="655.6" y="527.9" width="6.5" height="33.3" fill="url(#cb527)" stroke="none" stroke-width="1"/>
<line x1="662.1" y1="527.9" x2="663.6" y2="527.9" stroke="#555" stroke-width="0.6"/>
<line x1="662.1" y1="536.23" x2="663.6" y2="536.23" stroke="#555" stroke-width="0.6"/>
<line x1="662.1" y1="544.55" x2="663.6" y2="544.55" stroke="#555" stroke-width="0.6"/>
<line x1="662.1" y1="552.88" x2="663.6" y2="552.88" stroke="#555" stroke-width="0.6"/>
<line x1="662.1" y1="561.2" x2="663.6" y2="561.2" stroke="#555" stroke-width="0.6"/>
<text x="658.85" y="525.5" font-size="7.5" text-anchor="middle" fill="#222" font-family="Liberation Serif">1.0</text>
<text x="662.6" y="568.4" font-size="7.4" text-anchor="middle" fill="#222">-1.0</text>
<rect x="84.2" y="313.2" width="131.1" height="130.1" fill="#fff" stroke="none" stroke-width="1"/>
<rect x="84.2" y="313.2" width="131.1" height="130.1" fill="none" stroke="#a0a0a0" stroke-width="1"/>
<line x1="81.2" y1="443.3" x2="84.2" y2="443.3" stroke="#666" stroke-width="0.8"/>
<text x="80" y="446.54" font-size="9" text-anchor="end" fill="#222">0</text>
<line x1="81.2" y1="417.28" x2="84.2" y2="417.28" stroke="#666" stroke-width="0.8"/>
<text x="80" y="420.52" font-size="9" text-anchor="end" fill="#222">20</text>
<line x1="81.2" y1="391.26" x2="84.2" y2="391.26" stroke="#666" stroke-width="0.8"/>
<text x="80" y="394.5" font-size="9" text-anchor="end" fill="#222">40</text>
<line x1="81.2" y1="365.24" x2="84.2" y2="365.24" stroke="#666" stroke-width="0.8"/>
<text x="80" y="368.48" font-size="9" text-anchor="end" fill="#222">60</text>
<line x1="81.2" y1="339.22" x2="84.2" y2="339.22" stroke="#666" stroke-width="0.8"/>
<text x="80" y="342.46" font-size="9" text-anchor="end" fill="#222">80</text>
<line x1="81.2" y1="313.2" x2="84.2" y2="313.2" stroke="#666" stroke-width="0.8"/>
<text x="80" y="316.44" font-size="9" text-anchor="end" fill="#222">100</text>
<line x1="84.2" y1="443.3" x2="84.2" y2="446.3" stroke="#666" stroke-width="0.8"/>
<text x="87.44" y="447.3" font-size="9" text-anchor="end" fill="#222" transform="rotate(-90 87.44 447.3)">0.8</text>
<line x1="102.9" y1="443.3" x2="102.9" y2="446.3" stroke="#666" stroke-width="0.8"/>
<text x="106.14" y="447.3" font-size="9" text-anchor="end" fill="#222" transform="rotate(-90 106.14 447.3)">0.9</text>
<line x1="121.6" y1="443.3" x2="121.6" y2="446.3" stroke="#666" stroke-width="0.8"/>
<text x="124.84" y="447.3" font-size="9" text-anchor="end" fill="#222" transform="rotate(-90 124.84 447.3)">1.0</text>
<line x1="140.3" y1="443.3" x2="140.3" y2="446.3" stroke="#666" stroke-width="0.8"/>
<text x="143.54" y="447.3" font-size="9" text-anchor="end" fill="#222" transform="rotate(-90 143.54 447.3)">1.1</text>
<line x1="159" y1="443.3" x2="159" y2="446.3" stroke="#666" stroke-width="0.8"/>
<text x="162.24" y="447.3" font-size="9" text-anchor="end" fill="#222" transform="rotate(-90 162.24 447.3)">1.2</text>
<line x1="177.7" y1="443.3" x2="177.7" y2="446.3" stroke="#666" stroke-width="0.8"/>
<text x="180.94" y="447.3" font-size="9" text-anchor="end" fill="#222" transform="rotate(-90 180.94 447.3)">1.3</text>
<line x1="196.4" y1="443.3" x2="196.4" y2="446.3" stroke="#666" stroke-width="0.8"/>
<text x="199.64" y="447.3" font-size="9" text-anchor="end" fill="#222" transform="rotate(-90 199.64 447.3)">1.4</text>
<line x1="215.1" y1="443.3" x2="215.1" y2="446.3" stroke="#666" stroke-width="0.8"/>
<text x="218.34" y="447.3" font-size="9" text-anchor="end" fill="#222" transform="rotate(-90 218.34 447.3)">1.5</text>
<text x="63" y="375.45" font-size="10.3" text-anchor="middle" fill="#222" transform="rotate(-90 63 375.45)">1:5 Specific Lysis (%)</text>
<text x="45.8" y="304" font-size="10" fill="#222">(c)</text>
<circle cx="106.9" cy="302.8" r="5.9" fill="#80f3f7"/>
<text x="115.2" y="305.4" font-size="10.2" fill="#222"><tspan font-weight="bold">S5:</tspan> H<tspan font-size="6.5" dy="2">1</tspan><tspan dy="-2"> Std. Dev</tspan></text>
<line x1="103.5" y1="419" x2="193.7" y2="334.8" stroke="#555" stroke-width="1" stroke-dasharray="3,2"/>
<line x1="128.89" y1="381.24" x2="156.57" y2="381.24" stroke="#c9c9c9" stroke-width="0.8"/>
<line x1="128.89" y1="379.74" x2="128.89" y2="382.74" stroke="#c9c9c9" stroke-width="0.8"/>
<line x1="156.57" y1="379.74" x2="156.57" y2="382.74" stroke="#c9c9c9" stroke-width="0.8"/>
<line x1="89.81" y1="411.56" x2="116.36" y2="411.56" stroke="#c9c9c9" stroke-width="0.8"/>
<line x1="89.81" y1="410.06" x2="89.81" y2="413.06" stroke="#c9c9c9" stroke-width="0.8"/>
<line x1="116.36" y1="410.06" x2="116.36" y2="413.06" stroke="#c9c9c9" stroke-width="0.8"/>
<line x1="132.07" y1="401.67" x2="148.9" y2="401.67" stroke="#c9c9c9" stroke-width="0.8"/>
<line x1="132.07" y1="400.17" x2="132.07" y2="403.17" stroke="#c9c9c9" stroke-width="0.8"/>
<line x1="148.9" y1="400.17" x2="148.9" y2="403.17" stroke="#c9c9c9" stroke-width="0.8"/>
<line x1="179.2" y1="326.08" x2="209.3" y2="326.08" stroke="#c9c9c9" stroke-width="0.8"/>
<line x1="179.2" y1="324.58" x2="179.2" y2="327.58" stroke="#c9c9c9" stroke-width="0.8"/>
<line x1="209.3" y1="324.58" x2="209.3" y2="327.58" stroke="#c9c9c9" stroke-width="0.8"/>
<line x1="185.93" y1="341.82" x2="198.64" y2="341.82" stroke="#c9c9c9" stroke-width="0.8"/>
<line x1="185.93" y1="340.32" x2="185.93" y2="343.32" stroke="#c9c9c9" stroke-width="0.8"/>
<line x1="198.64" y1="340.32" x2="198.64" y2="343.32" stroke="#c9c9c9" stroke-width="0.8"/>
<line x1="146.1" y1="355.22" x2="188.55" y2="355.22" stroke="#c9c9c9" stroke-width="0.8"/>
<line x1="146.1" y1="353.72" x2="146.1" y2="356.72" stroke="#c9c9c9" stroke-width="0.8"/>
<line x1="188.55" y1="353.72" x2="188.55" y2="356.72" stroke="#c9c9c9" stroke-width="0.8"/>
<polygon points="142.54,377.64 139.43,379.44 139.43,383.04 142.54,384.84 145.66,383.04 145.66,379.44" fill="#f25a5a" stroke="#f25a5a" stroke-width="0.5" stroke-linejoin="round"/>
<polygon points="103.46,407.96 100.34,409.76 100.34,413.36 103.46,415.16 106.58,413.36 106.58,409.76" fill="#f25a5a" stroke="#f25a5a" stroke-width="0.5" stroke-linejoin="round"/>
<polygon points="140.67,398.07 137.56,399.87 137.56,403.47 140.67,405.27 143.79,403.47 143.79,399.87" fill="#f25a5a" stroke="#f25a5a" stroke-width="0.5" stroke-linejoin="round"/>
<polygon points="192.91,322.98 195.41,322.98 195.41,324.83 197.26,324.83 197.26,327.33 195.41,327.33 195.41,329.18 192.91,329.18 192.91,327.33 191.06,327.33 191.06,324.83 192.91,324.83" fill="#1f1fff" stroke="#1f1fff" stroke-width="0.3" stroke-linejoin="round"/>
<polygon points="190.47,338.72 192.97,338.72 192.97,340.57 194.82,340.57 194.82,343.07 192.97,343.07 192.97,344.92 190.47,344.92 190.47,343.07 188.62,343.07 188.62,340.57 190.47,340.57" fill="#1f1fff" stroke="#1f1fff" stroke-width="0.3" stroke-linejoin="round"/>
<polygon points="166.17,352.12 168.67,352.12 168.67,353.97 170.52,353.97 170.52,356.47 168.67,356.47 168.67,358.32 166.17,358.32 166.17,356.47 164.32,356.47 164.32,353.97 166.17,353.97" fill="#1f1fff" stroke="#1f1fff" stroke-width="0.3" stroke-linejoin="round"/>
<text x="194" y="320.4" font-size="7.3" text-anchor="middle" fill="#3d3dff">B1</text>
<text x="167.5" y="349.3" font-size="7.3" text-anchor="middle" fill="#3d3dff">B2</text>
<text x="193" y="351.5" font-size="7.3" text-anchor="middle" fill="#3d3dff">B3</text>
<text x="140.9" y="375.3" font-size="7.3" text-anchor="middle" fill="#f46a6a">G1</text>
<text x="141.9" y="395.6" font-size="7.3" text-anchor="middle" fill="#f46a6a">G3</text>
<text x="102.7" y="404.4" font-size="7.3" text-anchor="middle" fill="#f46a6a">G2</text>
<text x="90.8" y="328.3" font-size="9.0" fill="#222">ρ<tspan font-size="6" dy="2">all</tspan><tspan dy="-2"> = 0.96 (**)</tspan></text>
<text x="90.8" y="338.3" font-size="7.2" fill="#222">p = 0.022</text>
<rect x="174.2" y="414.1" width="36.3" height="22.7" fill="#fff" stroke="#4b5b82" stroke-width="1.2" rx="2"/>
<polygon points="179.2,417.04 183,417.04 183,419.24 185.2,419.24 185.2,423.04 183,423.04 183,425.24 179.2,425.24 179.2,423.04 177,423.04 177,419.24 179.2,419.24" fill="#1f1fff" stroke="#1f1fff" stroke-width="0.3" stroke-linejoin="round"/>
<polygon points="181.1,426.14 177.38,428.29 177.38,432.59 181.1,434.74 184.82,432.59 184.82,428.29" fill="#f25a5a" stroke="#f25a5a" stroke-width="0.5" stroke-linejoin="round"/>
<text x="188.6" y="423.74" font-size="7.2" fill="#222">Breez</text>
<text x="188.6" y="433.04" font-size="7.2" fill="#222">GRex</text>
<text x="223.8" y="450.8" font-size="9" fill="#222">μm</text>
<rect x="291.7" y="314.1" width="131.6" height="130" fill="#fff" stroke="none" stroke-width="1"/>
<rect x="291.7" y="314.1" width="131.6" height="130" fill="none" stroke="#a0a0a0" stroke-width="1"/>
<line x1="288.7" y1="444.1" x2="291.7" y2="444.1" stroke="#666" stroke-width="0.8"/>
<text x="287.5" y="447.34" font-size="9" text-anchor="end" fill="#222">0</text>
<line x1="288.7" y1="418.1" x2="291.7" y2="418.1" stroke="#666" stroke-width="0.8"/>
<text x="287.5" y="421.34" font-size="9" text-anchor="end" fill="#222">20</text>
<line x1="288.7" y1="392.1" x2="291.7" y2="392.1" stroke="#666" stroke-width="0.8"/>
<text x="287.5" y="395.34" font-size="9" text-anchor="end" fill="#222">40</text>
<line x1="288.7" y1="366.1" x2="291.7" y2="366.1" stroke="#666" stroke-width="0.8"/>
<text x="287.5" y="369.34" font-size="9" text-anchor="end" fill="#222">60</text>
<line x1="288.7" y1="340.1" x2="291.7" y2="340.1" stroke="#666" stroke-width="0.8"/>
<text x="287.5" y="343.34" font-size="9" text-anchor="end" fill="#222">80</text>
<line x1="288.7" y1="314.1" x2="291.7" y2="314.1" stroke="#666" stroke-width="0.8"/>
<text x="287.5" y="317.34" font-size="9" text-anchor="end" fill="#222">100</text>
<line x1="307.6" y1="444.1" x2="307.6" y2="447.1" stroke="#666" stroke-width="0.8"/>
<text x="310.84" y="448.1" font-size="9" text-anchor="end" fill="#222" transform="rotate(-90 310.84 448.1)">1.2</text>
<line x1="324.1" y1="444.1" x2="324.1" y2="447.1" stroke="#666" stroke-width="0.8"/>
<text x="327.34" y="448.1" font-size="9" text-anchor="end" fill="#222" transform="rotate(-90 327.34 448.1)">1.4</text>
<line x1="340.6" y1="444.1" x2="340.6" y2="447.1" stroke="#666" stroke-width="0.8"/>
<text x="343.84" y="448.1" font-size="9" text-anchor="end" fill="#222" transform="rotate(-90 343.84 448.1)">1.6</text>
<line x1="357.1" y1="444.1" x2="357.1" y2="447.1" stroke="#666" stroke-width="0.8"/>
<text x="360.34" y="448.1" font-size="9" text-anchor="end" fill="#222" transform="rotate(-90 360.34 448.1)">1.8</text>
<line x1="373.6" y1="444.1" x2="373.6" y2="447.1" stroke="#666" stroke-width="0.8"/>
<text x="376.84" y="448.1" font-size="9" text-anchor="end" fill="#222" transform="rotate(-90 376.84 448.1)">2.0</text>
<line x1="390.1" y1="444.1" x2="390.1" y2="447.1" stroke="#666" stroke-width="0.8"/>
<text x="393.34" y="448.1" font-size="9" text-anchor="end" fill="#222" transform="rotate(-90 393.34 448.1)">2.2</text>
<line x1="406.6" y1="444.1" x2="406.6" y2="447.1" stroke="#666" stroke-width="0.8"/>
<text x="409.84" y="448.1" font-size="9" text-anchor="end" fill="#222" transform="rotate(-90 409.84 448.1)">2.4</text>
<text x="270.5" y="376.3" font-size="10.3" text-anchor="middle" fill="#222" transform="rotate(-90 270.5 376.3)">1:5 Specific Lysis (%)</text>
<text x="253.9" y="304.5" font-size="10" fill="#222">(d)</text>
<circle cx="317.4" cy="302.3" r="6.1" fill="#ff00ff"/>
<text x="328.8" y="306" font-size="10.2" fill="#222"><tspan font-weight="bold">D21:</tspan> H<tspan font-size="6.5" dy="2">4</tspan><tspan dy="-2"> Skew</tspan></text>
<line x1="309.2" y1="356" x2="380" y2="326.5" stroke="#555" stroke-width="1" stroke-dasharray="3,2"/>
<line x1="390.9" y1="412" x2="405.6" y2="381.8" stroke="#555" stroke-width="1" stroke-dasharray="3,2"/>
<line x1="369.5" y1="326.5" x2="390.7" y2="326.5" stroke="#c9c9c9" stroke-width="0.8"/>
<line x1="369.5" y1="325" x2="369.5" y2="328" stroke="#c9c9c9" stroke-width="0.8"/>
<line x1="390.7" y1="325" x2="390.7" y2="328" stroke="#c9c9c9" stroke-width="0.8"/>
<line x1="327.6" y1="342.2" x2="355.1" y2="342.2" stroke="#c9c9c9" stroke-width="0.8"/>
<line x1="327.6" y1="340.7" x2="327.6" y2="343.7" stroke="#c9c9c9" stroke-width="0.8"/>
<line x1="355.1" y1="340.7" x2="355.1" y2="343.7" stroke="#c9c9c9" stroke-width="0.8"/>
<line x1="297.7" y1="356" x2="320.6" y2="356" stroke="#c9c9c9" stroke-width="0.8"/>
<line x1="297.7" y1="354.5" x2="297.7" y2="357.5" stroke="#c9c9c9" stroke-width="0.8"/>
<line x1="320.6" y1="354.5" x2="320.6" y2="357.5" stroke="#c9c9c9" stroke-width="0.8"/>
<line x1="387.2" y1="402" x2="416.6" y2="402" stroke="#c9c9c9" stroke-width="0.8"/>
<line x1="387.2" y1="400.5" x2="387.2" y2="403.5" stroke="#c9c9c9" stroke-width="0.8"/>
<line x1="416.6" y1="400.5" x2="416.6" y2="403.5" stroke="#c9c9c9" stroke-width="0.8"/>
<line x1="364.6" y1="412" x2="417.2" y2="412" stroke="#c9c9c9" stroke-width="0.8"/>
<line x1="364.6" y1="410.5" x2="364.6" y2="413.5" stroke="#c9c9c9" stroke-width="0.8"/>
<line x1="417.2" y1="410.5" x2="417.2" y2="413.5" stroke="#c9c9c9" stroke-width="0.8"/>
<polygon points="405.6,378.2 402.48,380 402.48,383.6 405.6,385.4 408.72,383.6 408.72,380" fill="#f25a5a" stroke="#f25a5a" stroke-width="0.5" stroke-linejoin="round"/>
<polygon points="401.4,398.4 398.28,400.2 398.28,403.8 401.4,405.6 404.52,403.8 404.52,400.2" fill="#f25a5a" stroke="#f25a5a" stroke-width="0.5" stroke-linejoin="round"/>
<polygon points="390.9,408.4 387.78,410.2 387.78,413.8 390.9,415.6 394.02,413.8 394.02,410.2" fill="#f25a5a" stroke="#f25a5a" stroke-width="0.5" stroke-linejoin="round"/>
<polygon points="378.75,323.4 381.25,323.4 381.25,325.25 383.1,325.25 383.1,327.75 381.25,327.75 381.25,329.6 378.75,329.6 378.75,327.75 376.9,327.75 376.9,325.25 378.75,325.25" fill="#1f1fff" stroke="#1f1fff" stroke-width="0.3" stroke-linejoin="round"/>
<polygon points="340.25,339.1 342.75,339.1 342.75,340.95 344.6,340.95 344.6,343.45 342.75,343.45 342.75,345.3 340.25,345.3 340.25,343.45 338.4,343.45 338.4,340.95 340.25,340.95" fill="#1f1fff" stroke="#1f1fff" stroke-width="0.3" stroke-linejoin="round"/>
<polygon points="307.95,352.9 310.45,352.9 310.45,354.75 312.3,354.75 312.3,357.25 310.45,357.25 310.45,359.1 307.95,359.1 307.95,357.25 306.1,357.25 306.1,354.75 307.95,354.75" fill="#1f1fff" stroke="#1f1fff" stroke-width="0.3" stroke-linejoin="round"/>
<text x="380" y="338.4" font-size="7.3" text-anchor="middle" fill="#3d3dff">B1</text>
<text x="341.5" y="352.7" font-size="7.3" text-anchor="middle" fill="#3d3dff">B3</text>
<text x="309.5" y="368" font-size="7.3" text-anchor="middle" fill="#3d3dff">B2</text>
<text x="406" y="374.7" font-size="7.3" text-anchor="middle" fill="#f46a6a">G1</text>
<text x="403.5" y="398.4" font-size="7.3" fill="#f46a6a">G3</text>
<text x="392.5" y="420" font-size="7.3" fill="#f46a6a">G2</text>
<text x="297.7" y="326.9" font-size="9.0" fill="#222">ρ<tspan font-size="6" dy="2">Breez</tspan><tspan dy="-2"> = 0.99 (**)</tspan></text>
<text x="297.7" y="337.1" font-size="7.2" fill="#222">p = 0.004</text>
<text x="332.5" y="386.4" font-size="9.0" fill="#222">ρ<tspan font-size="6" dy="2">Grex</tspan><tspan dy="-2"> = 0.91 (ns)</tspan></text>
<text x="332.5" y="396.4" font-size="7.2" fill="#222">p = 0.057</text>
<rect x="297" y="416.5" width="35.5" height="21.3" fill="#fff" stroke="#4b5b82" stroke-width="1.2" rx="2"/>
<polygon points="302,419 305.8,419 305.8,421.2 308,421.2 308,425 305.8,425 305.8,427.2 302,427.2 302,425 299.8,425 299.8,421.2 302,421.2" fill="#1f1fff" stroke="#1f1fff" stroke-width="0.3" stroke-linejoin="round"/>
<polygon points="303.9,427.54 300.18,429.69 300.18,433.99 303.9,436.14 307.62,433.99 307.62,429.69" fill="#f25a5a" stroke="#f25a5a" stroke-width="0.5" stroke-linejoin="round"/>
<text x="311.4" y="425.7" font-size="7.2" fill="#222">Breez</text>
<text x="311.4" y="434.44" font-size="7.2" fill="#222">GRex</text>
<text x="415.3" y="453.6" font-size="9" fill="#222">arb. unit</text>
<rect x="505.3" y="314.9" width="131.3" height="130" fill="#fff" stroke="none" stroke-width="1"/>
<rect x="505.3" y="314.9" width="131.3" height="130" fill="none" stroke="#a0a0a0" stroke-width="1"/>
<line x1="502.3" y1="444.9" x2="505.3" y2="444.9" stroke="#666" stroke-width="0.8"/>
<text x="501.1" y="448.14" font-size="9" text-anchor="end" fill="#222">0</text>
<line x1="502.3" y1="418.9" x2="505.3" y2="418.9" stroke="#666" stroke-width="0.8"/>
<text x="501.1" y="422.14" font-size="9" text-anchor="end" fill="#222">20</text>
<line x1="502.3" y1="392.9" x2="505.3" y2="392.9" stroke="#666" stroke-width="0.8"/>
<text x="501.1" y="396.14" font-size="9" text-anchor="end" fill="#222">40</text>
<line x1="502.3" y1="366.9" x2="505.3" y2="366.9" stroke="#666" stroke-width="0.8"/>
<text x="501.1" y="370.14" font-size="9" text-anchor="end" fill="#222">60</text>
<line x1="502.3" y1="340.9" x2="505.3" y2="340.9" stroke="#666" stroke-width="0.8"/>
<text x="501.1" y="344.14" font-size="9" text-anchor="end" fill="#222">80</text>
<line x1="502.3" y1="314.9" x2="505.3" y2="314.9" stroke="#666" stroke-width="0.8"/>
<text x="501.1" y="318.14" font-size="9" text-anchor="end" fill="#222">100</text>
<line x1="512.8" y1="444.9" x2="512.8" y2="447.9" stroke="#666" stroke-width="0.8"/>
<text x="516.04" y="448.9" font-size="9" text-anchor="end" fill="#222" transform="rotate(-90 516.04 448.9)">0.6</text>
<line x1="533.64" y1="444.9" x2="533.64" y2="447.9" stroke="#666" stroke-width="0.8"/>
<text x="536.88" y="448.9" font-size="9" text-anchor="end" fill="#222" transform="rotate(-90 536.88 448.9)">0.8</text>
<line x1="554.48" y1="444.9" x2="554.48" y2="447.9" stroke="#666" stroke-width="0.8"/>
<text x="557.72" y="448.9" font-size="9" text-anchor="end" fill="#222" transform="rotate(-90 557.72 448.9)">1.0</text>
<line x1="575.32" y1="444.9" x2="575.32" y2="447.9" stroke="#666" stroke-width="0.8"/>
<text x="578.56" y="448.9" font-size="9" text-anchor="end" fill="#222" transform="rotate(-90 578.56 448.9)">1.2</text>
<line x1="596.16" y1="444.9" x2="596.16" y2="447.9" stroke="#666" stroke-width="0.8"/>
<text x="599.4" y="448.9" font-size="9" text-anchor="end" fill="#222" transform="rotate(-90 599.4 448.9)">1.4</text>
<line x1="617" y1="444.9" x2="617" y2="447.9" stroke="#666" stroke-width="0.8"/>
<text x="620.24" y="448.9" font-size="9" text-anchor="end" fill="#222" transform="rotate(-90 620.24 448.9)">1.6</text>
<text x="484" y="377.1" font-size="10.3" text-anchor="middle" fill="#222" transform="rotate(-90 484 377.1)">1:5 Specific Lysis (%)</text>
<text x="462" y="305" font-size="10" fill="#222">(e)</text>
<circle cx="503.2" cy="303.5" r="5.9" fill="#7ee83f"/>
<text x="515.4" y="306" font-size="10.2" fill="#222"><tspan font-weight="bold">C6:</tspan> H<tspan font-size="6.5" dy="2">1</tspan><tspan dy="-2">,H</tspan><tspan font-size="6.5" dy="2">3</tspan><tspan dy="-2"> interquartile ratio</tspan></text>
<line x1="540.3" y1="356.6" x2="588.7" y2="327.1" stroke="#555" stroke-width="1" stroke-dasharray="3,2"/>
<line x1="572" y1="412.7" x2="616.6" y2="383" stroke="#555" stroke-width="1" stroke-dasharray="3,2"/>
<line x1="543.3" y1="343" x2="580.2" y2="343" stroke="#c9c9c9" stroke-width="0.8"/>
<line x1="543.3" y1="341.5" x2="543.3" y2="344.5" stroke="#c9c9c9" stroke-width="0.8"/>
<line x1="580.2" y1="341.5" x2="580.2" y2="344.5" stroke="#c9c9c9" stroke-width="0.8"/>
<line x1="511.4" y1="356.6" x2="569.7" y2="356.6" stroke="#c9c9c9" stroke-width="0.8"/>
<line x1="511.4" y1="355.1" x2="511.4" y2="358.1" stroke="#c9c9c9" stroke-width="0.8"/>
<line x1="569.7" y1="355.1" x2="569.7" y2="358.1" stroke="#c9c9c9" stroke-width="0.8"/>
<line x1="602.4" y1="383" x2="630.6" y2="383" stroke="#c9c9c9" stroke-width="0.8"/>
<line x1="602.4" y1="381.5" x2="602.4" y2="384.5" stroke="#c9c9c9" stroke-width="0.8"/>
<line x1="630.6" y1="381.5" x2="630.6" y2="384.5" stroke="#c9c9c9" stroke-width="0.8"/>
<line x1="545.5" y1="412.7" x2="599" y2="412.7" stroke="#c9c9c9" stroke-width="0.8"/>
<line x1="545.5" y1="411.2" x2="545.5" y2="414.2" stroke="#c9c9c9" stroke-width="0.8"/>
<line x1="599" y1="411.2" x2="599" y2="414.2" stroke="#c9c9c9" stroke-width="0.8"/>
<polygon points="616.6,379.4 613.48,381.2 613.48,384.8 616.6,386.6 619.72,384.8 619.72,381.2" fill="#f25a5a" stroke="#f25a5a" stroke-width="0.5" stroke-linejoin="round"/>
<polygon points="597.6,399.2 594.48,401 594.48,404.6 597.6,406.4 600.72,404.6 600.72,401" fill="#f25a5a" stroke="#f25a5a" stroke-width="0.5" stroke-linejoin="round"/>
<polygon points="572,409.1 568.88,410.9 568.88,414.5 572,416.3 575.12,414.5 575.12,410.9" fill="#f25a5a" stroke="#f25a5a" stroke-width="0.5" stroke-linejoin="round"/>
<polygon points="587.45,324 589.95,324 589.95,325.85 591.8,325.85 591.8,328.35 589.95,328.35 589.95,330.2 587.45,330.2 587.45,328.35 585.6,328.35 585.6,325.85 587.45,325.85" fill="#1f1fff" stroke="#1f1fff" stroke-width="0.3" stroke-linejoin="round"/>
<polygon points="560.65,339.9 563.15,339.9 563.15,341.75 565,341.75 565,344.25 563.15,344.25 563.15,346.1 560.65,346.1 560.65,344.25 558.8,344.25 558.8,341.75 560.65,341.75" fill="#1f1fff" stroke="#1f1fff" stroke-width="0.3" stroke-linejoin="round"/>
<polygon points="539.05,353.5 541.55,353.5 541.55,355.35 543.4,355.35 543.4,357.85 541.55,357.85 541.55,359.7 539.05,359.7 539.05,357.85 537.2,357.85 537.2,355.35 539.05,355.35" fill="#1f1fff" stroke="#1f1fff" stroke-width="0.3" stroke-linejoin="round"/>
<text x="592.5" y="334.9" font-size="7.3" fill="#3d3dff">B1</text>
<text x="565" y="352.6" font-size="7.3" fill="#3d3dff">B3</text>
<text x="540" y="368.5" font-size="7.3" text-anchor="middle" fill="#3d3dff">B2</text>
<text x="616.5" y="375.6" font-size="7.3" text-anchor="middle" fill="#f46a6a">G1</text>
<text x="594.6" y="393.1" font-size="7.3" text-anchor="middle" fill="#f46a6a">G3</text>
<text x="570.3" y="405" font-size="7.3" text-anchor="middle" fill="#f46a6a">G2</text>
<text x="509.7" y="327.8" font-size="9.0" fill="#222">ρ<tspan font-size="6" dy="2">Breez</tspan><tspan dy="-2"> = 0.99 (*)</tspan></text>
<text x="509.7" y="337.4" font-size="7.2" fill="#222">p = 0.014</text>
<text x="567.4" y="426.5" font-size="9.0" fill="#222">ρ<tspan font-size="6" dy="2">Grex</tspan><tspan dy="-2"> = 0.96 (ns)</tspan></text>
<text x="567.4" y="436.2" font-size="7.2" fill="#222">p = 0.178</text>
<rect x="509" y="419" width="35" height="21.3" fill="#fff" stroke="#4b5b82" stroke-width="1.2" rx="2"/>
<polygon points="514,421.5 517.8,421.5 517.8,423.7 520,423.7 520,427.5 517.8,427.5 517.8,429.7 514,429.7 514,427.5 511.8,427.5 511.8,423.7 514,423.7" fill="#1f1fff" stroke="#1f1fff" stroke-width="0.3" stroke-linejoin="round"/>
<polygon points="515.9,430.04 512.18,432.19 512.18,436.49 515.9,438.64 519.62,436.49 519.62,432.19" fill="#f25a5a" stroke="#f25a5a" stroke-width="0.5" stroke-linejoin="round"/>
<text x="523.4" y="428.2" font-size="7.2" fill="#222">Breez</text>
<text x="523.4" y="436.94" font-size="7.2" fill="#222">GRex</text>
<text x="628.6" y="453.5" font-size="9" font-weight="bold" fill="#111">arb. unit</text>
<rect x="83.6" y="609.3" width="107.5" height="111.2" fill="#fff" stroke="none" stroke-width="1"/>
<rect x="83.6" y="609.3" width="107.5" height="111.2" fill="none" stroke="#8a8a8a" stroke-width="1"/>
<line x1="81.6" y1="715.89" x2="83.6" y2="715.89" stroke="#666" stroke-width="0.8"/>
<text x="80" y="718.19" font-size="6.4" text-anchor="end" fill="#222">−0.5</text>
<line x1="81.6" y1="703.2" x2="83.6" y2="703.2" stroke="#666" stroke-width="0.8"/>
<text x="80" y="705.5" font-size="6.4" text-anchor="end" fill="#222">0.0</text>
<line x1="81.6" y1="690.51" x2="83.6" y2="690.51" stroke="#666" stroke-width="0.8"/>
<text x="80" y="692.81" font-size="6.4" text-anchor="end" fill="#222">0.5</text>
<line x1="81.6" y1="677.82" x2="83.6" y2="677.82" stroke="#666" stroke-width="0.8"/>
<text x="80" y="680.12" font-size="6.4" text-anchor="end" fill="#222">1.0</text>
<line x1="81.6" y1="665.13" x2="83.6" y2="665.13" stroke="#666" stroke-width="0.8"/>
<text x="80" y="667.43" font-size="6.4" text-anchor="end" fill="#222">1.5</text>
<line x1="81.6" y1="652.44" x2="83.6" y2="652.44" stroke="#666" stroke-width="0.8"/>
<text x="80" y="654.74" font-size="6.4" text-anchor="end" fill="#222">2.0</text>
<line x1="81.6" y1="639.75" x2="83.6" y2="639.75" stroke="#666" stroke-width="0.8"/>
<text x="80" y="642.05" font-size="6.4" text-anchor="end" fill="#222">2.5</text>
<line x1="81.6" y1="627.06" x2="83.6" y2="627.06" stroke="#666" stroke-width="0.8"/>
<text x="80" y="629.36" font-size="6.4" text-anchor="end" fill="#222">3.0</text>
<line x1="81.6" y1="614.37" x2="83.6" y2="614.37" stroke="#666" stroke-width="0.8"/>
<text x="80" y="616.67" font-size="6.4" text-anchor="end" fill="#222">3.5</text>
<line x1="96.7" y1="720.5" x2="96.7" y2="722.5" stroke="#666" stroke-width="0.8"/>
<text x="99" y="724.3" font-size="6.4" text-anchor="end" fill="#222" transform="rotate(-90 99 724.3)">−5</text>
<line x1="118.9" y1="720.5" x2="118.9" y2="722.5" stroke="#666" stroke-width="0.8"/>
<text x="121.2" y="724.3" font-size="6.4" text-anchor="end" fill="#222" transform="rotate(-90 121.2 724.3)">0</text>
<line x1="141.1" y1="720.5" x2="141.1" y2="722.5" stroke="#666" stroke-width="0.8"/>
<text x="143.4" y="724.3" font-size="6.4" text-anchor="end" fill="#222" transform="rotate(-90 143.4 724.3)">5</text>
<line x1="163.3" y1="720.5" x2="163.3" y2="722.5" stroke="#666" stroke-width="0.8"/>
<text x="165.6" y="724.3" font-size="6.4" text-anchor="end" fill="#222" transform="rotate(-90 165.6 724.3)">10</text>
<line x1="185.5" y1="720.5" x2="185.5" y2="722.5" stroke="#666" stroke-width="0.8"/>
<text x="187.8" y="724.3" font-size="6.4" text-anchor="end" fill="#222" transform="rotate(-90 187.8 724.3)">15</text>
<text x="65.9" y="659.8" font-size="8.9" text-anchor="middle" fill="#222" transform="rotate(-90 65.9 659.8)">IFN-γ (pg/mL)</text>
<text x="185.4" y="745.2" font-size="8.75" text-anchor="end" fill="#222">Kurtosis H<tspan font-size="6" dy="2">1</tspan><tspan dy="-2"> &amp; H</tspan><tspan font-size="6" dy="2">2</tspan><tspan dy="-2"> (arb. units)</tspan></text>
<text x="68.8" y="607.3" font-size="6.8" fill="#222">×10<tspan font-size="4.8" dy="-2.6">5</tspan></text>
<text x="55.2" y="596.8" font-size="10" fill="#222">(g)</text>
<circle cx="102.2" cy="600.2" r="4.6" fill="#f47878"/>
<text x="109" y="604.8" font-size="10.3" fill="#222">S26 vs IFN-γ</text>
<line x1="90.6" y1="652.8" x2="167.5" y2="694.6" stroke="#666" stroke-width="0.8" stroke-dasharray="2,1"/>
<line x1="90.6" y1="610" x2="90.6" y2="709" stroke="#c9c9c9" stroke-width="0.8"/>
<line x1="89.1" y1="610" x2="92.1" y2="610" stroke="#c9c9c9" stroke-width="0.8"/>
<line x1="89.1" y1="709" x2="92.1" y2="709" stroke="#c9c9c9" stroke-width="0.8"/>
<line x1="105.1" y1="674.3" x2="105.1" y2="690.1" stroke="#c9c9c9" stroke-width="0.8"/>
<line x1="103.6" y1="674.3" x2="106.6" y2="674.3" stroke="#c9c9c9" stroke-width="0.8"/>
<line x1="103.6" y1="690.1" x2="106.6" y2="690.1" stroke="#c9c9c9" stroke-width="0.8"/>
<line x1="132.7" y1="674.3" x2="154.2" y2="674.3" stroke="#c9c9c9" stroke-width="0.8"/>
<line x1="132.7" y1="672.8" x2="132.7" y2="675.8" stroke="#c9c9c9" stroke-width="0.8"/>
<line x1="154.2" y1="672.8" x2="154.2" y2="675.8" stroke="#c9c9c9" stroke-width="0.8"/>
<line x1="143.4" y1="668.2" x2="143.4" y2="680.5" stroke="#c9c9c9" stroke-width="0.8"/>
<line x1="141.9" y1="668.2" x2="144.9" y2="668.2" stroke="#c9c9c9" stroke-width="0.8"/>
<line x1="141.9" y1="680.5" x2="144.9" y2="680.5" stroke="#c9c9c9" stroke-width="0.8"/>
<line x1="153.6" y1="687" x2="165.4" y2="687" stroke="#c9c9c9" stroke-width="0.8"/>
<line x1="153.6" y1="685.5" x2="153.6" y2="688.5" stroke="#c9c9c9" stroke-width="0.8"/>
<line x1="165.4" y1="685.5" x2="165.4" y2="688.5" stroke="#c9c9c9" stroke-width="0.8"/>
<line x1="134.4" y1="691.5" x2="148.7" y2="691.5" stroke="#c9c9c9" stroke-width="0.8"/>
<line x1="134.4" y1="690" x2="134.4" y2="693" stroke="#c9c9c9" stroke-width="0.8"/>
<line x1="148.7" y1="690" x2="148.7" y2="693" stroke="#c9c9c9" stroke-width="0.8"/>
<line x1="148" y1="694.6" x2="186.3" y2="694.6" stroke="#c9c9c9" stroke-width="0.8"/>
<line x1="148" y1="693.1" x2="148" y2="696.1" stroke="#c9c9c9" stroke-width="0.8"/>
<line x1="186.3" y1="693.1" x2="186.3" y2="696.1" stroke="#c9c9c9" stroke-width="0.8"/>
<polygon points="90.6,632.5 88.09,633.95 88.09,636.85 90.6,638.3 93.11,636.85 93.11,633.95" fill="#f25a5a" stroke="#f25a5a" stroke-width="0.5" stroke-linejoin="round"/>
<polygon points="105.1,679.4 102.59,680.85 102.59,683.75 105.1,685.2 107.61,683.75 107.61,680.85" fill="#f25a5a" stroke="#f25a5a" stroke-width="0.5" stroke-linejoin="round"/>
<polygon points="143.4,671.4 140.89,672.85 140.89,675.75 143.4,677.2 145.91,675.75 145.91,672.85" fill="#f25a5a" stroke="#f25a5a" stroke-width="0.5" stroke-linejoin="round"/>
<polygon points="156.8,684.2 159,684.2 159,685.9 160.7,685.9 160.7,688.1 159,688.1 159,689.8 156.8,689.8 156.8,688.1 155.1,688.1 155.1,685.9 156.8,685.9" fill="#1f1fff" stroke="#1f1fff" stroke-width="0.3" stroke-linejoin="round"/>
<polygon points="140.8,688.7 143,688.7 143,690.4 144.7,690.4 144.7,692.6 143,692.6 143,694.3 140.8,694.3 140.8,692.6 139.1,692.6 139.1,690.4 140.8,690.4" fill="#1f1fff" stroke="#1f1fff" stroke-width="0.3" stroke-linejoin="round"/>
<polygon points="166,691.8 168.2,691.8 168.2,693.5 169.9,693.5 169.9,695.7 168.2,695.7 168.2,697.4 166,697.4 166,695.7 164.3,695.7 164.3,693.5 166,693.5" fill="#1f1fff" stroke="#1f1fff" stroke-width="0.3" stroke-linejoin="round"/>
<text x="95.1" y="633.6" font-size="7.1" fill="#f46a6a">G3</text>
<text x="130.6" y="668.6" font-size="7.1" fill="#f46a6a">G2</text>
<text x="107.2" y="690.6" font-size="7.1" fill="#f46a6a">G1</text>
<text x="160.8" y="682.2" font-size="7.1" fill="#3d3dff">B2</text>
<text x="131.4" y="701.1" font-size="7.1" fill="#3d3dff">B3</text>
<text x="164.2" y="705.3" font-size="7.1" fill="#3d3dff">B1</text>
<text x="183.8" y="619.6" font-size="7.2" text-anchor="end" fill="#222">ρ<tspan font-size="4.8" dy="1.6">cytokine</tspan><tspan dy="-1.6"> = -0.78 (ns)</tspan></text>
<text x="183.8" y="628.8" font-size="7.6" text-anchor="end" fill="#222">p = 0.069</text>
<rect x="149.1" y="634.3" width="35.4" height="22" fill="#fff" stroke="#4b5b82" stroke-width="1.2" rx="2"/>
<polygon points="154.3,637.32 157.7,637.32 157.7,639.42 159.8,639.42 159.8,642.82 157.7,642.82 157.7,644.92 154.3,644.92 154.3,642.82 152.2,642.82 152.2,639.42 154.3,639.42" fill="#1f1fff" stroke="#1f1fff" stroke-width="0.3" stroke-linejoin="round"/>
<polygon points="156,646.14 152.54,648.14 152.54,652.14 156,654.14 159.46,652.14 159.46,648.14" fill="#f25a5a" stroke="#f25a5a" stroke-width="0.5" stroke-linejoin="round"/>
<text x="163.5" y="643.72" font-size="7" fill="#222">Breez</text>
<text x="163.5" y="652.74" font-size="7" fill="#222">GRex</text>
<rect x="229.9" y="609.2" width="107.7" height="111.6" fill="#fff" stroke="none" stroke-width="1"/>
<rect x="229.9" y="609.2" width="107.7" height="111.6" fill="none" stroke="#8a8a8a" stroke-width="1"/>
<line x1="227.9" y1="716.93" x2="229.9" y2="716.93" stroke="#666" stroke-width="0.8"/>
<text x="226.3" y="719.23" font-size="6.4" text-anchor="end" fill="#222">−0.25</text>
<line x1="227.9" y1="702.7" x2="229.9" y2="702.7" stroke="#666" stroke-width="0.8"/>
<text x="226.3" y="705" font-size="6.4" text-anchor="end" fill="#222">0.00</text>
<line x1="227.9" y1="688.48" x2="229.9" y2="688.48" stroke="#666" stroke-width="0.8"/>
<text x="226.3" y="690.78" font-size="6.4" text-anchor="end" fill="#222">0.25</text>
<line x1="227.9" y1="674.25" x2="229.9" y2="674.25" stroke="#666" stroke-width="0.8"/>
<text x="226.3" y="676.55" font-size="6.4" text-anchor="end" fill="#222">0.50</text>
<line x1="227.9" y1="660.03" x2="229.9" y2="660.03" stroke="#666" stroke-width="0.8"/>
<text x="226.3" y="662.33" font-size="6.4" text-anchor="end" fill="#222">0.75</text>
<line x1="227.9" y1="645.8" x2="229.9" y2="645.8" stroke="#666" stroke-width="0.8"/>
<text x="226.3" y="648.1" font-size="6.4" text-anchor="end" fill="#222">1.00</text>
<line x1="227.9" y1="631.58" x2="229.9" y2="631.58" stroke="#666" stroke-width="0.8"/>
<text x="226.3" y="633.88" font-size="6.4" text-anchor="end" fill="#222">1.25</text>
<line x1="227.9" y1="617.35" x2="229.9" y2="617.35" stroke="#666" stroke-width="0.8"/>
<text x="226.3" y="619.65" font-size="6.4" text-anchor="end" fill="#222">1.50</text>
<line x1="253.6" y1="720.8" x2="253.6" y2="722.8" stroke="#666" stroke-width="0.8"/>
<text x="255.9" y="724.6" font-size="6.4" text-anchor="end" fill="#222" transform="rotate(-90 255.9 724.6)">24.0</text>
<line x1="282.5" y1="720.8" x2="282.5" y2="722.8" stroke="#666" stroke-width="0.8"/>
<text x="284.8" y="724.6" font-size="6.4" text-anchor="end" fill="#222" transform="rotate(-90 284.8 724.6)">24.5</text>
<line x1="311.4" y1="720.8" x2="311.4" y2="722.8" stroke="#666" stroke-width="0.8"/>
<text x="313.7" y="724.6" font-size="6.4" text-anchor="end" fill="#222" transform="rotate(-90 313.7 724.6)">25.0</text>
<text x="210.6" y="659.8" font-size="8.9" text-anchor="middle" fill="#222" transform="rotate(-90 210.6 659.8)">GM-CSF (pg/mL)</text>
<text x="284" y="745.8" font-size="8.9" text-anchor="middle" fill="#222">Mean Gated H<tspan font-size="6" dy="2">2</tspan><tspan dy="-2"> bins (%)</tspan></text>
<text x="215.5" y="607.3" font-size="6.8" fill="#222">×10<tspan font-size="4.8" dy="-2.6">5</tspan></text>
<text x="199.7" y="596.2" font-size="10" fill="#222">(h)</text>
<circle cx="244.4" cy="600.2" r="4.6" fill="#ffb400"/>
<text x="253" y="604.8" font-size="10.3" fill="#222">S17 vs GM-CSF</text>
<line x1="237.8" y1="640.2" x2="323.2" y2="697.5" stroke="#666" stroke-width="0.8" stroke-dasharray="2,1"/>
<line x1="238.3" y1="630" x2="238.3" y2="641" stroke="#c9c9c9" stroke-width="0.8"/>
<line x1="236.8" y1="630" x2="239.8" y2="630" stroke="#c9c9c9" stroke-width="0.8"/>
<line x1="236.8" y1="641" x2="239.8" y2="641" stroke="#c9c9c9" stroke-width="0.8"/>
<line x1="240.4" y1="643" x2="240.4" y2="654" stroke="#c9c9c9" stroke-width="0.8"/>
<line x1="238.9" y1="643" x2="241.9" y2="643" stroke="#c9c9c9" stroke-width="0.8"/>
<line x1="238.9" y1="654" x2="241.9" y2="654" stroke="#c9c9c9" stroke-width="0.8"/>
<line x1="251.5" y1="636" x2="251.5" y2="647" stroke="#c9c9c9" stroke-width="0.8"/>
<line x1="250" y1="636" x2="253" y2="636" stroke="#c9c9c9" stroke-width="0.8"/>
<line x1="250" y1="647" x2="253" y2="647" stroke="#c9c9c9" stroke-width="0.8"/>
<line x1="305.6" y1="680" x2="305.6" y2="690" stroke="#c9c9c9" stroke-width="0.8"/>
<line x1="304.1" y1="680" x2="307.1" y2="680" stroke="#c9c9c9" stroke-width="0.8"/>
<line x1="304.1" y1="690" x2="307.1" y2="690" stroke="#c9c9c9" stroke-width="0.8"/>
<line x1="318" y1="694.6" x2="331" y2="694.6" stroke="#c9c9c9" stroke-width="0.8"/>
<line x1="318" y1="693.1" x2="318" y2="696.1" stroke="#c9c9c9" stroke-width="0.8"/>
<line x1="331" y1="693.1" x2="331" y2="696.1" stroke="#c9c9c9" stroke-width="0.8"/>
<polygon points="238.3,632.5 235.79,633.95 235.79,636.85 238.3,638.3 240.81,636.85 240.81,633.95" fill="#f25a5a" stroke="#f25a5a" stroke-width="0.5" stroke-linejoin="round"/>
<polygon points="251.5,638.6 248.99,640.05 248.99,642.95 251.5,644.4 254.01,642.95 254.01,640.05" fill="#f25a5a" stroke="#f25a5a" stroke-width="0.5" stroke-linejoin="round"/>
<polygon points="240.4,645.7 237.89,647.15 237.89,650.05 240.4,651.5 242.91,650.05 242.91,647.15" fill="#f25a5a" stroke="#f25a5a" stroke-width="0.5" stroke-linejoin="round"/>
<polygon points="286.6,682.6 288.8,682.6 288.8,684.3 290.5,684.3 290.5,686.5 288.8,686.5 288.8,688.2 286.6,688.2 286.6,686.5 284.9,686.5 284.9,684.3 286.6,684.3" fill="#1f1fff" stroke="#1f1fff" stroke-width="0.3" stroke-linejoin="round"/>
<polygon points="304.5,680.7 306.7,680.7 306.7,682.4 308.4,682.4 308.4,684.6 306.7,684.6 306.7,686.3 304.5,686.3 304.5,684.6 302.8,684.6 302.8,682.4 304.5,682.4" fill="#1f1fff" stroke="#1f1fff" stroke-width="0.3" stroke-linejoin="round"/>
<polygon points="324.2,691.8 326.4,691.8 326.4,693.5 328.1,693.5 328.1,695.7 326.4,695.7 326.4,697.4 324.2,697.4 324.2,695.7 322.5,695.7 322.5,693.5 324.2,693.5" fill="#1f1fff" stroke="#1f1fff" stroke-width="0.3" stroke-linejoin="round"/>
<text x="239.9" y="628.4" font-size="7.1" fill="#f46a6a">G2</text>
<text x="260.1" y="638.9" font-size="7.1" fill="#f46a6a">G3</text>
<text x="241.7" y="659.9" font-size="7.1" fill="#f46a6a">G1</text>
<text x="275.1" y="681.7" font-size="7.1" fill="#3d3dff">B1</text>
<text x="301.4" y="676.4" font-size="7.1" fill="#3d3dff">B2</text>
<text x="316.6" y="705.9" font-size="7.1" fill="#3d3dff">B3</text>
<text x="332.9" y="619.3" font-size="7.2" text-anchor="end" fill="#222">ρ<tspan font-size="4.8" dy="1.6">cytokine</tspan><tspan dy="-1.6"> = 0.95 (**)</tspan></text>
<text x="332.9" y="628.5" font-size="7.6" text-anchor="end" fill="#222">p = 0.004</text>
<rect x="234.7" y="692.7" width="35.4" height="21.8" fill="#fff" stroke="#4b5b82" stroke-width="1.2" rx="2"/>
<polygon points="239.9,695.66 243.3,695.66 243.3,697.76 245.4,697.76 245.4,701.16 243.3,701.16 243.3,703.26 239.9,703.26 239.9,701.16 237.8,701.16 237.8,697.76 239.9,697.76" fill="#1f1fff" stroke="#1f1fff" stroke-width="0.3" stroke-linejoin="round"/>
<polygon points="241.6,704.4 238.14,706.4 238.14,710.4 241.6,712.4 245.06,710.4 245.06,706.4" fill="#f25a5a" stroke="#f25a5a" stroke-width="0.5" stroke-linejoin="round"/>
<text x="249.1" y="702.06" font-size="7" fill="#222">Breez</text>
<text x="249.1" y="711" font-size="7" fill="#222">GRex</text>
<rect x="381.5" y="609.2" width="107" height="111.6" fill="#fff" stroke="none" stroke-width="1"/>
<rect x="381.5" y="609.2" width="107" height="111.6" fill="none" stroke="#8a8a8a" stroke-width="1"/>
<line x1="379.5" y1="717" x2="381.5" y2="717" stroke="#666" stroke-width="0.8"/>
<text x="377.9" y="719.3" font-size="6.4" text-anchor="end" fill="#222">−0.5</text>
<line x1="379.5" y1="700.1" x2="381.5" y2="700.1" stroke="#666" stroke-width="0.8"/>
<text x="377.9" y="702.4" font-size="6.4" text-anchor="end" fill="#222">0.0</text>
<line x1="379.5" y1="683.2" x2="381.5" y2="683.2" stroke="#666" stroke-width="0.8"/>
<text x="377.9" y="685.5" font-size="6.4" text-anchor="end" fill="#222">0.5</text>
<line x1="379.5" y1="666.3" x2="381.5" y2="666.3" stroke="#666" stroke-width="0.8"/>
<text x="377.9" y="668.6" font-size="6.4" text-anchor="end" fill="#222">1.0</text>
<line x1="379.5" y1="649.4" x2="381.5" y2="649.4" stroke="#666" stroke-width="0.8"/>
<text x="377.9" y="651.7" font-size="6.4" text-anchor="end" fill="#222">1.5</text>
<line x1="379.5" y1="632.5" x2="381.5" y2="632.5" stroke="#666" stroke-width="0.8"/>
<text x="377.9" y="634.8" font-size="6.4" text-anchor="end" fill="#222">2.0</text>
<line x1="379.5" y1="615.6" x2="381.5" y2="615.6" stroke="#666" stroke-width="0.8"/>
<text x="377.9" y="617.9" font-size="6.4" text-anchor="end" fill="#222">2.5</text>
<line x1="387.9" y1="720.8" x2="387.9" y2="722.8" stroke="#666" stroke-width="0.8"/>
<text x="390.2" y="724.6" font-size="6.4" text-anchor="end" fill="#222" transform="rotate(-90 390.2 724.6)">0.25</text>
<line x1="403.72" y1="720.8" x2="403.72" y2="722.8" stroke="#666" stroke-width="0.8"/>
<text x="406.03" y="724.6" font-size="6.4" text-anchor="end" fill="#222" transform="rotate(-90 406.03 724.6)">0.50</text>
<line x1="419.55" y1="720.8" x2="419.55" y2="722.8" stroke="#666" stroke-width="0.8"/>
<text x="421.85" y="724.6" font-size="6.4" text-anchor="end" fill="#222" transform="rotate(-90 421.85 724.6)">0.75</text>
<line x1="435.38" y1="720.8" x2="435.38" y2="722.8" stroke="#666" stroke-width="0.8"/>
<text x="437.68" y="724.6" font-size="6.4" text-anchor="end" fill="#222" transform="rotate(-90 437.68 724.6)">1.00</text>
<line x1="451.2" y1="720.8" x2="451.2" y2="722.8" stroke="#666" stroke-width="0.8"/>
<text x="453.5" y="724.6" font-size="6.4" text-anchor="end" fill="#222" transform="rotate(-90 453.5 724.6)">1.25</text>
<line x1="467.02" y1="720.8" x2="467.02" y2="722.8" stroke="#666" stroke-width="0.8"/>
<text x="469.33" y="724.6" font-size="6.4" text-anchor="end" fill="#222" transform="rotate(-90 469.33 724.6)">1.50</text>
<line x1="482.85" y1="720.8" x2="482.85" y2="722.8" stroke="#666" stroke-width="0.8"/>
<text x="485.15" y="724.6" font-size="6.4" text-anchor="end" fill="#222" transform="rotate(-90 485.15 724.6)">1.75</text>
<text x="367.5" y="659.8" font-size="8.9" text-anchor="middle" fill="#222" transform="rotate(-90 367.5 659.8)">IL-5 (pg/mL)</text>
<text x="435.4" y="745.8" font-size="8.85" text-anchor="middle" fill="#222">Gated H<tspan font-size="6" dy="2">4</tspan><tspan dy="-2"> bins (%)</tspan></text>
<text x="367.9" y="607.3" font-size="6.8" fill="#222">×10<tspan font-size="4.8" dy="-2.6">3</tspan></text>
<text x="348.6" y="595.8" font-size="10" fill="#222">(i)</text>
<circle cx="405.2" cy="601.3" r="4.6" fill="#2ecc40"/>
<text x="413.6" y="604.8" font-size="10.3" fill="#222">D6 vs IL-5</text>
<line x1="392" y1="692.7" x2="464.3" y2="635.4" stroke="#666" stroke-width="0.8" stroke-dasharray="2,1"/>
<line x1="443.3" y1="635.4" x2="484" y2="635.4" stroke="#c9c9c9" stroke-width="0.8"/>
<line x1="443.3" y1="633.9" x2="443.3" y2="636.9" stroke="#c9c9c9" stroke-width="0.8"/>
<line x1="484" y1="633.9" x2="484" y2="636.9" stroke="#c9c9c9" stroke-width="0.8"/>
<line x1="434.1" y1="644.9" x2="472.2" y2="644.9" stroke="#c9c9c9" stroke-width="0.8"/>
<line x1="434.1" y1="643.4" x2="434.1" y2="646.4" stroke="#c9c9c9" stroke-width="0.8"/>
<line x1="472.2" y1="643.4" x2="472.2" y2="646.4" stroke="#c9c9c9" stroke-width="0.8"/>
<line x1="437.2" y1="649.9" x2="459.8" y2="649.9" stroke="#c9c9c9" stroke-width="0.8"/>
<line x1="437.2" y1="648.4" x2="437.2" y2="651.4" stroke="#c9c9c9" stroke-width="0.8"/>
<line x1="459.8" y1="648.4" x2="459.8" y2="651.4" stroke="#c9c9c9" stroke-width="0.8"/>
<line x1="398.6" y1="686.9" x2="411" y2="686.9" stroke="#c9c9c9" stroke-width="0.8"/>
<line x1="398.6" y1="685.4" x2="398.6" y2="688.4" stroke="#c9c9c9" stroke-width="0.8"/>
<line x1="411" y1="685.4" x2="411" y2="688.4" stroke="#c9c9c9" stroke-width="0.8"/>
<line x1="386.3" y1="693.5" x2="398.6" y2="693.5" stroke="#c9c9c9" stroke-width="0.8"/>
<line x1="386.3" y1="692" x2="386.3" y2="695" stroke="#c9c9c9" stroke-width="0.8"/>
<line x1="398.6" y1="692" x2="398.6" y2="695" stroke="#c9c9c9" stroke-width="0.8"/>
<polygon points="404.4,684 401.89,685.45 401.89,688.35 404.4,689.8 406.91,688.35 406.91,685.45" fill="#f25a5a" stroke="#f25a5a" stroke-width="0.5" stroke-linejoin="round"/>
<polygon points="395.2,685.4 392.69,686.85 392.69,689.75 395.2,691.2 397.71,689.75 397.71,686.85" fill="#f25a5a" stroke="#f25a5a" stroke-width="0.5" stroke-linejoin="round"/>
<polygon points="392,690.6 389.49,692.05 389.49,694.95 392,696.4 394.51,694.95 394.51,692.05" fill="#f25a5a" stroke="#f25a5a" stroke-width="0.5" stroke-linejoin="round"/>
<polygon points="462.7,632.6 464.9,632.6 464.9,634.3 466.6,634.3 466.6,636.5 464.9,636.5 464.9,638.2 462.7,638.2 462.7,636.5 461,636.5 461,634.3 462.7,634.3" fill="#1f1fff" stroke="#1f1fff" stroke-width="0.3" stroke-linejoin="round"/>
<polygon points="452.2,642.1 454.4,642.1 454.4,643.8 456.1,643.8 456.1,646 454.4,646 454.4,647.7 452.2,647.7 452.2,646 450.5,646 450.5,643.8 452.2,643.8" fill="#1f1fff" stroke="#1f1fff" stroke-width="0.3" stroke-linejoin="round"/>
<polygon points="447.4,647.1 449.6,647.1 449.6,648.8 451.3,648.8 451.3,651 449.6,651 449.6,652.7 447.4,652.7 447.4,651 445.7,651 445.7,648.8 447.4,648.8" fill="#1f1fff" stroke="#1f1fff" stroke-width="0.3" stroke-linejoin="round"/>
<text x="390" y="681.7" font-size="7.1" fill="#f46a6a">G3</text>
<text x="413.6" y="689.6" font-size="7.1" fill="#f46a6a">G2</text>
<text x="388.6" y="704.5" font-size="7.1" fill="#f46a6a">G1</text>
<text x="466.1" y="631.8" font-size="7.1" fill="#3d3dff">B2</text>
<text x="440.6" y="643.3" font-size="7.1" fill="#3d3dff">B3</text>
<text x="445.1" y="659.9" font-size="7.1" fill="#3d3dff">B1</text>
<text x="386" y="619.3" font-size="7.2" fill="#222">ρ<tspan font-size="4.8" dy="1.6">cytokine</tspan><tspan dy="-1.6"> = 0.99 (****)</tspan></text>
<text x="386" y="628.5" font-size="7.6" fill="#222">p = 1.9x10<tspan font-size="4.8" dy="-2.5">-5</tspan></text>
<rect x="448" y="694" width="35.2" height="21" fill="#fff" stroke="#4b5b82" stroke-width="1.2" rx="2"/>
<polygon points="453.2,696.71 456.6,696.71 456.6,698.81 458.7,698.81 458.7,702.21 456.6,702.21 456.6,704.31 453.2,704.31 453.2,702.21 451.1,702.21 451.1,698.81 453.2,698.81" fill="#1f1fff" stroke="#1f1fff" stroke-width="0.3" stroke-linejoin="round"/>
<polygon points="454.9,705.12 451.44,707.12 451.44,711.12 454.9,713.12 458.36,711.12 458.36,707.12" fill="#f25a5a" stroke="#f25a5a" stroke-width="0.5" stroke-linejoin="round"/>
<text x="462.4" y="703.11" font-size="7" fill="#222">Breez</text>
<text x="462.4" y="711.72" font-size="7" fill="#222">GRex</text>
<rect x="528.5" y="609" width="107.9" height="110.6" fill="#fff" stroke="none" stroke-width="1"/>
<rect x="528.5" y="609" width="107.9" height="110.6" fill="none" stroke="#8a8a8a" stroke-width="1"/>
<line x1="526.5" y1="708.7" x2="528.5" y2="708.7" stroke="#666" stroke-width="0.8"/>
<text x="524.9" y="711" font-size="6.4" text-anchor="end" fill="#222">3</text>
<line x1="526.5" y1="694.33" x2="528.5" y2="694.33" stroke="#666" stroke-width="0.8"/>
<text x="524.9" y="696.63" font-size="6.4" text-anchor="end" fill="#222">4</text>
<line x1="526.5" y1="679.96" x2="528.5" y2="679.96" stroke="#666" stroke-width="0.8"/>
<text x="524.9" y="682.26" font-size="6.4" text-anchor="end" fill="#222">5</text>
<line x1="526.5" y1="665.59" x2="528.5" y2="665.59" stroke="#666" stroke-width="0.8"/>
<text x="524.9" y="667.89" font-size="6.4" text-anchor="end" fill="#222">6</text>
<line x1="526.5" y1="651.22" x2="528.5" y2="651.22" stroke="#666" stroke-width="0.8"/>
<text x="524.9" y="653.52" font-size="6.4" text-anchor="end" fill="#222">7</text>
<line x1="526.5" y1="636.85" x2="528.5" y2="636.85" stroke="#666" stroke-width="0.8"/>
<text x="524.9" y="639.15" font-size="6.4" text-anchor="end" fill="#222">8</text>
<line x1="526.5" y1="622.48" x2="528.5" y2="622.48" stroke="#666" stroke-width="0.8"/>
<text x="524.9" y="624.78" font-size="6.4" text-anchor="end" fill="#222">9</text>
<line x1="530.3" y1="719.6" x2="530.3" y2="721.6" stroke="#666" stroke-width="0.8"/>
<text x="532.6" y="723.4" font-size="6.4" text-anchor="end" fill="#222" transform="rotate(-90 532.6 723.4)">12</text>
<line x1="554.8" y1="719.6" x2="554.8" y2="721.6" stroke="#666" stroke-width="0.8"/>
<text x="557.1" y="723.4" font-size="6.4" text-anchor="end" fill="#222" transform="rotate(-90 557.1 723.4)">14</text>
<line x1="579.3" y1="719.6" x2="579.3" y2="721.6" stroke="#666" stroke-width="0.8"/>
<text x="581.6" y="723.4" font-size="6.4" text-anchor="end" fill="#222" transform="rotate(-90 581.6 723.4)">16</text>
<line x1="603.8" y1="719.6" x2="603.8" y2="721.6" stroke="#666" stroke-width="0.8"/>
<text x="606.1" y="723.4" font-size="6.4" text-anchor="end" fill="#222" transform="rotate(-90 606.1 723.4)">18</text>
<line x1="628.3" y1="719.6" x2="628.3" y2="721.6" stroke="#666" stroke-width="0.8"/>
<text x="630.6" y="723.4" font-size="6.4" text-anchor="end" fill="#222" transform="rotate(-90 630.6 723.4)">20</text>
<text x="514" y="659.8" font-size="8.9" text-anchor="middle" fill="#222" transform="rotate(-90 514 659.8)">GZB (pg/mL)</text>
<text x="542.7" y="742.6" font-size="8.85" fill="#222">H<tspan font-size="6" dy="2">1</tspan><tspan dy="-2"> interquartile (%)</tspan></text>
<text x="513.3" y="607.3" font-size="6.8" fill="#222">×10<tspan font-size="4.8" dy="-2.6">3</tspan></text>
<text x="495.8" y="596.2" font-size="10" fill="#222">(j)</text>
<circle cx="552" cy="600.8" r="4.6" fill="#1aa7ec"/>
<text x="560.5" y="604.8" font-size="10.3" fill="#222">S4 vs GZB</text>
<line x1="535" y1="693.9" x2="620.1" y2="635.2" stroke="#666" stroke-width="0.8" stroke-dasharray="2,1"/>
<line x1="608.8" y1="635.2" x2="631.8" y2="635.2" stroke="#c9c9c9" stroke-width="0.8"/>
<line x1="608.8" y1="633.7" x2="608.8" y2="636.7" stroke="#c9c9c9" stroke-width="0.8"/>
<line x1="631.8" y1="633.7" x2="631.8" y2="636.7" stroke="#c9c9c9" stroke-width="0.8"/>
<line x1="620.1" y1="618.5" x2="620.1" y2="652.4" stroke="#c9c9c9" stroke-width="0.8"/>
<line x1="618.6" y1="618.5" x2="621.6" y2="618.5" stroke="#c9c9c9" stroke-width="0.8"/>
<line x1="618.6" y1="652.4" x2="621.6" y2="652.4" stroke="#c9c9c9" stroke-width="0.8"/>
<line x1="573.2" y1="630.8" x2="573.2" y2="675.4" stroke="#c9c9c9" stroke-width="0.8"/>
<line x1="571.7" y1="630.8" x2="574.7" y2="630.8" stroke="#c9c9c9" stroke-width="0.8"/>
<line x1="571.7" y1="675.4" x2="574.7" y2="675.4" stroke="#c9c9c9" stroke-width="0.8"/>
<line x1="568" y1="653.2" x2="578" y2="653.2" stroke="#c9c9c9" stroke-width="0.8"/>
<line x1="568" y1="651.7" x2="568" y2="654.7" stroke="#c9c9c9" stroke-width="0.8"/>
<line x1="578" y1="651.7" x2="578" y2="654.7" stroke="#c9c9c9" stroke-width="0.8"/>
<line x1="551.8" y1="658" x2="551.8" y2="705.9" stroke="#c9c9c9" stroke-width="0.8"/>
<line x1="550.3" y1="658" x2="553.3" y2="658" stroke="#c9c9c9" stroke-width="0.8"/>
<line x1="550.3" y1="705.9" x2="553.3" y2="705.9" stroke="#c9c9c9" stroke-width="0.8"/>
<line x1="556.8" y1="678.7" x2="584.1" y2="678.7" stroke="#c9c9c9" stroke-width="0.8"/>
<line x1="556.8" y1="677.2" x2="556.8" y2="680.2" stroke="#c9c9c9" stroke-width="0.8"/>
<line x1="584.1" y1="677.2" x2="584.1" y2="680.2" stroke="#c9c9c9" stroke-width="0.8"/>
<line x1="569.9" y1="655.8" x2="569.9" y2="701.6" stroke="#c9c9c9" stroke-width="0.8"/>
<line x1="568.4" y1="655.8" x2="571.4" y2="655.8" stroke="#c9c9c9" stroke-width="0.8"/>
<line x1="568.4" y1="701.6" x2="571.4" y2="701.6" stroke="#c9c9c9" stroke-width="0.8"/>
<line x1="536.8" y1="683" x2="536.8" y2="705.9" stroke="#c9c9c9" stroke-width="0.8"/>
<line x1="535.3" y1="683" x2="538.3" y2="683" stroke="#c9c9c9" stroke-width="0.8"/>
<line x1="535.3" y1="705.9" x2="538.3" y2="705.9" stroke="#c9c9c9" stroke-width="0.8"/>
<polygon points="573.2,650.3 570.69,651.75 570.69,654.65 573.2,656.1 575.71,654.65 575.71,651.75" fill="#f25a5a" stroke="#f25a5a" stroke-width="0.5" stroke-linejoin="round"/>
<polygon points="551.8,679.5 549.29,680.95 549.29,683.85 551.8,685.3 554.31,683.85 554.31,680.95" fill="#f25a5a" stroke="#f25a5a" stroke-width="0.5" stroke-linejoin="round"/>
<polygon points="534.6,690.6 532.09,692.05 532.09,694.95 534.6,696.4 537.11,694.95 537.11,692.05" fill="#f25a5a" stroke="#f25a5a" stroke-width="0.5" stroke-linejoin="round"/>
<polygon points="619,632.4 621.2,632.4 621.2,634.1 622.9,634.1 622.9,636.3 621.2,636.3 621.2,638 619,638 619,636.3 617.3,636.3 617.3,634.1 619,634.1" fill="#1f1fff" stroke="#1f1fff" stroke-width="0.3" stroke-linejoin="round"/>
<polygon points="568.8,675.9 571,675.9 571,677.6 572.7,677.6 572.7,679.8 571,679.8 571,681.5 568.8,681.5 568.8,679.8 567.1,679.8 567.1,677.6 568.8,677.6" fill="#1f1fff" stroke="#1f1fff" stroke-width="0.3" stroke-linejoin="round"/>
<polygon points="535.7,691.1 537.9,691.1 537.9,692.8 539.6,692.8 539.6,695 537.9,695 537.9,696.7 535.7,696.7 535.7,695 534,695 534,692.8 535.7,692.8" fill="#1f1fff" stroke="#1f1fff" stroke-width="0.3" stroke-linejoin="round"/>
<text x="575.8" y="648.2" font-size="7.1" fill="#f46a6a">G1</text>
<text x="552.5" y="672.1" font-size="7.1" fill="#f46a6a">G3</text>
<text x="530.7" y="679.8" font-size="7.1" fill="#f46a6a">G2</text>
<text x="572.7" y="687.4" font-size="7.1" fill="#3d3dff">B2</text>
<text x="539" y="704.4" font-size="7.1" fill="#3d3dff">B1</text>
<text x="608.8" y="649.5" font-size="7.1" fill="#3d3dff">B3</text>
<text x="529.6" y="618.9" font-size="7.2" fill="#222">ρ<tspan font-size="4.8" dy="1.6">cytokine</tspan><tspan dy="-1.6"> = 0.95 (**)</tspan></text>
<text x="531.8" y="627.6" font-size="7.6" fill="#222">p = 0.003</text>
<rect x="592.7" y="692.5" width="35.7" height="21.9" fill="#fff" stroke="#4b5b82" stroke-width="1.2" rx="2"/>
<polygon points="597.9,695.49 601.3,695.49 601.3,697.59 603.4,697.59 603.4,700.99 601.3,700.99 601.3,703.09 597.9,703.09 597.9,700.99 595.8,700.99 595.8,697.59 597.9,697.59" fill="#1f1fff" stroke="#1f1fff" stroke-width="0.3" stroke-linejoin="round"/>
<polygon points="599.6,704.27 596.14,706.27 596.14,710.27 599.6,712.27 603.06,710.27 603.06,706.27" fill="#f25a5a" stroke="#f25a5a" stroke-width="0.5" stroke-linejoin="round"/>
<text x="607.1" y="701.89" font-size="7" fill="#222">Breez</text>
<text x="607.1" y="710.87" font-size="7" fill="#222">GRex</text>
</svg></body></html>
